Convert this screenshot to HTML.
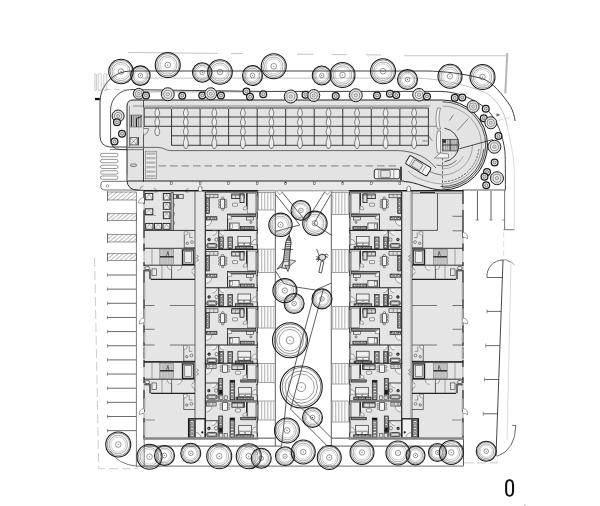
<!DOCTYPE html>
<html><head><meta charset="utf-8"><title>Site plan</title>
<style>
html,body{margin:0;padding:0;background:#fff;}
body{width:600px;height:506px;overflow:hidden;font-family:"Liberation Sans",sans-serif;}
svg{display:block}
</style></head><body>
<svg width="600" height="506" viewBox="0 0 600 506">
<rect width="600" height="506" fill="#fff"/>
<!-- fills -->
<path d="M133,100 H442.5 A45,45 0 0 1 442.5,190 C428,190 418,182 404,182 H135 Q127,182 127,174 V106 Q127,100 133,100 Z" fill="#e3e3e3" stroke="none" stroke-width="0" />
<path d="M127,174 V180 Q127,190.8 139,190.8 H441 V181 H127 Z" fill="#e9e9e9" stroke="none" stroke-width="0" />
<rect x="143.75" y="191.30" width="114.25" height="247.45" fill="#e5e5e5" stroke="none" stroke-width="0" />
<rect x="349.00" y="191.30" width="114.25" height="247.45" fill="#e5e5e5" stroke="none" stroke-width="0" />
<!-- roads -->
<path d="M128,52.5 L404,55.2" fill="none" stroke="#c4c4c4" stroke-width="1.0" stroke-dasharray="90 13 12 54 16 19 15 19 15 23 11 200"/>
<path d="M404,55.8 H506.5" fill="none" stroke="#c6c6c6" stroke-width="1.1" />
<path d="M507.3,53 L505.3,93.3" fill="none" stroke="#b5b5b5" stroke-width="2.0" />
<path d="M131,71 H425 C445,71 465,74 482.7,78.7 C493,82.5 503,95 510.7,106.7 C513,111 514.5,116 515,121" fill="none" stroke="#2a2a2a" stroke-width="0.9" />
<path d="M131,71 A31,31 0 0 0 100,102 V136 Q100,146 110,147 H127" fill="none" stroke="#2a2a2a" stroke-width="0.9" />
<path d="M142,78.1 H415 C440,78.4 468,85 486.7,93.3 C497,100 505,112 507.3,126.7" fill="none" stroke="#9a9a9a" stroke-width="0.6" />
<path d="M507.3,126.7 C510,140 514.2,155 514.2,172.5 V229.5" fill="none" stroke="#c2c2c2" stroke-width="0.6" />
<path d="M496.5,113.3 l4,1.6 l-4,1.6 z" fill="#666" stroke="none" stroke-width="0" />
<line x1="498.00" y1="120.50" x2="510.00" y2="117.50" stroke="#bbb" stroke-width="0.6" stroke-dasharray="5 2"/>
<path d="M131,89.6 L260,91.4 H440 C458,91.6 476,99.5 487.5,110 C497,120 503,135 505,152 C505.4,160 505.4,175 505.4,190" fill="none" stroke="#2a2a2a" stroke-width="0.9" />
<path d="M133,91.8 H262" fill="none" stroke="#555" stroke-width="0.5" />
<path d="M131,89.6 A20.4,20.4 0 0 0 110.6,110 V139 Q110.6,149.6 121,149.6 H127" fill="none" stroke="#2a2a2a" stroke-width="0.8" />
<line x1="105.00" y1="89.60" x2="127.00" y2="89.60" stroke="#bbb" stroke-width="0.7" stroke-dasharray="6 3"/>
<rect x="94.90" y="73.75" width="1.50" height="16.80" fill="none" stroke="#999" stroke-width="0.5" rx="0.8"/>
<rect x="98.20" y="73.75" width="3.00" height="16.80" fill="none" stroke="#999" stroke-width="0.5" rx="0.8"/>
<rect x="103.80" y="73.75" width="3.00" height="16.80" fill="none" stroke="#999" stroke-width="0.5" rx="0.8"/>
<rect x="95.00" y="97.90" width="4.80" height="2.30" fill="#111" stroke="none" stroke-width="0" />
<rect x="100.50" y="153.40" width="17.50" height="3.30" fill="none" stroke="#555" stroke-width="0.6" rx="1.6"/>
<rect x="100.50" y="159.40" width="17.50" height="3.30" fill="none" stroke="#555" stroke-width="0.6" rx="1.6"/>
<rect x="100.50" y="165.20" width="17.50" height="3.30" fill="none" stroke="#555" stroke-width="0.6" rx="1.6"/>
<rect x="100.50" y="170.80" width="17.50" height="3.30" fill="none" stroke="#555" stroke-width="0.6" rx="1.6"/>
<rect x="100.50" y="176.00" width="17.50" height="3.30" fill="none" stroke="#555" stroke-width="0.6" rx="1.6"/>
<path d="M104,181.3 H128 M104,181.3 Q100.8,181.3 100.8,185.5 Q100.8,190 105,190 H138.5" fill="none" stroke="#333" stroke-width="0.7" />
<circle cx="107.50" cy="186.00" r="1.30" fill="none" stroke="#555" stroke-width="0.5"/>
<defs><pattern id="hat" width="3" height="3" patternUnits="userSpaceOnUse" patternTransform="rotate(50)"><rect width="3" height="3" fill="#fff"/><line x1="0" y1="0" x2="0" y2="3" stroke="#555" stroke-width="0.8"/></pattern></defs>
<rect x="107.50" y="192.00" width="28.90" height="8.00" fill="url(#hat)" stroke="#555" stroke-width="0.6" />
<line x1="107.50" y1="190.80" x2="107.50" y2="201.20" stroke="#555" stroke-width="0.6" />
<rect x="107.50" y="213.75" width="28.90" height="6.75" fill="url(#hat)" stroke="#555" stroke-width="0.6" />
<line x1="107.50" y1="212.55" x2="107.50" y2="221.70" stroke="#555" stroke-width="0.6" />
<rect x="107.50" y="234.25" width="28.90" height="7.75" fill="url(#hat)" stroke="#555" stroke-width="0.6" />
<line x1="107.50" y1="233.05" x2="107.50" y2="243.20" stroke="#555" stroke-width="0.6" />
<rect x="107.50" y="253.75" width="28.90" height="6.75" fill="url(#hat)" stroke="#555" stroke-width="0.6" />
<line x1="107.50" y1="252.55" x2="107.50" y2="261.70" stroke="#555" stroke-width="0.6" />
<line x1="107.50" y1="275.00" x2="136.00" y2="275.00" stroke="#3a3a3a" stroke-width="0.75" />
<line x1="107.50" y1="273.30" x2="107.50" y2="276.70" stroke="#555" stroke-width="0.6" />
<line x1="107.50" y1="289.15" x2="136.00" y2="289.15" stroke="#3a3a3a" stroke-width="0.75" />
<line x1="107.50" y1="287.45" x2="107.50" y2="290.85" stroke="#555" stroke-width="0.6" />
<line x1="107.50" y1="303.30" x2="136.00" y2="303.30" stroke="#3a3a3a" stroke-width="0.75" />
<line x1="107.50" y1="301.60" x2="107.50" y2="305.00" stroke="#555" stroke-width="0.6" />
<line x1="107.50" y1="317.45" x2="136.00" y2="317.45" stroke="#3a3a3a" stroke-width="0.75" />
<line x1="107.50" y1="315.75" x2="107.50" y2="319.15" stroke="#555" stroke-width="0.6" />
<line x1="107.50" y1="331.60" x2="136.00" y2="331.60" stroke="#3a3a3a" stroke-width="0.75" />
<line x1="107.50" y1="329.90" x2="107.50" y2="333.30" stroke="#555" stroke-width="0.6" />
<line x1="107.50" y1="345.75" x2="136.00" y2="345.75" stroke="#3a3a3a" stroke-width="0.75" />
<line x1="107.50" y1="344.05" x2="107.50" y2="347.45" stroke="#555" stroke-width="0.6" />
<line x1="107.50" y1="359.90" x2="136.00" y2="359.90" stroke="#3a3a3a" stroke-width="0.75" />
<line x1="107.50" y1="358.20" x2="107.50" y2="361.60" stroke="#555" stroke-width="0.6" />
<line x1="107.50" y1="374.05" x2="136.00" y2="374.05" stroke="#3a3a3a" stroke-width="0.75" />
<line x1="107.50" y1="372.35" x2="107.50" y2="375.75" stroke="#555" stroke-width="0.6" />
<line x1="107.50" y1="388.20" x2="136.00" y2="388.20" stroke="#3a3a3a" stroke-width="0.75" />
<line x1="107.50" y1="386.50" x2="107.50" y2="389.90" stroke="#555" stroke-width="0.6" />
<line x1="107.50" y1="402.35" x2="136.00" y2="402.35" stroke="#3a3a3a" stroke-width="0.75" />
<line x1="107.50" y1="400.65" x2="107.50" y2="404.05" stroke="#555" stroke-width="0.6" />
<line x1="107.50" y1="416.50" x2="136.00" y2="416.50" stroke="#3a3a3a" stroke-width="0.75" />
<line x1="107.50" y1="414.80" x2="107.50" y2="418.20" stroke="#555" stroke-width="0.6" />
<line x1="107.50" y1="430.65" x2="136.00" y2="430.65" stroke="#3a3a3a" stroke-width="0.75" />
<line x1="107.50" y1="428.95" x2="107.50" y2="432.35" stroke="#555" stroke-width="0.6" />
<path d="M136.4,200 V466.2" fill="none" stroke="#444" stroke-width="0.7" />
<path d="M136.4,466.2 H463.5" fill="none" stroke="#8a8a8a" stroke-width="1.2" />
<path d="M110,451 Q118,464.5 137,466.2" fill="none" stroke="#444" stroke-width="0.7" />
<path d="M144.2,438 V466.5" fill="none" stroke="#444" stroke-width="0.7" />
<path d="M94.6,258 L98.7,468.7 H138" fill="none" stroke="#c6c6c6" stroke-width="0.9" stroke-dasharray="9 4"/>
<path d="M464,462.9 H497 V458" fill="none" stroke="#c6c6c6" stroke-width="0.9" stroke-dasharray="9 4"/>
<path d="M144.2,446.1 H281.6 M327.5,446.1 H463.5 M463.5,438.75 V465.8" fill="none" stroke="#333" stroke-width="0.8" />
<line x1="462.00" y1="190.00" x2="505.60" y2="190.00" stroke="#333" stroke-width="0.8" />
<path d="M504.6,190 V229.5 M503.5,229.7 H514.5" fill="none" stroke="#666" stroke-width="0.9" />
<line x1="477.40" y1="191.00" x2="477.40" y2="220.00" stroke="#333" stroke-width="0.8" />
<line x1="475.60" y1="220.00" x2="479.20" y2="220.00" stroke="#555" stroke-width="0.6" />
<line x1="491.00" y1="191.00" x2="491.00" y2="220.00" stroke="#333" stroke-width="0.8" />
<line x1="489.20" y1="220.00" x2="492.80" y2="220.00" stroke="#555" stroke-width="0.6" />
<line x1="502.00" y1="220.00" x2="504.50" y2="220.00" stroke="#555" stroke-width="0.6" />
<line x1="503.60" y1="232.00" x2="503.60" y2="260.00" stroke="#ccc" stroke-width="0.6" stroke-dasharray="6 3"/>
<path d="M487,277.5 A16,16 0 0 1 503,260" fill="none" stroke="#555" stroke-width="0.9" />
<path d="M487,277.5 H503" fill="none" stroke="#444" stroke-width="0.8" />
<path d="M503,260 q4,-1 6,1.5 M508,261 q4,0.5 6.5,4" fill="none" stroke="#888" stroke-width="0.9" />
<path d="M503,260 L496,456" fill="none" stroke="#333" stroke-width="0.9" />
<path d="M511,262 L507,440" fill="none" stroke="#ccc" stroke-width="0.7" />
<line x1="486.96" y1="311.40" x2="501.16" y2="311.40" stroke="#444" stroke-width="0.8" />
<line x1="486.96" y1="309.40" x2="486.96" y2="313.40" stroke="#555" stroke-width="0.6" />
<line x1="485.74" y1="345.60" x2="499.94" y2="345.60" stroke="#444" stroke-width="0.8" />
<line x1="485.74" y1="343.60" x2="485.74" y2="347.60" stroke="#555" stroke-width="0.6" />
<line x1="484.53" y1="379.50" x2="498.73" y2="379.50" stroke="#444" stroke-width="0.8" />
<line x1="484.53" y1="377.50" x2="484.53" y2="381.50" stroke="#555" stroke-width="0.6" />
<line x1="483.31" y1="413.75" x2="497.51" y2="413.75" stroke="#444" stroke-width="0.8" />
<line x1="483.31" y1="411.75" x2="483.31" y2="415.75" stroke="#555" stroke-width="0.6" />
<path d="M512.2,425.4 H516 M515.8,425.4 Q515.5,450 496.8,456.4" fill="none" stroke="#444" stroke-width="0.8" />
<!-- parking -->
<path d="M404,181.5 C418,182 428,190 442.5,190 A45,45 0 0 0 442.5,100 H133 Q127,100 127,106 V174" fill="none" stroke="#222" stroke-width="1.0" />
<path d="M133,106 H430" fill="none" stroke="#555" stroke-width="0.6" />
<line x1="143.50" y1="100.00" x2="143.50" y2="182.00" stroke="#333" stroke-width="0.8" />
<line x1="144.20" y1="108.00" x2="428.40" y2="108.00" stroke="#333" stroke-width="0.95" />
<line x1="144.20" y1="117.00" x2="428.40" y2="117.00" stroke="#333" stroke-width="0.95" />
<line x1="144.20" y1="126.30" x2="428.40" y2="126.30" stroke="#333" stroke-width="0.95" />
<line x1="171.54" y1="135.80" x2="428.40" y2="135.80" stroke="#333" stroke-width="0.95" />
<line x1="171.54" y1="145.30" x2="428.40" y2="145.30" stroke="#333" stroke-width="0.95" />
<line x1="144.20" y1="108.00" x2="144.20" y2="127.00" stroke="#333" stroke-width="0.95" />
<line x1="157.27" y1="108.00" x2="157.27" y2="132.00" stroke="#555" stroke-width="0.5" />
<path d="M156.27,108.30 C156.07,110.50 154.87,111.00 154.87,113.00 C154.87,115.20 155.87,115.90 156.27,116.70 L158.27,116.70 C158.67,115.90 159.67,115.20 159.67,113.00 C159.67,111.00 158.47,110.50 158.27,108.30 Z" fill="#ececec" stroke="#333" stroke-width="0.6" />
<path d="M156.27,117.30 C156.07,119.65 154.87,120.15 154.87,122.15 C154.87,124.50 155.87,125.20 156.27,126.00 L158.27,126.00 C158.67,125.20 159.67,124.50 159.67,122.15 C159.67,120.15 158.47,119.65 158.27,117.30 Z" fill="#ececec" stroke="#333" stroke-width="0.6" />
<path d="M156.27,126.60 C156.07,129.05 154.87,129.55 154.87,131.55 C154.87,134.00 155.87,134.70 156.27,135.50 L158.27,135.50 C158.67,134.70 159.67,134.00 159.67,131.55 C159.67,129.55 158.47,129.05 158.27,126.60 Z" fill="#ececec" stroke="#333" stroke-width="0.6" />
<line x1="171.54" y1="108.00" x2="171.54" y2="145.30" stroke="#333" stroke-width="0.95" />
<circle cx="171.54" cy="108.00" r="0.90" fill="#fff" stroke="#333" stroke-width="0.5"/>
<line x1="185.81" y1="108.00" x2="185.81" y2="148.50" stroke="#555" stroke-width="0.5" />
<path d="M184.81,108.30 C184.61,110.50 183.41,111.00 183.41,113.00 C183.41,115.20 184.41,115.90 184.81,116.70 L186.81,116.70 C187.21,115.90 188.21,115.20 188.21,113.00 C188.21,111.00 187.01,110.50 186.81,108.30 Z" fill="#ececec" stroke="#333" stroke-width="0.6" />
<path d="M184.81,117.30 C184.61,119.65 183.41,120.15 183.41,122.15 C183.41,124.50 184.41,125.20 184.81,126.00 L186.81,126.00 C187.21,125.20 188.21,124.50 188.21,122.15 C188.21,120.15 187.01,119.65 186.81,117.30 Z" fill="#ececec" stroke="#333" stroke-width="0.6" />
<path d="M184.81,126.60 C184.61,129.05 183.41,129.55 183.41,131.55 C183.41,134.00 184.41,134.70 184.81,135.50 L186.81,135.50 C187.21,134.70 188.21,134.00 188.21,131.55 C188.21,129.55 187.01,129.05 186.81,126.60 Z" fill="#ececec" stroke="#333" stroke-width="0.6" />
<path d="M184.81,136.10 C184.61,140.20 183.41,140.70 183.41,142.70 C183.41,146.80 184.41,147.50 184.81,148.30 L186.81,148.30 C187.21,147.50 188.21,146.80 188.21,142.70 C188.21,140.70 187.01,140.20 186.81,136.10 Z" fill="#ececec" stroke="#333" stroke-width="0.6" />
<line x1="200.08" y1="108.00" x2="200.08" y2="145.30" stroke="#333" stroke-width="0.95" />
<circle cx="200.08" cy="108.00" r="0.90" fill="#fff" stroke="#333" stroke-width="0.5"/>
<line x1="214.35" y1="108.00" x2="214.35" y2="148.50" stroke="#555" stroke-width="0.5" />
<path d="M213.35,108.30 C213.15,110.50 211.95,111.00 211.95,113.00 C211.95,115.20 212.95,115.90 213.35,116.70 L215.35,116.70 C215.75,115.90 216.75,115.20 216.75,113.00 C216.75,111.00 215.55,110.50 215.35,108.30 Z" fill="#ececec" stroke="#333" stroke-width="0.6" />
<path d="M213.35,117.30 C213.15,119.65 211.95,120.15 211.95,122.15 C211.95,124.50 212.95,125.20 213.35,126.00 L215.35,126.00 C215.75,125.20 216.75,124.50 216.75,122.15 C216.75,120.15 215.55,119.65 215.35,117.30 Z" fill="#ececec" stroke="#333" stroke-width="0.6" />
<path d="M213.35,126.60 C213.15,129.05 211.95,129.55 211.95,131.55 C211.95,134.00 212.95,134.70 213.35,135.50 L215.35,135.50 C215.75,134.70 216.75,134.00 216.75,131.55 C216.75,129.55 215.55,129.05 215.35,126.60 Z" fill="#ececec" stroke="#333" stroke-width="0.6" />
<path d="M213.35,136.10 C213.15,140.20 211.95,140.70 211.95,142.70 C211.95,146.80 212.95,147.50 213.35,148.30 L215.35,148.30 C215.75,147.50 216.75,146.80 216.75,142.70 C216.75,140.70 215.55,140.20 215.35,136.10 Z" fill="#ececec" stroke="#333" stroke-width="0.6" />
<line x1="228.62" y1="108.00" x2="228.62" y2="145.30" stroke="#333" stroke-width="0.95" />
<circle cx="228.62" cy="108.00" r="0.90" fill="#fff" stroke="#333" stroke-width="0.5"/>
<line x1="242.89" y1="108.00" x2="242.89" y2="148.50" stroke="#555" stroke-width="0.5" />
<path d="M241.89,108.30 C241.69,110.50 240.49,111.00 240.49,113.00 C240.49,115.20 241.49,115.90 241.89,116.70 L243.89,116.70 C244.29,115.90 245.29,115.20 245.29,113.00 C245.29,111.00 244.09,110.50 243.89,108.30 Z" fill="#ececec" stroke="#333" stroke-width="0.6" />
<path d="M241.89,117.30 C241.69,119.65 240.49,120.15 240.49,122.15 C240.49,124.50 241.49,125.20 241.89,126.00 L243.89,126.00 C244.29,125.20 245.29,124.50 245.29,122.15 C245.29,120.15 244.09,119.65 243.89,117.30 Z" fill="#ececec" stroke="#333" stroke-width="0.6" />
<path d="M241.89,126.60 C241.69,129.05 240.49,129.55 240.49,131.55 C240.49,134.00 241.49,134.70 241.89,135.50 L243.89,135.50 C244.29,134.70 245.29,134.00 245.29,131.55 C245.29,129.55 244.09,129.05 243.89,126.60 Z" fill="#ececec" stroke="#333" stroke-width="0.6" />
<path d="M241.89,136.10 C241.69,140.20 240.49,140.70 240.49,142.70 C240.49,146.80 241.49,147.50 241.89,148.30 L243.89,148.30 C244.29,147.50 245.29,146.80 245.29,142.70 C245.29,140.70 244.09,140.20 243.89,136.10 Z" fill="#ececec" stroke="#333" stroke-width="0.6" />
<line x1="257.16" y1="108.00" x2="257.16" y2="145.30" stroke="#333" stroke-width="0.95" />
<circle cx="257.16" cy="108.00" r="0.90" fill="#fff" stroke="#333" stroke-width="0.5"/>
<line x1="271.43" y1="108.00" x2="271.43" y2="148.50" stroke="#555" stroke-width="0.5" />
<path d="M270.43,108.30 C270.23,110.50 269.03,111.00 269.03,113.00 C269.03,115.20 270.03,115.90 270.43,116.70 L272.43,116.70 C272.83,115.90 273.83,115.20 273.83,113.00 C273.83,111.00 272.63,110.50 272.43,108.30 Z" fill="#ececec" stroke="#333" stroke-width="0.6" />
<path d="M270.43,117.30 C270.23,119.65 269.03,120.15 269.03,122.15 C269.03,124.50 270.03,125.20 270.43,126.00 L272.43,126.00 C272.83,125.20 273.83,124.50 273.83,122.15 C273.83,120.15 272.63,119.65 272.43,117.30 Z" fill="#ececec" stroke="#333" stroke-width="0.6" />
<path d="M270.43,126.60 C270.23,129.05 269.03,129.55 269.03,131.55 C269.03,134.00 270.03,134.70 270.43,135.50 L272.43,135.50 C272.83,134.70 273.83,134.00 273.83,131.55 C273.83,129.55 272.63,129.05 272.43,126.60 Z" fill="#ececec" stroke="#333" stroke-width="0.6" />
<path d="M270.43,136.10 C270.23,140.20 269.03,140.70 269.03,142.70 C269.03,146.80 270.03,147.50 270.43,148.30 L272.43,148.30 C272.83,147.50 273.83,146.80 273.83,142.70 C273.83,140.70 272.63,140.20 272.43,136.10 Z" fill="#ececec" stroke="#333" stroke-width="0.6" />
<line x1="285.70" y1="108.00" x2="285.70" y2="145.30" stroke="#333" stroke-width="0.95" />
<circle cx="285.70" cy="108.00" r="0.90" fill="#fff" stroke="#333" stroke-width="0.5"/>
<line x1="299.97" y1="108.00" x2="299.97" y2="148.50" stroke="#555" stroke-width="0.5" />
<path d="M298.97,108.30 C298.77,110.50 297.57,111.00 297.57,113.00 C297.57,115.20 298.57,115.90 298.97,116.70 L300.97,116.70 C301.37,115.90 302.37,115.20 302.37,113.00 C302.37,111.00 301.17,110.50 300.97,108.30 Z" fill="#ececec" stroke="#333" stroke-width="0.6" />
<path d="M298.97,117.30 C298.77,119.65 297.57,120.15 297.57,122.15 C297.57,124.50 298.57,125.20 298.97,126.00 L300.97,126.00 C301.37,125.20 302.37,124.50 302.37,122.15 C302.37,120.15 301.17,119.65 300.97,117.30 Z" fill="#ececec" stroke="#333" stroke-width="0.6" />
<path d="M298.97,126.60 C298.77,129.05 297.57,129.55 297.57,131.55 C297.57,134.00 298.57,134.70 298.97,135.50 L300.97,135.50 C301.37,134.70 302.37,134.00 302.37,131.55 C302.37,129.55 301.17,129.05 300.97,126.60 Z" fill="#ececec" stroke="#333" stroke-width="0.6" />
<path d="M298.97,136.10 C298.77,140.20 297.57,140.70 297.57,142.70 C297.57,146.80 298.57,147.50 298.97,148.30 L300.97,148.30 C301.37,147.50 302.37,146.80 302.37,142.70 C302.37,140.70 301.17,140.20 300.97,136.10 Z" fill="#ececec" stroke="#333" stroke-width="0.6" />
<line x1="314.24" y1="108.00" x2="314.24" y2="145.30" stroke="#333" stroke-width="0.95" />
<circle cx="314.24" cy="108.00" r="0.90" fill="#fff" stroke="#333" stroke-width="0.5"/>
<line x1="328.51" y1="108.00" x2="328.51" y2="148.50" stroke="#555" stroke-width="0.5" />
<path d="M327.51,108.30 C327.31,110.50 326.11,111.00 326.11,113.00 C326.11,115.20 327.11,115.90 327.51,116.70 L329.51,116.70 C329.91,115.90 330.91,115.20 330.91,113.00 C330.91,111.00 329.71,110.50 329.51,108.30 Z" fill="#ececec" stroke="#333" stroke-width="0.6" />
<path d="M327.51,117.30 C327.31,119.65 326.11,120.15 326.11,122.15 C326.11,124.50 327.11,125.20 327.51,126.00 L329.51,126.00 C329.91,125.20 330.91,124.50 330.91,122.15 C330.91,120.15 329.71,119.65 329.51,117.30 Z" fill="#ececec" stroke="#333" stroke-width="0.6" />
<path d="M327.51,126.60 C327.31,129.05 326.11,129.55 326.11,131.55 C326.11,134.00 327.11,134.70 327.51,135.50 L329.51,135.50 C329.91,134.70 330.91,134.00 330.91,131.55 C330.91,129.55 329.71,129.05 329.51,126.60 Z" fill="#ececec" stroke="#333" stroke-width="0.6" />
<path d="M327.51,136.10 C327.31,140.20 326.11,140.70 326.11,142.70 C326.11,146.80 327.11,147.50 327.51,148.30 L329.51,148.30 C329.91,147.50 330.91,146.80 330.91,142.70 C330.91,140.70 329.71,140.20 329.51,136.10 Z" fill="#ececec" stroke="#333" stroke-width="0.6" />
<line x1="342.78" y1="108.00" x2="342.78" y2="145.30" stroke="#333" stroke-width="0.95" />
<circle cx="342.78" cy="108.00" r="0.90" fill="#fff" stroke="#333" stroke-width="0.5"/>
<line x1="357.05" y1="108.00" x2="357.05" y2="148.50" stroke="#555" stroke-width="0.5" />
<path d="M356.05,108.30 C355.85,110.50 354.65,111.00 354.65,113.00 C354.65,115.20 355.65,115.90 356.05,116.70 L358.05,116.70 C358.45,115.90 359.45,115.20 359.45,113.00 C359.45,111.00 358.25,110.50 358.05,108.30 Z" fill="#ececec" stroke="#333" stroke-width="0.6" />
<path d="M356.05,117.30 C355.85,119.65 354.65,120.15 354.65,122.15 C354.65,124.50 355.65,125.20 356.05,126.00 L358.05,126.00 C358.45,125.20 359.45,124.50 359.45,122.15 C359.45,120.15 358.25,119.65 358.05,117.30 Z" fill="#ececec" stroke="#333" stroke-width="0.6" />
<path d="M356.05,126.60 C355.85,129.05 354.65,129.55 354.65,131.55 C354.65,134.00 355.65,134.70 356.05,135.50 L358.05,135.50 C358.45,134.70 359.45,134.00 359.45,131.55 C359.45,129.55 358.25,129.05 358.05,126.60 Z" fill="#ececec" stroke="#333" stroke-width="0.6" />
<path d="M356.05,136.10 C355.85,140.20 354.65,140.70 354.65,142.70 C354.65,146.80 355.65,147.50 356.05,148.30 L358.05,148.30 C358.45,147.50 359.45,146.80 359.45,142.70 C359.45,140.70 358.25,140.20 358.05,136.10 Z" fill="#ececec" stroke="#333" stroke-width="0.6" />
<line x1="371.32" y1="108.00" x2="371.32" y2="145.30" stroke="#333" stroke-width="0.95" />
<circle cx="371.32" cy="108.00" r="0.90" fill="#fff" stroke="#333" stroke-width="0.5"/>
<line x1="385.59" y1="108.00" x2="385.59" y2="148.50" stroke="#555" stroke-width="0.5" />
<path d="M384.59,108.30 C384.39,110.50 383.19,111.00 383.19,113.00 C383.19,115.20 384.19,115.90 384.59,116.70 L386.59,116.70 C386.99,115.90 387.99,115.20 387.99,113.00 C387.99,111.00 386.79,110.50 386.59,108.30 Z" fill="#ececec" stroke="#333" stroke-width="0.6" />
<path d="M384.59,117.30 C384.39,119.65 383.19,120.15 383.19,122.15 C383.19,124.50 384.19,125.20 384.59,126.00 L386.59,126.00 C386.99,125.20 387.99,124.50 387.99,122.15 C387.99,120.15 386.79,119.65 386.59,117.30 Z" fill="#ececec" stroke="#333" stroke-width="0.6" />
<path d="M384.59,126.60 C384.39,129.05 383.19,129.55 383.19,131.55 C383.19,134.00 384.19,134.70 384.59,135.50 L386.59,135.50 C386.99,134.70 387.99,134.00 387.99,131.55 C387.99,129.55 386.79,129.05 386.59,126.60 Z" fill="#ececec" stroke="#333" stroke-width="0.6" />
<path d="M384.59,136.10 C384.39,140.20 383.19,140.70 383.19,142.70 C383.19,146.80 384.19,147.50 384.59,148.30 L386.59,148.30 C386.99,147.50 387.99,146.80 387.99,142.70 C387.99,140.70 386.79,140.20 386.59,136.10 Z" fill="#ececec" stroke="#333" stroke-width="0.6" />
<line x1="399.86" y1="108.00" x2="399.86" y2="145.30" stroke="#333" stroke-width="0.95" />
<circle cx="399.86" cy="108.00" r="0.90" fill="#fff" stroke="#333" stroke-width="0.5"/>
<line x1="414.13" y1="108.00" x2="414.13" y2="148.50" stroke="#555" stroke-width="0.5" />
<path d="M413.13,108.30 C412.93,110.50 411.73,111.00 411.73,113.00 C411.73,115.20 412.73,115.90 413.13,116.70 L415.13,116.70 C415.53,115.90 416.53,115.20 416.53,113.00 C416.53,111.00 415.33,110.50 415.13,108.30 Z" fill="#ececec" stroke="#333" stroke-width="0.6" />
<path d="M413.13,117.30 C412.93,119.65 411.73,120.15 411.73,122.15 C411.73,124.50 412.73,125.20 413.13,126.00 L415.13,126.00 C415.53,125.20 416.53,124.50 416.53,122.15 C416.53,120.15 415.33,119.65 415.13,117.30 Z" fill="#ececec" stroke="#333" stroke-width="0.6" />
<path d="M413.13,126.60 C412.93,129.05 411.73,129.55 411.73,131.55 C411.73,134.00 412.73,134.70 413.13,135.50 L415.13,135.50 C415.53,134.70 416.53,134.00 416.53,131.55 C416.53,129.55 415.33,129.05 415.13,126.60 Z" fill="#ececec" stroke="#333" stroke-width="0.6" />
<path d="M413.13,136.10 C412.93,140.20 411.73,140.70 411.73,142.70 C411.73,146.80 412.73,147.50 413.13,148.30 L415.13,148.30 C415.53,147.50 416.53,146.80 416.53,142.70 C416.53,140.70 415.33,140.20 415.13,136.10 Z" fill="#ececec" stroke="#333" stroke-width="0.6" />
<line x1="428.40" y1="108.00" x2="428.40" y2="145.30" stroke="#333" stroke-width="0.95" />
<path d="M143.5,147.4 H158 C164,147.4 165,150.6 171,150.6 H398 C415,151 428,158 436,168" fill="none" stroke="#333" stroke-width="0.7" />
<path d="M127.5,181 H404" fill="none" stroke="#222" stroke-width="1.0" />
<path d="M127,174 V180 Q127,190.3 139,190.3 H143.5" fill="none" stroke="#222" stroke-width="0.9" />
<rect x="170.64" y="182.00" width="1.80" height="2.60" fill="#fff" stroke="#333" stroke-width="0.5" />
<rect x="199.18" y="182.00" width="1.80" height="2.60" fill="#fff" stroke="#333" stroke-width="0.5" />
<rect x="227.72" y="182.00" width="1.80" height="2.60" fill="#fff" stroke="#333" stroke-width="0.5" />
<rect x="256.26" y="182.00" width="1.80" height="2.60" fill="#fff" stroke="#333" stroke-width="0.5" />
<rect x="284.80" y="182.00" width="1.80" height="2.60" fill="#fff" stroke="#333" stroke-width="0.5" />
<rect x="313.34" y="182.00" width="1.80" height="2.60" fill="#fff" stroke="#333" stroke-width="0.5" />
<rect x="341.88" y="182.00" width="1.80" height="2.60" fill="#fff" stroke="#333" stroke-width="0.5" />
<rect x="370.42" y="182.00" width="1.80" height="2.60" fill="#fff" stroke="#333" stroke-width="0.5" />
<rect x="398.96" y="182.00" width="1.80" height="2.60" fill="#fff" stroke="#333" stroke-width="0.5" />
<line x1="158.50" y1="165.90" x2="396.00" y2="165.90" stroke="#555" stroke-width="0.7" stroke-dasharray="7.5 4"/>
<rect x="145.50" y="151.20" width="10.80" height="27.60" fill="#f0f0f0" stroke="#555" stroke-width="0.5" />
<rect x="146.30" y="152.40" width="9.20" height="2.50" fill="#b8b8b8" stroke="none" stroke-width="0" />
<rect x="146.30" y="156.90" width="9.20" height="2.50" fill="#b8b8b8" stroke="none" stroke-width="0" />
<rect x="146.30" y="161.40" width="9.20" height="2.50" fill="#b8b8b8" stroke="none" stroke-width="0" />
<rect x="146.30" y="165.90" width="9.20" height="2.50" fill="#b8b8b8" stroke="none" stroke-width="0" />
<rect x="146.30" y="170.40" width="9.20" height="2.50" fill="#b8b8b8" stroke="none" stroke-width="0" />
<rect x="146.30" y="174.90" width="9.20" height="2.50" fill="#b8b8b8" stroke="none" stroke-width="0" />
<line x1="143.50" y1="150.60" x2="143.50" y2="182.00" stroke="#333" stroke-width="0.8" />
<rect x="130.50" y="164.00" width="6.00" height="2.40" fill="#ddd" stroke="#333" stroke-width="0.6" rx="1.2"/>
<rect x="128.20" y="107.50" width="15.30" height="25.00" fill="#e3e3e3" stroke="none" stroke-width="0" />
<line x1="129.50" y1="106.00" x2="129.50" y2="147.20" stroke="#555" stroke-width="0.5" />
<rect x="130.00" y="115.00" width="11.80" height="12.00" fill="#d6d6d6" stroke="#444" stroke-width="0.5" />
<line x1="131.70" y1="115.00" x2="131.70" y2="127.00" stroke="#333" stroke-width="0.5" />
<line x1="133.40" y1="115.00" x2="133.40" y2="127.00" stroke="#333" stroke-width="0.5" />
<line x1="135.10" y1="115.00" x2="135.10" y2="127.00" stroke="#333" stroke-width="0.5" />
<line x1="136.80" y1="115.00" x2="136.80" y2="127.00" stroke="#333" stroke-width="0.5" />
<line x1="138.50" y1="115.00" x2="138.50" y2="127.00" stroke="#333" stroke-width="0.5" />
<line x1="140.20" y1="115.00" x2="140.20" y2="127.00" stroke="#333" stroke-width="0.5" />
<path d="M136.5,127 V118.5 L141.5,116.5" fill="none" stroke="#111" stroke-width="0.9" />
<line x1="131.50" y1="115.50" x2="131.50" y2="126.50" stroke="#222" stroke-width="0.9" />
<path d="M143.7,128.5 H148.5 Q148,134 143.7,135" fill="#e8e8e8" stroke="#444" stroke-width="0.6" />
<rect x="130.00" y="137.70" width="7.20" height="7.20" fill="#eee" stroke="#333" stroke-width="0.7" />
<path d="M130,137.7 l7.2,7.2 M137.2,137.7 l-7.2,7.2" fill="none" stroke="#555" stroke-width="0.5" />
<line x1="138.40" y1="137.00" x2="138.40" y2="145.40" stroke="#222" stroke-width="0.9" />
<line x1="127.50" y1="147.30" x2="144.30" y2="147.30" stroke="#666" stroke-width="1.1" />
<line x1="110.00" y1="149.60" x2="143.70" y2="149.60" stroke="#333" stroke-width="0.6" />
<line x1="442.50" y1="153.00" x2="442.50" y2="190.00" stroke="#444" stroke-width="0.7" stroke-dasharray="3 1.5"/>
<path d="M442.5,101.8 A43.2,43.2 0 0 1 442.5,188.2" fill="none" stroke="#333" stroke-width="0.8" />
<path d="M442.5,106 A39,39 0 0 1 442.5,184" fill="none" stroke="#777" stroke-width="0.6" />
<path d="M444.5,181.6 A36.6,36.6 0 0 0 478.9,149" fill="none" stroke="#555" stroke-width="0.9" stroke-dasharray="2.2 1.3"/>
<path d="M440.5,186.5 A41.5,41.5 0 0 0 483.8,149" fill="none" stroke="#333" stroke-width="0.8" />
<path d="M442.5,184 C428,183 414,178 408,171" fill="none" stroke="#777" stroke-width="0.6" />
<path d="M442.5,175 C430,174 424,168 420,161" fill="none" stroke="#555" stroke-width="0.7" />
<path d="M442.5,175 A30,30 0 0 0 472.5,145" fill="none" stroke="#777" stroke-width="0.6" />
<path d="M442.5,169 A24,24 0 0 0 463.5,156" fill="none" stroke="#777" stroke-width="0.5" />
<path d="M436.5,165 A21,21 0 0 0 456.5,160.5" fill="none" stroke="#444" stroke-width="0.7" />
<path d="M444.5,128.2 A17,17 0 0 1 444.5,161.8" fill="none" stroke="#333" stroke-width="0.9" />
<rect x="442.50" y="139.30" width="15.40" height="11.60" fill="#d8d8d8" stroke="#333" stroke-width="0.7" />
<line x1="443.50" y1="139.30" x2="443.50" y2="150.90" stroke="#444" stroke-width="0.45" />
<line x1="445.40" y1="139.30" x2="445.40" y2="150.90" stroke="#444" stroke-width="0.45" />
<line x1="447.30" y1="139.30" x2="447.30" y2="150.90" stroke="#444" stroke-width="0.45" />
<line x1="449.20" y1="139.30" x2="449.20" y2="150.90" stroke="#444" stroke-width="0.45" />
<line x1="451.10" y1="139.30" x2="451.10" y2="150.90" stroke="#444" stroke-width="0.45" />
<line x1="453.00" y1="139.30" x2="453.00" y2="150.90" stroke="#444" stroke-width="0.45" />
<line x1="454.90" y1="139.30" x2="454.90" y2="150.90" stroke="#444" stroke-width="0.45" />
<line x1="456.80" y1="139.30" x2="456.80" y2="150.90" stroke="#444" stroke-width="0.45" />
<line x1="442.50" y1="145.00" x2="457.90" y2="145.00" stroke="#222" stroke-width="0.8" />
<line x1="450.20" y1="139.30" x2="450.20" y2="150.90" stroke="#222" stroke-width="0.8" />
<rect x="442.70" y="139.70" width="3.20" height="3.20" fill="#333" stroke="none" stroke-width="0" />
<path d="M437.5,108 C435.5,115 435.5,123 437.5,129 L440.5,129 C438.5,123 438.5,115 440.5,108 Z" fill="#f4f4f4" stroke="#444" stroke-width="0.55" />
<path d="M437.5,131 C436.0,137 436.0,147 437.5,153 L440.5,153 L440.5,131 Z" fill="#f4f4f4" stroke="#444" stroke-width="0.55" />
<path d="M434.5,158 L440.5,153 L448.5,154 L448.5,158 Z" fill="#f4f4f4" stroke="#444" stroke-width="0.55" />
<line x1="449.50" y1="120.50" x2="453.50" y2="114.50" stroke="#444" stroke-width="0.6" />
<line x1="457.30" y1="130.60" x2="468.20" y2="118.70" stroke="#444" stroke-width="0.6" />
<line x1="459.30" y1="148.80" x2="492.90" y2="139.50" stroke="#222" stroke-width="0.8" />
<path d="M428.40,126.3 L436.5,126.3 M428.40,135.8 L432.5,141 M422.40,141 h5" fill="none" stroke="#444" stroke-width="0.6" />
<g transform="translate(387,174) rotate(0)">
<rect x="-12.75" y="-4.80" width="25.50" height="9.60" fill="#f3f3f3" stroke="#1a1a1a" stroke-width="0.9" rx="1.8"/>
<rect x="-6.25" y="-3.60" width="9.50" height="7.20" fill="#e2e2e2" stroke="#333" stroke-width="0.6" rx="1"/>
<line x1="-8.25" y1="-4.00" x2="-8.25" y2="4.00" stroke="#444" stroke-width="0.5" />
<line x1="6.75" y1="-4.00" x2="6.75" y2="4.00" stroke="#444" stroke-width="0.5" />
<line x1="-6.25" y1="-3.60" x2="-8.25" y2="-4.20" stroke="#444" stroke-width="0.4" />
<line x1="-6.25" y1="3.60" x2="-8.25" y2="4.20" stroke="#444" stroke-width="0.4" />
</g>
<rect x="400.20" y="166.70" width="1.60" height="13.80" fill="#222" stroke="none" stroke-width="0" />
<g transform="translate(418.3,165.8) rotate(31)">
<rect x="-12.50" y="-4.80" width="25.00" height="9.60" fill="#f3f3f3" stroke="#1a1a1a" stroke-width="0.9" rx="1.8"/>
<rect x="-6.00" y="-3.60" width="9.50" height="7.20" fill="#e2e2e2" stroke="#333" stroke-width="0.6" rx="1"/>
<line x1="-8.00" y1="-4.00" x2="-8.00" y2="4.00" stroke="#444" stroke-width="0.5" />
<line x1="6.50" y1="-4.00" x2="6.50" y2="4.00" stroke="#444" stroke-width="0.5" />
<line x1="-6.00" y1="-3.60" x2="-8.00" y2="-4.20" stroke="#444" stroke-width="0.4" />
<line x1="-6.00" y1="3.60" x2="-8.00" y2="4.20" stroke="#444" stroke-width="0.4" />
</g>
<!-- building -->
<line x1="144.00" y1="191.30" x2="144.00" y2="204.00" stroke="#222" stroke-width="1.2" />
<line x1="144.00" y1="210.00" x2="144.00" y2="238.00" stroke="#222" stroke-width="1.2" />
<line x1="144.00" y1="243.50" x2="144.00" y2="251.00" stroke="#222" stroke-width="1.2" />
<line x1="144.00" y1="262.00" x2="144.00" y2="266.00" stroke="#222" stroke-width="1.2" />
<line x1="144.00" y1="270.00" x2="144.00" y2="319.00" stroke="#222" stroke-width="1.2" />
<line x1="144.00" y1="325.00" x2="144.00" y2="346.00" stroke="#222" stroke-width="1.2" />
<line x1="144.00" y1="352.00" x2="144.00" y2="356.00" stroke="#222" stroke-width="1.2" />
<line x1="144.00" y1="360.00" x2="144.00" y2="367.00" stroke="#222" stroke-width="1.2" />
<line x1="144.00" y1="377.00" x2="144.00" y2="383.00" stroke="#222" stroke-width="1.2" />
<line x1="144.00" y1="390.00" x2="144.00" y2="412.00" stroke="#222" stroke-width="1.2" />
<line x1="144.00" y1="418.00" x2="144.00" y2="438.75" stroke="#222" stroke-width="1.2" />
<line x1="144.00" y1="191.30" x2="144.00" y2="438.75" stroke="#555" stroke-width="0.45" />
<rect x="143.20" y="282.00" width="1.70" height="18.00" fill="#e8e8e8" stroke="#333" stroke-width="0.4" />
<rect x="143.20" y="308.00" width="1.70" height="18.00" fill="#e8e8e8" stroke="#333" stroke-width="0.4" />
<rect x="143.20" y="332.00" width="1.70" height="11.00" fill="#e8e8e8" stroke="#333" stroke-width="0.4" />
<rect x="143.20" y="348.00" width="1.70" height="10.00" fill="#e8e8e8" stroke="#333" stroke-width="0.4" />
<rect x="143.20" y="398.00" width="1.70" height="12.00" fill="#e8e8e8" stroke="#333" stroke-width="0.4" />
<rect x="143.20" y="422.00" width="1.70" height="14.00" fill="#e8e8e8" stroke="#333" stroke-width="0.4" />
<line x1="195.00" y1="191.30" x2="195.00" y2="438.75" stroke="#4a4a4a" stroke-width="0.8" />
<g transform="translate(144,248.3)">
<line x1="0.00" y1="0.00" x2="51.00" y2="0.00" stroke="#222" stroke-width="0.9" />
<line x1="0.00" y1="16.90" x2="51.00" y2="16.90" stroke="#222" stroke-width="0.9" />
<line x1="8.00" y1="0.00" x2="8.00" y2="16.90" stroke="#555" stroke-width="0.5" />
<rect x="15.70" y="0.80" width="14.00" height="15.40" fill="#d4d4d4" stroke="#555" stroke-width="0.4" />
<line x1="16.60" y1="0.80" x2="16.60" y2="16.20" stroke="#888" stroke-width="0.4" />
<line x1="18.15" y1="0.80" x2="18.15" y2="16.20" stroke="#888" stroke-width="0.4" />
<line x1="19.70" y1="0.80" x2="19.70" y2="16.20" stroke="#888" stroke-width="0.4" />
<line x1="21.25" y1="0.80" x2="21.25" y2="16.20" stroke="#888" stroke-width="0.4" />
<line x1="22.80" y1="0.80" x2="22.80" y2="16.20" stroke="#888" stroke-width="0.4" />
<line x1="24.35" y1="0.80" x2="24.35" y2="16.20" stroke="#888" stroke-width="0.4" />
<line x1="25.90" y1="0.80" x2="25.90" y2="16.20" stroke="#888" stroke-width="0.4" />
<line x1="27.45" y1="0.80" x2="27.45" y2="16.20" stroke="#888" stroke-width="0.4" />
<line x1="29.00" y1="0.80" x2="29.00" y2="16.20" stroke="#888" stroke-width="0.4" />
<line x1="16.00" y1="8.50" x2="29.60" y2="8.50" stroke="#1a1a1a" stroke-width="1.3" />
<path d="M22.5,7.6 l1.4,-4.6 l0.9,4.6 M23.6,5.6 h1" fill="none" stroke="#222" stroke-width="0.5" />
<line x1="38.00" y1="0.00" x2="38.00" y2="16.90" stroke="#555" stroke-width="0.5" />
<rect x="38.60" y="1.60" width="11.20" height="14.60" fill="#ccc" stroke="#222" stroke-width="1.2" />
<rect x="40.80" y="3.40" width="6.60" height="10.60" fill="#ececec" stroke="#444" stroke-width="0.5" />
<path d="M52.5,6.5 l2,1.6 l-2,1.6 M52.5,10 l2,1.6 l-2,1.6" fill="none" stroke="#333" stroke-width="0.5" />
<line x1="18.00" y1="17.00" x2="18.00" y2="30.50" stroke="#555" stroke-width="0.5" />
<line x1="27.60" y1="17.00" x2="27.60" y2="30.50" stroke="#333" stroke-width="0.8" />
<rect x="8.00" y="20.60" width="4.60" height="6.60" fill="#e8e8e8" stroke="#333" stroke-width="0.6" />
<rect x="1.00" y="18.20" width="4.40" height="3.20" fill="#eee" stroke="#222" stroke-width="0.6" rx="1.4"/>
<path d="M0.7,21.6 h6 v9 h-1.2 v-7.8 h-4.8 z" fill="#888" stroke="#222" stroke-width="0.5" />
<path d="M27.20,21.40 A4,4 0 0 1 23.20,17.40 L27.20,17.40" fill="#f2f2f2" stroke="#444" stroke-width="0.45" />
<path d="M33.40,22.00 A4.6,4.6 0 0 0 38.00,17.40 L33.40,17.40" fill="#f2f2f2" stroke="#444" stroke-width="0.45" />
<path d="M47.5,22 q3,-1.5 3.4,-4.4 M47.5,24 q3,1.5 3.4,4.4" fill="none" stroke="#444" stroke-width="0.5" />
<line x1="7.00" y1="31.00" x2="51.00" y2="31.00" stroke="#222" stroke-width="1.2" />
</g>
<g transform="translate(144,362.3)">
<line x1="0.00" y1="0.00" x2="51.00" y2="0.00" stroke="#222" stroke-width="0.9" />
<line x1="0.00" y1="16.90" x2="51.00" y2="16.90" stroke="#222" stroke-width="0.9" />
<line x1="8.00" y1="0.00" x2="8.00" y2="16.90" stroke="#555" stroke-width="0.5" />
<rect x="15.70" y="0.80" width="14.00" height="15.40" fill="#d4d4d4" stroke="#555" stroke-width="0.4" />
<line x1="16.60" y1="0.80" x2="16.60" y2="16.20" stroke="#888" stroke-width="0.4" />
<line x1="18.15" y1="0.80" x2="18.15" y2="16.20" stroke="#888" stroke-width="0.4" />
<line x1="19.70" y1="0.80" x2="19.70" y2="16.20" stroke="#888" stroke-width="0.4" />
<line x1="21.25" y1="0.80" x2="21.25" y2="16.20" stroke="#888" stroke-width="0.4" />
<line x1="22.80" y1="0.80" x2="22.80" y2="16.20" stroke="#888" stroke-width="0.4" />
<line x1="24.35" y1="0.80" x2="24.35" y2="16.20" stroke="#888" stroke-width="0.4" />
<line x1="25.90" y1="0.80" x2="25.90" y2="16.20" stroke="#888" stroke-width="0.4" />
<line x1="27.45" y1="0.80" x2="27.45" y2="16.20" stroke="#888" stroke-width="0.4" />
<line x1="29.00" y1="0.80" x2="29.00" y2="16.20" stroke="#888" stroke-width="0.4" />
<line x1="16.00" y1="8.50" x2="29.60" y2="8.50" stroke="#1a1a1a" stroke-width="1.3" />
<path d="M22.5,7.6 l1.4,-4.6 l0.9,4.6 M23.6,5.6 h1" fill="none" stroke="#222" stroke-width="0.5" />
<line x1="38.00" y1="0.00" x2="38.00" y2="16.90" stroke="#555" stroke-width="0.5" />
<rect x="38.60" y="1.60" width="11.20" height="14.60" fill="#ccc" stroke="#222" stroke-width="1.2" />
<rect x="40.80" y="3.40" width="6.60" height="10.60" fill="#ececec" stroke="#444" stroke-width="0.5" />
<path d="M52.5,6.5 l2,1.6 l-2,1.6 M52.5,10 l2,1.6 l-2,1.6" fill="none" stroke="#333" stroke-width="0.5" />
<line x1="18.00" y1="17.00" x2="18.00" y2="30.50" stroke="#555" stroke-width="0.5" />
<line x1="27.60" y1="17.00" x2="27.60" y2="30.50" stroke="#333" stroke-width="0.8" />
<rect x="8.00" y="20.60" width="4.60" height="6.60" fill="#e8e8e8" stroke="#333" stroke-width="0.6" />
<rect x="1.00" y="18.20" width="4.40" height="3.20" fill="#eee" stroke="#222" stroke-width="0.6" rx="1.4"/>
<path d="M0.7,21.6 h6 v9 h-1.2 v-7.8 h-4.8 z" fill="#888" stroke="#222" stroke-width="0.5" />
<path d="M27.20,21.40 A4,4 0 0 1 23.20,17.40 L27.20,17.40" fill="#f2f2f2" stroke="#444" stroke-width="0.45" />
<path d="M33.40,22.00 A4.6,4.6 0 0 0 38.00,17.40 L33.40,17.40" fill="#f2f2f2" stroke="#444" stroke-width="0.45" />
<path d="M47.5,22 q3,-1.5 3.4,-4.4 M47.5,24 q3,1.5 3.4,4.4" fill="none" stroke="#444" stroke-width="0.5" />
<line x1="7.00" y1="31.00" x2="51.00" y2="31.00" stroke="#222" stroke-width="1.2" />
</g>
<line x1="144.50" y1="305.50" x2="154.50" y2="305.50" stroke="#555" stroke-width="0.8" />
<line x1="170.00" y1="305.50" x2="195.00" y2="305.50" stroke="#555" stroke-width="0.8" />
<line x1="144.50" y1="345.00" x2="154.50" y2="345.00" stroke="#555" stroke-width="0.8" />
<line x1="170.00" y1="345.00" x2="195.00" y2="345.00" stroke="#555" stroke-width="0.8" />
<line x1="144.50" y1="329.25" x2="154.50" y2="329.25" stroke="#555" stroke-width="0.8" />
<line x1="145.00" y1="420.00" x2="155.00" y2="420.00" stroke="#666" stroke-width="0.7" />
<path d="M183.75,345.4 V361.2 H195" fill="none" stroke="#333" stroke-width="0.7" />
<path d="M184.05,349.30 A3.6,3.6 0 0 0 187.65,345.70 L184.05,345.70" fill="#f2f2f2" stroke="#444" stroke-width="0.45" />
<circle cx="186.75" cy="356.70" r="1.20" fill="#ddd" stroke="#222" stroke-width="0.5"/>
<rect x="190.15" y="354.20" width="2.60" height="2.60" fill="#eee" stroke="#222" stroke-width="0.5" rx="1"/>
<path d="M189.25,346.4 v5 h3" fill="none" stroke="#444" stroke-width="0.5" />
<path d="M183.75,394 V409.5 H195" fill="none" stroke="#333" stroke-width="0.7" />
<path d="M184.05,397.90 A3.6,3.6 0 0 0 187.65,394.30 L184.05,394.30" fill="#f2f2f2" stroke="#444" stroke-width="0.45" />
<circle cx="186.75" cy="405.00" r="1.20" fill="#ddd" stroke="#222" stroke-width="0.5"/>
<rect x="190.15" y="402.50" width="2.60" height="2.60" fill="#eee" stroke="#222" stroke-width="0.5" rx="1"/>
<path d="M189.25,395 v5 h3" fill="none" stroke="#444" stroke-width="0.5" />
<path d="M184.3,231.5 V247.8 H195" fill="none" stroke="#333" stroke-width="0.7" />
<path d="M184.60,235.40 A3.6,3.6 0 0 0 188.20,231.80 L184.60,231.80" fill="#f2f2f2" stroke="#444" stroke-width="0.45" />
<circle cx="187.30" cy="243.30" r="1.20" fill="#ddd" stroke="#222" stroke-width="0.5"/>
<rect x="190.70" y="240.80" width="2.60" height="2.60" fill="#eee" stroke="#222" stroke-width="0.5" rx="1"/>
<path d="M189.8,232.5 v5 h3" fill="none" stroke="#444" stroke-width="0.5" />
<line x1="144.00" y1="361.50" x2="195.00" y2="361.50" stroke="#222" stroke-width="0.9" />
<line x1="144.00" y1="230.40" x2="195.00" y2="230.40" stroke="#222" stroke-width="0.9" />
<path d="M144,322.5 l-4.5,1.5 a4.8,4.8 0 0 1 4.5,-6" fill="#fff" stroke="#444" stroke-width="0.5" />
<path d="M144,413 l-4.5,1.5 a4.8,4.8 0 0 1 4.5,-6" fill="#fff" stroke="#444" stroke-width="0.5" />
<rect x="188.60" y="418.80" width="16.60" height="19.40" fill="#f0f0f0" stroke="#1a1a1a" stroke-width="1.3" />
<rect x="189.60" y="420.00" width="5.00" height="17.00" fill="#9a9a9a" stroke="#222" stroke-width="0.7" />
<rect x="190.40" y="420.80" width="3.40" height="1.80" fill="#e0e0e0" stroke="#333" stroke-width="0.35" />
<rect x="190.40" y="424.20" width="3.40" height="1.80" fill="#e0e0e0" stroke="#333" stroke-width="0.35" />
<rect x="190.40" y="427.60" width="3.40" height="1.80" fill="#e0e0e0" stroke="#333" stroke-width="0.35" />
<rect x="190.40" y="431.00" width="3.40" height="1.80" fill="#e0e0e0" stroke="#333" stroke-width="0.35" />
<rect x="190.40" y="434.40" width="3.40" height="1.80" fill="#e0e0e0" stroke="#333" stroke-width="0.35" />
<line x1="195.40" y1="419.00" x2="195.40" y2="438.00" stroke="#222" stroke-width="0.8" />
<path d="M196.00,432.60 A5,5 0 0 1 201.00,437.60 L196.00,437.60" fill="#f2f2f2" stroke="#444" stroke-width="0.45" />
<circle cx="202.30" cy="432.30" r="1.10" fill="#111" stroke="none" stroke-width="0"/>
<rect x="145.20" y="193.40" width="7.60" height="6.40" fill="#ececec" stroke="#1a1a1a" stroke-width="0.9" />
<path d="M145.2,199.8 L149.0,194.20000000000002 L152.79999999999998,199.8" fill="none" stroke="#555" stroke-width="0.4" />
<rect x="145.20" y="208.80" width="7.60" height="5.80" fill="#ececec" stroke="#1a1a1a" stroke-width="0.9" />
<path d="M145.2,214.60000000000002 L149.0,209.60000000000002 L152.79999999999998,214.60000000000002" fill="none" stroke="#555" stroke-width="0.4" />
<rect x="145.70" y="223.40" width="7.30" height="5.90" fill="#ececec" stroke="#1a1a1a" stroke-width="0.9" />
<path d="M145.7,229.3 L149.35,224.20000000000002 L153.0,229.3" fill="none" stroke="#555" stroke-width="0.4" />
<rect x="154.40" y="223.40" width="7.30" height="5.90" fill="#ececec" stroke="#1a1a1a" stroke-width="0.9" />
<path d="M154.4,229.3 L158.05,224.20000000000002 L161.70000000000002,229.3" fill="none" stroke="#555" stroke-width="0.4" />
<rect x="163.00" y="223.40" width="7.00" height="5.90" fill="#ececec" stroke="#1a1a1a" stroke-width="0.9" />
<path d="M163,229.3 L166.5,224.20000000000002 L170,229.3" fill="none" stroke="#555" stroke-width="0.4" />
<rect x="163.30" y="193.40" width="6.70" height="6.60" fill="#ececec" stroke="#1a1a1a" stroke-width="0.9" />
<path d="M163.3,200.0 L166.65,194.20000000000002 L170.0,200.0" fill="none" stroke="#555" stroke-width="0.4" />
<rect x="163.30" y="202.70" width="6.70" height="6.60" fill="#ececec" stroke="#1a1a1a" stroke-width="0.9" />
<path d="M163.3,209.29999999999998 L166.65,203.5 L170.0,209.29999999999998" fill="none" stroke="#555" stroke-width="0.4" />
<rect x="163.30" y="212.00" width="6.70" height="6.70" fill="#ececec" stroke="#1a1a1a" stroke-width="0.9" />
<path d="M163.3,218.7 L166.65,212.8 L170.0,218.7" fill="none" stroke="#555" stroke-width="0.4" />
<rect x="171.00" y="192.70" width="2.40" height="37.50" fill="#bbb" stroke="#222" stroke-width="0.6" />
<path d="M173.4,203 q2.4,1 0,4.4" fill="none" stroke="#444" stroke-width="0.5" />
<path d="M173.4,212 q2.4,1 0,4.4" fill="none" stroke="#444" stroke-width="0.5" />
<path d="M173.4,221 q2.4,1 0,4.4" fill="none" stroke="#444" stroke-width="0.5" />
<rect x="173.60" y="194.40" width="9.60" height="4.30" fill="#ddd" stroke="#222" stroke-width="0.6" />
<rect x="176.00" y="195.00" width="3.00" height="3.00" fill="#555" stroke="none" stroke-width="0" />
<path d="M153.50,188.40 A3.6,3.6 0 0 1 157.10,192.00 L153.50,192.00" fill="#f2f2f2" stroke="#444" stroke-width="0.45" />
<path d="M189.00,188.40 A3.6,3.6 0 0 0 185.40,192.00 L189.00,192.00" fill="#f2f2f2" stroke="#444" stroke-width="0.45" />
<path d="M144,203 l-5.5,0 a5.5,5.5 0 0 1 5.5,-5.5" fill="#fff" stroke="#444" stroke-width="0.5" />
<line x1="145.00" y1="215.40" x2="156.00" y2="215.40" stroke="#666" stroke-width="0.5" />
<g transform="translate(607,0) scale(-1,1)">
<line x1="144.00" y1="191.30" x2="144.00" y2="204.00" stroke="#222" stroke-width="1.2" />
<line x1="144.00" y1="210.00" x2="144.00" y2="238.00" stroke="#222" stroke-width="1.2" />
<line x1="144.00" y1="243.50" x2="144.00" y2="251.00" stroke="#222" stroke-width="1.2" />
<line x1="144.00" y1="262.00" x2="144.00" y2="266.00" stroke="#222" stroke-width="1.2" />
<line x1="144.00" y1="270.00" x2="144.00" y2="319.00" stroke="#222" stroke-width="1.2" />
<line x1="144.00" y1="325.00" x2="144.00" y2="346.00" stroke="#222" stroke-width="1.2" />
<line x1="144.00" y1="352.00" x2="144.00" y2="356.00" stroke="#222" stroke-width="1.2" />
<line x1="144.00" y1="360.00" x2="144.00" y2="367.00" stroke="#222" stroke-width="1.2" />
<line x1="144.00" y1="377.00" x2="144.00" y2="383.00" stroke="#222" stroke-width="1.2" />
<line x1="144.00" y1="390.00" x2="144.00" y2="412.00" stroke="#222" stroke-width="1.2" />
<line x1="144.00" y1="418.00" x2="144.00" y2="438.75" stroke="#222" stroke-width="1.2" />
<line x1="144.00" y1="191.30" x2="144.00" y2="438.75" stroke="#555" stroke-width="0.45" />
<rect x="143.20" y="282.00" width="1.70" height="18.00" fill="#e8e8e8" stroke="#333" stroke-width="0.4" />
<rect x="143.20" y="308.00" width="1.70" height="18.00" fill="#e8e8e8" stroke="#333" stroke-width="0.4" />
<rect x="143.20" y="332.00" width="1.70" height="11.00" fill="#e8e8e8" stroke="#333" stroke-width="0.4" />
<rect x="143.20" y="348.00" width="1.70" height="10.00" fill="#e8e8e8" stroke="#333" stroke-width="0.4" />
<rect x="143.20" y="398.00" width="1.70" height="12.00" fill="#e8e8e8" stroke="#333" stroke-width="0.4" />
<rect x="143.20" y="422.00" width="1.70" height="14.00" fill="#e8e8e8" stroke="#333" stroke-width="0.4" />
<line x1="195.00" y1="191.30" x2="195.00" y2="438.75" stroke="#4a4a4a" stroke-width="0.8" />
<g transform="translate(144,248.3)">
<line x1="0.00" y1="0.00" x2="51.00" y2="0.00" stroke="#222" stroke-width="0.9" />
<line x1="0.00" y1="16.90" x2="51.00" y2="16.90" stroke="#222" stroke-width="0.9" />
<line x1="8.00" y1="0.00" x2="8.00" y2="16.90" stroke="#555" stroke-width="0.5" />
<rect x="15.70" y="0.80" width="14.00" height="15.40" fill="#d4d4d4" stroke="#555" stroke-width="0.4" />
<line x1="16.60" y1="0.80" x2="16.60" y2="16.20" stroke="#888" stroke-width="0.4" />
<line x1="18.15" y1="0.80" x2="18.15" y2="16.20" stroke="#888" stroke-width="0.4" />
<line x1="19.70" y1="0.80" x2="19.70" y2="16.20" stroke="#888" stroke-width="0.4" />
<line x1="21.25" y1="0.80" x2="21.25" y2="16.20" stroke="#888" stroke-width="0.4" />
<line x1="22.80" y1="0.80" x2="22.80" y2="16.20" stroke="#888" stroke-width="0.4" />
<line x1="24.35" y1="0.80" x2="24.35" y2="16.20" stroke="#888" stroke-width="0.4" />
<line x1="25.90" y1="0.80" x2="25.90" y2="16.20" stroke="#888" stroke-width="0.4" />
<line x1="27.45" y1="0.80" x2="27.45" y2="16.20" stroke="#888" stroke-width="0.4" />
<line x1="29.00" y1="0.80" x2="29.00" y2="16.20" stroke="#888" stroke-width="0.4" />
<line x1="16.00" y1="8.50" x2="29.60" y2="8.50" stroke="#1a1a1a" stroke-width="1.3" />
<path d="M22.5,7.6 l1.4,-4.6 l0.9,4.6 M23.6,5.6 h1" fill="none" stroke="#222" stroke-width="0.5" />
<line x1="38.00" y1="0.00" x2="38.00" y2="16.90" stroke="#555" stroke-width="0.5" />
<rect x="38.60" y="1.60" width="11.20" height="14.60" fill="#ccc" stroke="#222" stroke-width="1.2" />
<rect x="40.80" y="3.40" width="6.60" height="10.60" fill="#ececec" stroke="#444" stroke-width="0.5" />
<path d="M52.5,6.5 l2,1.6 l-2,1.6 M52.5,10 l2,1.6 l-2,1.6" fill="none" stroke="#333" stroke-width="0.5" />
<line x1="18.00" y1="17.00" x2="18.00" y2="30.50" stroke="#555" stroke-width="0.5" />
<line x1="27.60" y1="17.00" x2="27.60" y2="30.50" stroke="#333" stroke-width="0.8" />
<rect x="8.00" y="20.60" width="4.60" height="6.60" fill="#e8e8e8" stroke="#333" stroke-width="0.6" />
<rect x="1.00" y="18.20" width="4.40" height="3.20" fill="#eee" stroke="#222" stroke-width="0.6" rx="1.4"/>
<path d="M0.7,21.6 h6 v9 h-1.2 v-7.8 h-4.8 z" fill="#888" stroke="#222" stroke-width="0.5" />
<path d="M27.20,21.40 A4,4 0 0 1 23.20,17.40 L27.20,17.40" fill="#f2f2f2" stroke="#444" stroke-width="0.45" />
<path d="M33.40,22.00 A4.6,4.6 0 0 0 38.00,17.40 L33.40,17.40" fill="#f2f2f2" stroke="#444" stroke-width="0.45" />
<path d="M47.5,22 q3,-1.5 3.4,-4.4 M47.5,24 q3,1.5 3.4,4.4" fill="none" stroke="#444" stroke-width="0.5" />
<line x1="7.00" y1="31.00" x2="51.00" y2="31.00" stroke="#222" stroke-width="1.2" />
</g>
<g transform="translate(144,362.3)">
<line x1="0.00" y1="0.00" x2="51.00" y2="0.00" stroke="#222" stroke-width="0.9" />
<line x1="0.00" y1="16.90" x2="51.00" y2="16.90" stroke="#222" stroke-width="0.9" />
<line x1="8.00" y1="0.00" x2="8.00" y2="16.90" stroke="#555" stroke-width="0.5" />
<rect x="15.70" y="0.80" width="14.00" height="15.40" fill="#d4d4d4" stroke="#555" stroke-width="0.4" />
<line x1="16.60" y1="0.80" x2="16.60" y2="16.20" stroke="#888" stroke-width="0.4" />
<line x1="18.15" y1="0.80" x2="18.15" y2="16.20" stroke="#888" stroke-width="0.4" />
<line x1="19.70" y1="0.80" x2="19.70" y2="16.20" stroke="#888" stroke-width="0.4" />
<line x1="21.25" y1="0.80" x2="21.25" y2="16.20" stroke="#888" stroke-width="0.4" />
<line x1="22.80" y1="0.80" x2="22.80" y2="16.20" stroke="#888" stroke-width="0.4" />
<line x1="24.35" y1="0.80" x2="24.35" y2="16.20" stroke="#888" stroke-width="0.4" />
<line x1="25.90" y1="0.80" x2="25.90" y2="16.20" stroke="#888" stroke-width="0.4" />
<line x1="27.45" y1="0.80" x2="27.45" y2="16.20" stroke="#888" stroke-width="0.4" />
<line x1="29.00" y1="0.80" x2="29.00" y2="16.20" stroke="#888" stroke-width="0.4" />
<line x1="16.00" y1="8.50" x2="29.60" y2="8.50" stroke="#1a1a1a" stroke-width="1.3" />
<path d="M22.5,7.6 l1.4,-4.6 l0.9,4.6 M23.6,5.6 h1" fill="none" stroke="#222" stroke-width="0.5" />
<line x1="38.00" y1="0.00" x2="38.00" y2="16.90" stroke="#555" stroke-width="0.5" />
<rect x="38.60" y="1.60" width="11.20" height="14.60" fill="#ccc" stroke="#222" stroke-width="1.2" />
<rect x="40.80" y="3.40" width="6.60" height="10.60" fill="#ececec" stroke="#444" stroke-width="0.5" />
<path d="M52.5,6.5 l2,1.6 l-2,1.6 M52.5,10 l2,1.6 l-2,1.6" fill="none" stroke="#333" stroke-width="0.5" />
<line x1="18.00" y1="17.00" x2="18.00" y2="30.50" stroke="#555" stroke-width="0.5" />
<line x1="27.60" y1="17.00" x2="27.60" y2="30.50" stroke="#333" stroke-width="0.8" />
<rect x="8.00" y="20.60" width="4.60" height="6.60" fill="#e8e8e8" stroke="#333" stroke-width="0.6" />
<rect x="1.00" y="18.20" width="4.40" height="3.20" fill="#eee" stroke="#222" stroke-width="0.6" rx="1.4"/>
<path d="M0.7,21.6 h6 v9 h-1.2 v-7.8 h-4.8 z" fill="#888" stroke="#222" stroke-width="0.5" />
<path d="M27.20,21.40 A4,4 0 0 1 23.20,17.40 L27.20,17.40" fill="#f2f2f2" stroke="#444" stroke-width="0.45" />
<path d="M33.40,22.00 A4.6,4.6 0 0 0 38.00,17.40 L33.40,17.40" fill="#f2f2f2" stroke="#444" stroke-width="0.45" />
<path d="M47.5,22 q3,-1.5 3.4,-4.4 M47.5,24 q3,1.5 3.4,4.4" fill="none" stroke="#444" stroke-width="0.5" />
<line x1="7.00" y1="31.00" x2="51.00" y2="31.00" stroke="#222" stroke-width="1.2" />
</g>
<line x1="144.50" y1="305.50" x2="154.50" y2="305.50" stroke="#555" stroke-width="0.8" />
<line x1="170.00" y1="305.50" x2="195.00" y2="305.50" stroke="#555" stroke-width="0.8" />
<line x1="144.50" y1="345.00" x2="154.50" y2="345.00" stroke="#555" stroke-width="0.8" />
<line x1="170.00" y1="345.00" x2="195.00" y2="345.00" stroke="#555" stroke-width="0.8" />
<line x1="144.50" y1="329.25" x2="154.50" y2="329.25" stroke="#555" stroke-width="0.8" />
<line x1="145.00" y1="420.00" x2="155.00" y2="420.00" stroke="#666" stroke-width="0.7" />
<path d="M183.75,345.4 V361.2 H195" fill="none" stroke="#333" stroke-width="0.7" />
<path d="M184.05,349.30 A3.6,3.6 0 0 0 187.65,345.70 L184.05,345.70" fill="#f2f2f2" stroke="#444" stroke-width="0.45" />
<circle cx="186.75" cy="356.70" r="1.20" fill="#ddd" stroke="#222" stroke-width="0.5"/>
<rect x="190.15" y="354.20" width="2.60" height="2.60" fill="#eee" stroke="#222" stroke-width="0.5" rx="1"/>
<path d="M189.25,346.4 v5 h3" fill="none" stroke="#444" stroke-width="0.5" />
<path d="M183.75,394 V409.5 H195" fill="none" stroke="#333" stroke-width="0.7" />
<path d="M184.05,397.90 A3.6,3.6 0 0 0 187.65,394.30 L184.05,394.30" fill="#f2f2f2" stroke="#444" stroke-width="0.45" />
<circle cx="186.75" cy="405.00" r="1.20" fill="#ddd" stroke="#222" stroke-width="0.5"/>
<rect x="190.15" y="402.50" width="2.60" height="2.60" fill="#eee" stroke="#222" stroke-width="0.5" rx="1"/>
<path d="M189.25,395 v5 h3" fill="none" stroke="#444" stroke-width="0.5" />
<path d="M184.3,231.5 V247.8 H195" fill="none" stroke="#333" stroke-width="0.7" />
<path d="M184.60,235.40 A3.6,3.6 0 0 0 188.20,231.80 L184.60,231.80" fill="#f2f2f2" stroke="#444" stroke-width="0.45" />
<circle cx="187.30" cy="243.30" r="1.20" fill="#ddd" stroke="#222" stroke-width="0.5"/>
<rect x="190.70" y="240.80" width="2.60" height="2.60" fill="#eee" stroke="#222" stroke-width="0.5" rx="1"/>
<path d="M189.8,232.5 v5 h3" fill="none" stroke="#444" stroke-width="0.5" />
<line x1="144.00" y1="361.50" x2="195.00" y2="361.50" stroke="#222" stroke-width="0.9" />
<line x1="196.60" y1="191.30" x2="196.60" y2="418.80" stroke="#777" stroke-width="0.4" />
<path d="M144,322.5 l-4.5,1.5 a4.8,4.8 0 0 1 4.5,-6" fill="#fff" stroke="#444" stroke-width="0.5" />
<path d="M144,413 l-4.5,1.5 a4.8,4.8 0 0 1 4.5,-6" fill="#fff" stroke="#444" stroke-width="0.5" />
<rect x="188.60" y="418.80" width="16.60" height="19.40" fill="#f0f0f0" stroke="#1a1a1a" stroke-width="1.3" />
<rect x="189.60" y="420.00" width="5.00" height="17.00" fill="#9a9a9a" stroke="#222" stroke-width="0.7" />
<rect x="190.40" y="420.80" width="3.40" height="1.80" fill="#e0e0e0" stroke="#333" stroke-width="0.35" />
<rect x="190.40" y="424.20" width="3.40" height="1.80" fill="#e0e0e0" stroke="#333" stroke-width="0.35" />
<rect x="190.40" y="427.60" width="3.40" height="1.80" fill="#e0e0e0" stroke="#333" stroke-width="0.35" />
<rect x="190.40" y="431.00" width="3.40" height="1.80" fill="#e0e0e0" stroke="#333" stroke-width="0.35" />
<rect x="190.40" y="434.40" width="3.40" height="1.80" fill="#e0e0e0" stroke="#333" stroke-width="0.35" />
<line x1="195.40" y1="419.00" x2="195.40" y2="438.00" stroke="#222" stroke-width="0.8" />
<path d="M196.00,432.60 A5,5 0 0 1 201.00,437.60 L196.00,437.60" fill="#f2f2f2" stroke="#444" stroke-width="0.45" />
<circle cx="202.30" cy="432.30" r="1.10" fill="#111" stroke="none" stroke-width="0"/>
<path d="M169.5,193.2 V230.4 M169.5,230.4 H195" fill="none" stroke="#333" stroke-width="0.8" />
<line x1="145.00" y1="193.20" x2="195.00" y2="193.20" stroke="#444" stroke-width="0.6" />
<line x1="172.00" y1="192.60" x2="187.00" y2="192.60" stroke="#222" stroke-width="1.1" />
<line x1="144.50" y1="216.30" x2="154.50" y2="216.30" stroke="#555" stroke-width="0.8" />
<line x1="144.50" y1="230.80" x2="154.50" y2="230.80" stroke="#555" stroke-width="0.8" />
<path d="M144,237 l-4.5,1.5 a4.8,4.8 0 0 1 4.5,-6" fill="#fff" stroke="#444" stroke-width="0.5" />
</g>
<g transform="translate(205.3,192)">
<rect x="42.20" y="1.60" width="8.40" height="19.60" fill="#e9e9e9" stroke="#555" stroke-width="0.5" />
<rect x="0.70" y="6.00" width="3.30" height="15.50" fill="#9a9a9a" stroke="#222" stroke-width="0.7" />
<rect x="1.50" y="7.04" width="1.70" height="1.80" fill="#e0e0e0" stroke="#333" stroke-width="0.35" />
<rect x="1.50" y="10.91" width="1.70" height="1.80" fill="#e0e0e0" stroke="#333" stroke-width="0.35" />
<rect x="1.50" y="14.79" width="1.70" height="1.80" fill="#e0e0e0" stroke="#333" stroke-width="0.35" />
<rect x="1.50" y="18.66" width="1.70" height="1.80" fill="#e0e0e0" stroke="#333" stroke-width="0.35" />
<rect x="0.70" y="2.20" width="12.00" height="3.60" fill="#ddd" stroke="#222" stroke-width="0.6" />
<line x1="4.50" y1="2.20" x2="4.50" y2="5.80" stroke="#333" stroke-width="0.4" />
<line x1="8.50" y1="2.20" x2="8.50" y2="5.80" stroke="#333" stroke-width="0.4" />
<rect x="15.40" y="7.20" width="4.00" height="9.00" fill="#f4f4f4" stroke="#222" stroke-width="0.6" />
<rect x="13.30" y="7.60" width="1.80" height="2.20" fill="#eee" stroke="#222" stroke-width="0.5" rx="0.7"/>
<rect x="19.70" y="7.60" width="1.80" height="2.20" fill="#eee" stroke="#222" stroke-width="0.5" rx="0.7"/>
<rect x="13.30" y="10.60" width="1.80" height="2.20" fill="#eee" stroke="#222" stroke-width="0.5" rx="0.7"/>
<rect x="19.70" y="10.60" width="1.80" height="2.20" fill="#eee" stroke="#222" stroke-width="0.5" rx="0.7"/>
<rect x="13.30" y="13.60" width="1.80" height="2.20" fill="#eee" stroke="#222" stroke-width="0.5" rx="0.7"/>
<rect x="19.70" y="13.60" width="1.80" height="2.20" fill="#eee" stroke="#222" stroke-width="0.5" rx="0.7"/>
<rect x="16.30" y="5.10" width="2.20" height="1.80" fill="#eee" stroke="#222" stroke-width="0.5" rx="0.7"/>
<rect x="16.30" y="16.50" width="2.20" height="1.80" fill="#eee" stroke="#222" stroke-width="0.5" rx="0.7"/>
<rect x="26.40" y="2.00" width="12.30" height="4.60" fill="#dcdcdc" stroke="#1a1a1a" stroke-width="0.8" />
<rect x="34.70" y="2.00" width="4.00" height="8.60" fill="#dcdcdc" stroke="#1a1a1a" stroke-width="0.8" />
<line x1="30.17" y1="3.00" x2="30.17" y2="6.60" stroke="#333" stroke-width="0.4" />
<line x1="33.95" y1="3.00" x2="33.95" y2="6.60" stroke="#333" stroke-width="0.4" />
<line x1="26.40" y1="3.20" x2="38.70" y2="3.20" stroke="#333" stroke-width="0.5" />
<rect x="27.20" y="11.20" width="5.00" height="3.00" fill="#f2f2f2" stroke="#333" stroke-width="0.5" rx="0.6"/>
<line x1="41.40" y1="1.00" x2="41.40" y2="17.30" stroke="#222" stroke-width="1.3" />
<path d="M41.40,14.00 A3.6,3.6 0 0 0 37.80,17.60 L41.40,17.60" fill="#f2f2f2" stroke="#444" stroke-width="0.45" />
<rect x="22.00" y="22.00" width="28.50" height="2.60" fill="#555" stroke="#1a1a1a" stroke-width="0.6" />
<line x1="22.50" y1="23.30" x2="50.00" y2="23.30" stroke="#ddd" stroke-width="0.6" />
<line x1="22.30" y1="24.60" x2="22.30" y2="38.40" stroke="#222" stroke-width="1.0" />
<path d="M22.60,23.00 A4,4 0 0 1 26.60,27.00 L22.60,27.00" fill="#f2f2f2" stroke="#444" stroke-width="0.45" />
<rect x="41.00" y="25.00" width="7.20" height="3.00" fill="#e8e8e8" stroke="#222" stroke-width="0.55" />
<circle cx="45.60" cy="30.30" r="1.10" fill="#ddd" stroke="#222" stroke-width="0.5"/>
<rect x="24.30" y="31.00" width="9.50" height="6.40" fill="#efefef" stroke="#222" stroke-width="0.65" />
<rect x="24.80" y="32.00" width="2.40" height="4.40" fill="#fff" stroke="#333" stroke-width="0.4" />
<rect x="35.00" y="34.60" width="13.80" height="3.00" fill="#9a9a9a" stroke="#222" stroke-width="0.7" />
<rect x="35.83" y="35.30" width="1.80" height="1.60" fill="#e0e0e0" stroke="#333" stroke-width="0.35" />
<rect x="39.27" y="35.30" width="1.80" height="1.60" fill="#e0e0e0" stroke="#333" stroke-width="0.35" />
<rect x="42.73" y="35.30" width="1.80" height="1.60" fill="#e0e0e0" stroke="#333" stroke-width="0.35" />
<rect x="46.18" y="35.30" width="1.80" height="1.60" fill="#e0e0e0" stroke="#333" stroke-width="0.35" />
<rect x="1.20" y="24.70" width="10.40" height="3.20" fill="#9a9a9a" stroke="#222" stroke-width="0.7" />
<rect x="2.03" y="25.40" width="1.80" height="1.80" fill="#e0e0e0" stroke="#333" stroke-width="0.35" />
<rect x="5.50" y="25.40" width="1.80" height="1.80" fill="#e0e0e0" stroke="#333" stroke-width="0.35" />
<rect x="8.97" y="25.40" width="1.80" height="1.80" fill="#e0e0e0" stroke="#333" stroke-width="0.35" />
<path d="M0.90,33.80 A5.6,5.6 0 0 0 6.50,28.20 L0.90,28.20" fill="#f2f2f2" stroke="#444" stroke-width="0.45" />
<line x1="0.00" y1="38.40" x2="52.00" y2="38.40" stroke="#222" stroke-width="1.1" />
<line x1="13.40" y1="38.40" x2="13.40" y2="57.30" stroke="#222" stroke-width="0.9" />
<path d="M7.20,43.40 A4.6,4.6 0 0 0 11.80,38.80 L7.20,38.80" fill="#f2f2f2" stroke="#444" stroke-width="0.45" />
<path d="M18.60,43.40 A4.6,4.6 0 0 1 14.00,38.80 L18.60,38.80" fill="#f2f2f2" stroke="#444" stroke-width="0.45" />
<circle cx="3.80" cy="47.60" r="1.40" fill="#222" stroke="#111" stroke-width="0.4"/>
<circle cx="3.80" cy="47.60" r="0.50" fill="#ddd" stroke="none" stroke-width="0"/>
<rect x="9.80" y="46.00" width="2.80" height="3.20" fill="#eee" stroke="#222" stroke-width="0.5" rx="1"/>
<rect x="1.60" y="51.60" width="10.00" height="4.30" fill="#bbb" stroke="#1a1a1a" stroke-width="0.8" rx="1.4"/>
<rect x="2.80" y="52.60" width="7.60" height="2.30" fill="#eee" stroke="#333" stroke-width="0.4" rx="1"/>
<rect x="14.20" y="45.00" width="3.80" height="11.40" fill="#9a9a9a" stroke="#222" stroke-width="0.7" />
<rect x="15.00" y="46.00" width="2.20" height="1.80" fill="#e0e0e0" stroke="#333" stroke-width="0.35" />
<rect x="15.00" y="49.80" width="2.20" height="1.80" fill="#e0e0e0" stroke="#333" stroke-width="0.35" />
<rect x="15.00" y="53.60" width="2.20" height="1.80" fill="#e0e0e0" stroke="#333" stroke-width="0.35" />
<rect x="22.60" y="45.00" width="4.60" height="11.40" fill="#9a9a9a" stroke="#222" stroke-width="0.7" />
<rect x="23.40" y="46.00" width="3.00" height="1.80" fill="#e0e0e0" stroke="#333" stroke-width="0.35" />
<rect x="23.40" y="49.80" width="3.00" height="1.80" fill="#e0e0e0" stroke="#333" stroke-width="0.35" />
<rect x="23.40" y="53.60" width="3.00" height="1.80" fill="#e0e0e0" stroke="#333" stroke-width="0.35" />
<rect x="32.60" y="44.60" width="12.80" height="9.40" fill="#efefef" stroke="#222" stroke-width="0.65" />
<rect x="33.40" y="51.20" width="5.20" height="2.20" fill="#fff" stroke="#333" stroke-width="0.4" />
<rect x="39.40" y="51.20" width="5.20" height="2.20" fill="#fff" stroke="#333" stroke-width="0.4" />
<line x1="32.60" y1="50.40" x2="45.40" y2="50.40" stroke="#444" stroke-width="0.4" />
<rect x="30.00" y="54.40" width="17.60" height="2.60" fill="#9a9a9a" stroke="#222" stroke-width="0.7" />
<rect x="30.86" y="55.10" width="1.80" height="1.20" fill="#e0e0e0" stroke="#333" stroke-width="0.35" />
<rect x="34.38" y="55.10" width="1.80" height="1.20" fill="#e0e0e0" stroke="#333" stroke-width="0.35" />
<rect x="37.90" y="55.10" width="1.80" height="1.20" fill="#e0e0e0" stroke="#333" stroke-width="0.35" />
<rect x="41.42" y="55.10" width="1.80" height="1.20" fill="#e0e0e0" stroke="#333" stroke-width="0.35" />
<rect x="44.94" y="55.10" width="1.80" height="1.20" fill="#e0e0e0" stroke="#333" stroke-width="0.35" />
<path d="M51.40,47.20 A5.2,5.2 0 0 0 46.20,52.40 L51.40,52.40" fill="#f2f2f2" stroke="#444" stroke-width="0.45" />
<line x1="52.00" y1="0.00" x2="52.00" y2="57.30" stroke="#222" stroke-width="1.0" />
<rect x="50.90" y="26.00" width="1.60" height="10.00" fill="#e5e5e5" stroke="#333" stroke-width="0.45" />
<rect x="50.90" y="41.00" width="1.60" height="12.00" fill="#e5e5e5" stroke="#333" stroke-width="0.45" />
<rect x="50.90" y="3.00" width="1.60" height="18.00" fill="#e5e5e5" stroke="#333" stroke-width="0.45" />
<line x1="0.00" y1="0.00" x2="0.00" y2="57.30" stroke="#222" stroke-width="1.1" />
<line x1="0.00" y1="0.00" x2="52.00" y2="0.00" stroke="#222" stroke-width="1.1" />
</g>
<g transform="translate(205.3,249.4)">
<rect x="42.20" y="1.60" width="8.40" height="19.60" fill="#e9e9e9" stroke="#555" stroke-width="0.5" />
<rect x="0.70" y="6.00" width="3.30" height="15.50" fill="#9a9a9a" stroke="#222" stroke-width="0.7" />
<rect x="1.50" y="7.04" width="1.70" height="1.80" fill="#e0e0e0" stroke="#333" stroke-width="0.35" />
<rect x="1.50" y="10.91" width="1.70" height="1.80" fill="#e0e0e0" stroke="#333" stroke-width="0.35" />
<rect x="1.50" y="14.79" width="1.70" height="1.80" fill="#e0e0e0" stroke="#333" stroke-width="0.35" />
<rect x="1.50" y="18.66" width="1.70" height="1.80" fill="#e0e0e0" stroke="#333" stroke-width="0.35" />
<rect x="0.70" y="2.20" width="12.00" height="3.60" fill="#ddd" stroke="#222" stroke-width="0.6" />
<line x1="4.50" y1="2.20" x2="4.50" y2="5.80" stroke="#333" stroke-width="0.4" />
<line x1="8.50" y1="2.20" x2="8.50" y2="5.80" stroke="#333" stroke-width="0.4" />
<rect x="15.40" y="7.20" width="4.00" height="9.00" fill="#f4f4f4" stroke="#222" stroke-width="0.6" />
<rect x="13.30" y="7.60" width="1.80" height="2.20" fill="#eee" stroke="#222" stroke-width="0.5" rx="0.7"/>
<rect x="19.70" y="7.60" width="1.80" height="2.20" fill="#eee" stroke="#222" stroke-width="0.5" rx="0.7"/>
<rect x="13.30" y="10.60" width="1.80" height="2.20" fill="#eee" stroke="#222" stroke-width="0.5" rx="0.7"/>
<rect x="19.70" y="10.60" width="1.80" height="2.20" fill="#eee" stroke="#222" stroke-width="0.5" rx="0.7"/>
<rect x="13.30" y="13.60" width="1.80" height="2.20" fill="#eee" stroke="#222" stroke-width="0.5" rx="0.7"/>
<rect x="19.70" y="13.60" width="1.80" height="2.20" fill="#eee" stroke="#222" stroke-width="0.5" rx="0.7"/>
<rect x="16.30" y="5.10" width="2.20" height="1.80" fill="#eee" stroke="#222" stroke-width="0.5" rx="0.7"/>
<rect x="16.30" y="16.50" width="2.20" height="1.80" fill="#eee" stroke="#222" stroke-width="0.5" rx="0.7"/>
<rect x="26.40" y="2.00" width="12.30" height="4.60" fill="#dcdcdc" stroke="#1a1a1a" stroke-width="0.8" />
<rect x="34.70" y="2.00" width="4.00" height="8.60" fill="#dcdcdc" stroke="#1a1a1a" stroke-width="0.8" />
<line x1="30.17" y1="3.00" x2="30.17" y2="6.60" stroke="#333" stroke-width="0.4" />
<line x1="33.95" y1="3.00" x2="33.95" y2="6.60" stroke="#333" stroke-width="0.4" />
<line x1="26.40" y1="3.20" x2="38.70" y2="3.20" stroke="#333" stroke-width="0.5" />
<rect x="27.20" y="11.20" width="5.00" height="3.00" fill="#f2f2f2" stroke="#333" stroke-width="0.5" rx="0.6"/>
<line x1="41.40" y1="1.00" x2="41.40" y2="17.30" stroke="#222" stroke-width="1.3" />
<path d="M41.40,14.00 A3.6,3.6 0 0 0 37.80,17.60 L41.40,17.60" fill="#f2f2f2" stroke="#444" stroke-width="0.45" />
<rect x="22.00" y="22.00" width="28.50" height="2.60" fill="#555" stroke="#1a1a1a" stroke-width="0.6" />
<line x1="22.50" y1="23.30" x2="50.00" y2="23.30" stroke="#ddd" stroke-width="0.6" />
<line x1="22.30" y1="24.60" x2="22.30" y2="38.40" stroke="#222" stroke-width="1.0" />
<path d="M22.60,23.00 A4,4 0 0 1 26.60,27.00 L22.60,27.00" fill="#f2f2f2" stroke="#444" stroke-width="0.45" />
<rect x="41.00" y="25.00" width="7.20" height="3.00" fill="#e8e8e8" stroke="#222" stroke-width="0.55" />
<circle cx="45.60" cy="30.30" r="1.10" fill="#ddd" stroke="#222" stroke-width="0.5"/>
<rect x="24.30" y="31.00" width="9.50" height="6.40" fill="#efefef" stroke="#222" stroke-width="0.65" />
<rect x="24.80" y="32.00" width="2.40" height="4.40" fill="#fff" stroke="#333" stroke-width="0.4" />
<rect x="35.00" y="34.60" width="13.80" height="3.00" fill="#9a9a9a" stroke="#222" stroke-width="0.7" />
<rect x="35.83" y="35.30" width="1.80" height="1.60" fill="#e0e0e0" stroke="#333" stroke-width="0.35" />
<rect x="39.27" y="35.30" width="1.80" height="1.60" fill="#e0e0e0" stroke="#333" stroke-width="0.35" />
<rect x="42.73" y="35.30" width="1.80" height="1.60" fill="#e0e0e0" stroke="#333" stroke-width="0.35" />
<rect x="46.18" y="35.30" width="1.80" height="1.60" fill="#e0e0e0" stroke="#333" stroke-width="0.35" />
<rect x="1.20" y="24.70" width="10.40" height="3.20" fill="#9a9a9a" stroke="#222" stroke-width="0.7" />
<rect x="2.03" y="25.40" width="1.80" height="1.80" fill="#e0e0e0" stroke="#333" stroke-width="0.35" />
<rect x="5.50" y="25.40" width="1.80" height="1.80" fill="#e0e0e0" stroke="#333" stroke-width="0.35" />
<rect x="8.97" y="25.40" width="1.80" height="1.80" fill="#e0e0e0" stroke="#333" stroke-width="0.35" />
<path d="M0.90,33.80 A5.6,5.6 0 0 0 6.50,28.20 L0.90,28.20" fill="#f2f2f2" stroke="#444" stroke-width="0.45" />
<line x1="0.00" y1="38.40" x2="52.00" y2="38.40" stroke="#222" stroke-width="1.1" />
<line x1="13.40" y1="38.40" x2="13.40" y2="57.30" stroke="#222" stroke-width="0.9" />
<path d="M7.20,43.40 A4.6,4.6 0 0 0 11.80,38.80 L7.20,38.80" fill="#f2f2f2" stroke="#444" stroke-width="0.45" />
<path d="M18.60,43.40 A4.6,4.6 0 0 1 14.00,38.80 L18.60,38.80" fill="#f2f2f2" stroke="#444" stroke-width="0.45" />
<circle cx="3.80" cy="47.60" r="1.40" fill="#222" stroke="#111" stroke-width="0.4"/>
<circle cx="3.80" cy="47.60" r="0.50" fill="#ddd" stroke="none" stroke-width="0"/>
<rect x="9.80" y="46.00" width="2.80" height="3.20" fill="#eee" stroke="#222" stroke-width="0.5" rx="1"/>
<rect x="1.60" y="51.60" width="10.00" height="4.30" fill="#bbb" stroke="#1a1a1a" stroke-width="0.8" rx="1.4"/>
<rect x="2.80" y="52.60" width="7.60" height="2.30" fill="#eee" stroke="#333" stroke-width="0.4" rx="1"/>
<rect x="14.20" y="45.00" width="3.80" height="11.40" fill="#9a9a9a" stroke="#222" stroke-width="0.7" />
<rect x="15.00" y="46.00" width="2.20" height="1.80" fill="#e0e0e0" stroke="#333" stroke-width="0.35" />
<rect x="15.00" y="49.80" width="2.20" height="1.80" fill="#e0e0e0" stroke="#333" stroke-width="0.35" />
<rect x="15.00" y="53.60" width="2.20" height="1.80" fill="#e0e0e0" stroke="#333" stroke-width="0.35" />
<rect x="22.60" y="45.00" width="4.60" height="11.40" fill="#9a9a9a" stroke="#222" stroke-width="0.7" />
<rect x="23.40" y="46.00" width="3.00" height="1.80" fill="#e0e0e0" stroke="#333" stroke-width="0.35" />
<rect x="23.40" y="49.80" width="3.00" height="1.80" fill="#e0e0e0" stroke="#333" stroke-width="0.35" />
<rect x="23.40" y="53.60" width="3.00" height="1.80" fill="#e0e0e0" stroke="#333" stroke-width="0.35" />
<rect x="32.60" y="44.60" width="12.80" height="9.40" fill="#efefef" stroke="#222" stroke-width="0.65" />
<rect x="33.40" y="51.20" width="5.20" height="2.20" fill="#fff" stroke="#333" stroke-width="0.4" />
<rect x="39.40" y="51.20" width="5.20" height="2.20" fill="#fff" stroke="#333" stroke-width="0.4" />
<line x1="32.60" y1="50.40" x2="45.40" y2="50.40" stroke="#444" stroke-width="0.4" />
<rect x="30.00" y="54.40" width="17.60" height="2.60" fill="#9a9a9a" stroke="#222" stroke-width="0.7" />
<rect x="30.86" y="55.10" width="1.80" height="1.20" fill="#e0e0e0" stroke="#333" stroke-width="0.35" />
<rect x="34.38" y="55.10" width="1.80" height="1.20" fill="#e0e0e0" stroke="#333" stroke-width="0.35" />
<rect x="37.90" y="55.10" width="1.80" height="1.20" fill="#e0e0e0" stroke="#333" stroke-width="0.35" />
<rect x="41.42" y="55.10" width="1.80" height="1.20" fill="#e0e0e0" stroke="#333" stroke-width="0.35" />
<rect x="44.94" y="55.10" width="1.80" height="1.20" fill="#e0e0e0" stroke="#333" stroke-width="0.35" />
<path d="M51.40,47.20 A5.2,5.2 0 0 0 46.20,52.40 L51.40,52.40" fill="#f2f2f2" stroke="#444" stroke-width="0.45" />
<line x1="52.00" y1="0.00" x2="52.00" y2="57.30" stroke="#222" stroke-width="1.0" />
<rect x="50.90" y="26.00" width="1.60" height="10.00" fill="#e5e5e5" stroke="#333" stroke-width="0.45" />
<rect x="50.90" y="41.00" width="1.60" height="12.00" fill="#e5e5e5" stroke="#333" stroke-width="0.45" />
<rect x="50.90" y="3.00" width="1.60" height="18.00" fill="#e5e5e5" stroke="#333" stroke-width="0.45" />
<line x1="0.00" y1="0.00" x2="0.00" y2="57.30" stroke="#222" stroke-width="1.1" />
<line x1="0.00" y1="0.00" x2="52.00" y2="0.00" stroke="#222" stroke-width="1.1" />
</g>
<g transform="translate(205.3,306.6)">
<rect x="42.20" y="1.60" width="8.40" height="19.60" fill="#e9e9e9" stroke="#555" stroke-width="0.5" />
<rect x="0.70" y="6.00" width="3.30" height="15.50" fill="#9a9a9a" stroke="#222" stroke-width="0.7" />
<rect x="1.50" y="7.04" width="1.70" height="1.80" fill="#e0e0e0" stroke="#333" stroke-width="0.35" />
<rect x="1.50" y="10.91" width="1.70" height="1.80" fill="#e0e0e0" stroke="#333" stroke-width="0.35" />
<rect x="1.50" y="14.79" width="1.70" height="1.80" fill="#e0e0e0" stroke="#333" stroke-width="0.35" />
<rect x="1.50" y="18.66" width="1.70" height="1.80" fill="#e0e0e0" stroke="#333" stroke-width="0.35" />
<rect x="0.70" y="2.20" width="12.00" height="3.60" fill="#ddd" stroke="#222" stroke-width="0.6" />
<line x1="4.50" y1="2.20" x2="4.50" y2="5.80" stroke="#333" stroke-width="0.4" />
<line x1="8.50" y1="2.20" x2="8.50" y2="5.80" stroke="#333" stroke-width="0.4" />
<rect x="15.40" y="7.20" width="4.00" height="9.00" fill="#f4f4f4" stroke="#222" stroke-width="0.6" />
<rect x="13.30" y="7.60" width="1.80" height="2.20" fill="#eee" stroke="#222" stroke-width="0.5" rx="0.7"/>
<rect x="19.70" y="7.60" width="1.80" height="2.20" fill="#eee" stroke="#222" stroke-width="0.5" rx="0.7"/>
<rect x="13.30" y="10.60" width="1.80" height="2.20" fill="#eee" stroke="#222" stroke-width="0.5" rx="0.7"/>
<rect x="19.70" y="10.60" width="1.80" height="2.20" fill="#eee" stroke="#222" stroke-width="0.5" rx="0.7"/>
<rect x="13.30" y="13.60" width="1.80" height="2.20" fill="#eee" stroke="#222" stroke-width="0.5" rx="0.7"/>
<rect x="19.70" y="13.60" width="1.80" height="2.20" fill="#eee" stroke="#222" stroke-width="0.5" rx="0.7"/>
<rect x="16.30" y="5.10" width="2.20" height="1.80" fill="#eee" stroke="#222" stroke-width="0.5" rx="0.7"/>
<rect x="16.30" y="16.50" width="2.20" height="1.80" fill="#eee" stroke="#222" stroke-width="0.5" rx="0.7"/>
<rect x="26.40" y="2.00" width="12.30" height="4.60" fill="#dcdcdc" stroke="#1a1a1a" stroke-width="0.8" />
<rect x="34.70" y="2.00" width="4.00" height="8.60" fill="#dcdcdc" stroke="#1a1a1a" stroke-width="0.8" />
<line x1="30.17" y1="3.00" x2="30.17" y2="6.60" stroke="#333" stroke-width="0.4" />
<line x1="33.95" y1="3.00" x2="33.95" y2="6.60" stroke="#333" stroke-width="0.4" />
<line x1="26.40" y1="3.20" x2="38.70" y2="3.20" stroke="#333" stroke-width="0.5" />
<rect x="27.20" y="11.20" width="5.00" height="3.00" fill="#f2f2f2" stroke="#333" stroke-width="0.5" rx="0.6"/>
<line x1="41.40" y1="1.00" x2="41.40" y2="17.30" stroke="#222" stroke-width="1.3" />
<path d="M41.40,14.00 A3.6,3.6 0 0 0 37.80,17.60 L41.40,17.60" fill="#f2f2f2" stroke="#444" stroke-width="0.45" />
<rect x="22.00" y="22.00" width="28.50" height="2.60" fill="#555" stroke="#1a1a1a" stroke-width="0.6" />
<line x1="22.50" y1="23.30" x2="50.00" y2="23.30" stroke="#ddd" stroke-width="0.6" />
<line x1="22.30" y1="24.60" x2="22.30" y2="38.40" stroke="#222" stroke-width="1.0" />
<path d="M22.60,23.00 A4,4 0 0 1 26.60,27.00 L22.60,27.00" fill="#f2f2f2" stroke="#444" stroke-width="0.45" />
<rect x="41.00" y="25.00" width="7.20" height="3.00" fill="#e8e8e8" stroke="#222" stroke-width="0.55" />
<circle cx="45.60" cy="30.30" r="1.10" fill="#ddd" stroke="#222" stroke-width="0.5"/>
<rect x="24.30" y="31.00" width="9.50" height="6.40" fill="#efefef" stroke="#222" stroke-width="0.65" />
<rect x="24.80" y="32.00" width="2.40" height="4.40" fill="#fff" stroke="#333" stroke-width="0.4" />
<rect x="35.00" y="34.60" width="13.80" height="3.00" fill="#9a9a9a" stroke="#222" stroke-width="0.7" />
<rect x="35.83" y="35.30" width="1.80" height="1.60" fill="#e0e0e0" stroke="#333" stroke-width="0.35" />
<rect x="39.27" y="35.30" width="1.80" height="1.60" fill="#e0e0e0" stroke="#333" stroke-width="0.35" />
<rect x="42.73" y="35.30" width="1.80" height="1.60" fill="#e0e0e0" stroke="#333" stroke-width="0.35" />
<rect x="46.18" y="35.30" width="1.80" height="1.60" fill="#e0e0e0" stroke="#333" stroke-width="0.35" />
<rect x="1.20" y="24.70" width="10.40" height="3.20" fill="#9a9a9a" stroke="#222" stroke-width="0.7" />
<rect x="2.03" y="25.40" width="1.80" height="1.80" fill="#e0e0e0" stroke="#333" stroke-width="0.35" />
<rect x="5.50" y="25.40" width="1.80" height="1.80" fill="#e0e0e0" stroke="#333" stroke-width="0.35" />
<rect x="8.97" y="25.40" width="1.80" height="1.80" fill="#e0e0e0" stroke="#333" stroke-width="0.35" />
<path d="M0.90,33.80 A5.6,5.6 0 0 0 6.50,28.20 L0.90,28.20" fill="#f2f2f2" stroke="#444" stroke-width="0.45" />
<line x1="0.00" y1="38.40" x2="52.00" y2="38.40" stroke="#222" stroke-width="1.1" />
<line x1="13.40" y1="38.40" x2="13.40" y2="57.30" stroke="#222" stroke-width="0.9" />
<path d="M7.20,43.40 A4.6,4.6 0 0 0 11.80,38.80 L7.20,38.80" fill="#f2f2f2" stroke="#444" stroke-width="0.45" />
<path d="M18.60,43.40 A4.6,4.6 0 0 1 14.00,38.80 L18.60,38.80" fill="#f2f2f2" stroke="#444" stroke-width="0.45" />
<circle cx="3.80" cy="47.60" r="1.40" fill="#222" stroke="#111" stroke-width="0.4"/>
<circle cx="3.80" cy="47.60" r="0.50" fill="#ddd" stroke="none" stroke-width="0"/>
<rect x="9.80" y="46.00" width="2.80" height="3.20" fill="#eee" stroke="#222" stroke-width="0.5" rx="1"/>
<rect x="1.60" y="51.60" width="10.00" height="4.30" fill="#bbb" stroke="#1a1a1a" stroke-width="0.8" rx="1.4"/>
<rect x="2.80" y="52.60" width="7.60" height="2.30" fill="#eee" stroke="#333" stroke-width="0.4" rx="1"/>
<rect x="14.20" y="45.00" width="3.80" height="11.40" fill="#9a9a9a" stroke="#222" stroke-width="0.7" />
<rect x="15.00" y="46.00" width="2.20" height="1.80" fill="#e0e0e0" stroke="#333" stroke-width="0.35" />
<rect x="15.00" y="49.80" width="2.20" height="1.80" fill="#e0e0e0" stroke="#333" stroke-width="0.35" />
<rect x="15.00" y="53.60" width="2.20" height="1.80" fill="#e0e0e0" stroke="#333" stroke-width="0.35" />
<rect x="22.60" y="45.00" width="4.60" height="11.40" fill="#9a9a9a" stroke="#222" stroke-width="0.7" />
<rect x="23.40" y="46.00" width="3.00" height="1.80" fill="#e0e0e0" stroke="#333" stroke-width="0.35" />
<rect x="23.40" y="49.80" width="3.00" height="1.80" fill="#e0e0e0" stroke="#333" stroke-width="0.35" />
<rect x="23.40" y="53.60" width="3.00" height="1.80" fill="#e0e0e0" stroke="#333" stroke-width="0.35" />
<rect x="32.60" y="44.60" width="12.80" height="9.40" fill="#efefef" stroke="#222" stroke-width="0.65" />
<rect x="33.40" y="51.20" width="5.20" height="2.20" fill="#fff" stroke="#333" stroke-width="0.4" />
<rect x="39.40" y="51.20" width="5.20" height="2.20" fill="#fff" stroke="#333" stroke-width="0.4" />
<line x1="32.60" y1="50.40" x2="45.40" y2="50.40" stroke="#444" stroke-width="0.4" />
<rect x="30.00" y="54.40" width="17.60" height="2.60" fill="#9a9a9a" stroke="#222" stroke-width="0.7" />
<rect x="30.86" y="55.10" width="1.80" height="1.20" fill="#e0e0e0" stroke="#333" stroke-width="0.35" />
<rect x="34.38" y="55.10" width="1.80" height="1.20" fill="#e0e0e0" stroke="#333" stroke-width="0.35" />
<rect x="37.90" y="55.10" width="1.80" height="1.20" fill="#e0e0e0" stroke="#333" stroke-width="0.35" />
<rect x="41.42" y="55.10" width="1.80" height="1.20" fill="#e0e0e0" stroke="#333" stroke-width="0.35" />
<rect x="44.94" y="55.10" width="1.80" height="1.20" fill="#e0e0e0" stroke="#333" stroke-width="0.35" />
<path d="M51.40,47.20 A5.2,5.2 0 0 0 46.20,52.40 L51.40,52.40" fill="#f2f2f2" stroke="#444" stroke-width="0.45" />
<line x1="52.00" y1="0.00" x2="52.00" y2="57.30" stroke="#222" stroke-width="1.0" />
<rect x="50.90" y="26.00" width="1.60" height="10.00" fill="#e5e5e5" stroke="#333" stroke-width="0.45" />
<rect x="50.90" y="41.00" width="1.60" height="12.00" fill="#e5e5e5" stroke="#333" stroke-width="0.45" />
<rect x="50.90" y="3.00" width="1.60" height="18.00" fill="#e5e5e5" stroke="#333" stroke-width="0.45" />
<line x1="0.00" y1="0.00" x2="0.00" y2="57.30" stroke="#222" stroke-width="1.1" />
<line x1="0.00" y1="0.00" x2="52.00" y2="0.00" stroke="#222" stroke-width="1.1" />
</g>
<g transform="translate(205.3,363.3)">
<rect x="42.20" y="1.60" width="8.40" height="14.40" fill="#e9e9e9" stroke="#555" stroke-width="0.5" />
<rect x="1.20" y="1.20" width="9.60" height="3.80" fill="#ddd" stroke="#222" stroke-width="0.6" />
<circle cx="3.60" cy="3.10" r="1.00" fill="#eee" stroke="#333" stroke-width="0.4"/>
<circle cx="8.00" cy="3.10" r="1.00" fill="#eee" stroke="#333" stroke-width="0.4"/>
<path d="M1.00,11.00 A5.6,5.6 0 0 0 6.60,5.40 L1.00,5.40" fill="#f2f2f2" stroke="#444" stroke-width="0.45" />
<rect x="17.40" y="1.60" width="4.60" height="7.60" fill="#f4f4f4" stroke="#222" stroke-width="0.6" />
<rect x="14.90" y="2.20" width="1.80" height="2.60" fill="#eee" stroke="#333" stroke-width="0.45" rx="0.7"/>
<rect x="22.70" y="2.20" width="1.80" height="2.60" fill="#eee" stroke="#333" stroke-width="0.45" rx="0.7"/>
<rect x="14.90" y="6.00" width="1.80" height="2.60" fill="#eee" stroke="#333" stroke-width="0.45" rx="0.7"/>
<rect x="22.70" y="6.00" width="1.80" height="2.60" fill="#eee" stroke="#333" stroke-width="0.45" rx="0.7"/>
<rect x="26.60" y="1.40" width="12.20" height="4.80" fill="#dcdcdc" stroke="#1a1a1a" stroke-width="0.8" />
<rect x="38.79" y="1.40" width="0.01" height="4.80" fill="#dcdcdc" stroke="#1a1a1a" stroke-width="0.8" />
<line x1="32.14" y1="2.40" x2="32.14" y2="6.20" stroke="#333" stroke-width="0.4" />
<line x1="37.68" y1="2.40" x2="37.68" y2="6.20" stroke="#333" stroke-width="0.4" />
<line x1="26.60" y1="2.60" x2="38.80" y2="2.60" stroke="#333" stroke-width="0.5" />
<rect x="30.00" y="7.80" width="5.40" height="3.20" fill="#f2f2f2" stroke="#333" stroke-width="0.5" rx="1.2"/>
<line x1="41.40" y1="1.00" x2="41.40" y2="14.80" stroke="#222" stroke-width="1.3" />
<path d="M41.20,11.40 A3.8,3.8 0 0 0 37.40,15.20 L41.20,15.20" fill="#f2f2f2" stroke="#444" stroke-width="0.45" />
<rect x="35.40" y="16.60" width="15.20" height="2.20" fill="#555" stroke="#1a1a1a" stroke-width="0.6" />
<line x1="36.00" y1="17.70" x2="50.00" y2="17.70" stroke="#ddd" stroke-width="0.5" />
<rect x="13.40" y="15.00" width="4.00" height="16.60" fill="#9a9a9a" stroke="#222" stroke-width="0.7" />
<rect x="14.20" y="15.76" width="2.40" height="1.80" fill="#e0e0e0" stroke="#333" stroke-width="0.35" />
<rect x="14.20" y="19.08" width="2.40" height="1.80" fill="#e0e0e0" stroke="#333" stroke-width="0.35" />
<rect x="14.20" y="22.40" width="2.40" height="1.80" fill="#e0e0e0" stroke="#333" stroke-width="0.35" />
<rect x="14.20" y="25.72" width="2.40" height="1.80" fill="#e0e0e0" stroke="#333" stroke-width="0.35" />
<rect x="14.20" y="29.04" width="2.40" height="1.80" fill="#e0e0e0" stroke="#333" stroke-width="0.35" />
<rect x="13.80" y="26.50" width="3.20" height="4.40" fill="#1a1a1a" stroke="none" stroke-width="0" />
<rect x="24.70" y="17.00" width="4.70" height="19.40" fill="#9a9a9a" stroke="#222" stroke-width="0.7" />
<rect x="25.50" y="17.72" width="3.10" height="1.80" fill="#e0e0e0" stroke="#333" stroke-width="0.35" />
<rect x="25.50" y="20.95" width="3.10" height="1.80" fill="#e0e0e0" stroke="#333" stroke-width="0.35" />
<rect x="25.50" y="24.18" width="3.10" height="1.80" fill="#e0e0e0" stroke="#333" stroke-width="0.35" />
<rect x="25.50" y="27.42" width="3.10" height="1.80" fill="#e0e0e0" stroke="#333" stroke-width="0.35" />
<rect x="25.50" y="30.65" width="3.10" height="1.80" fill="#e0e0e0" stroke="#333" stroke-width="0.35" />
<rect x="25.50" y="33.88" width="3.10" height="1.80" fill="#e0e0e0" stroke="#333" stroke-width="0.35" />
<rect x="24.70" y="17.00" width="4.70" height="2.20" fill="#1a1a1a" stroke="none" stroke-width="0" />
<line x1="0.50" y1="19.70" x2="12.70" y2="19.70" stroke="#222" stroke-width="0.8" />
<line x1="12.90" y1="19.70" x2="12.90" y2="36.50" stroke="#222" stroke-width="0.8" />
<path d="M7.00,24.40 A4.4,4.4 0 0 0 11.40,20.00 L7.00,20.00" fill="#f2f2f2" stroke="#444" stroke-width="0.45" />
<circle cx="3.60" cy="27.40" r="1.40" fill="#222" stroke="#111" stroke-width="0.4"/>
<circle cx="3.60" cy="27.40" r="0.50" fill="#ddd" stroke="none" stroke-width="0"/>
<rect x="9.40" y="25.60" width="2.80" height="3.20" fill="#eee" stroke="#222" stroke-width="0.5" rx="1"/>
<rect x="1.60" y="31.60" width="10.00" height="4.20" fill="#bbb" stroke="#1a1a1a" stroke-width="0.8" rx="1.4"/>
<rect x="2.80" y="32.60" width="7.60" height="2.20" fill="#eee" stroke="#333" stroke-width="0.4" rx="1"/>
<rect x="14.00" y="32.60" width="3.60" height="3.60" fill="#ddd" stroke="#222" stroke-width="0.5" />
<rect x="18.80" y="32.60" width="3.60" height="3.60" fill="#ddd" stroke="#222" stroke-width="0.5" />
<rect x="33.40" y="24.30" width="12.60" height="9.40" fill="#efefef" stroke="#222" stroke-width="0.65" />
<rect x="34.20" y="30.90" width="5.10" height="2.20" fill="#fff" stroke="#333" stroke-width="0.4" />
<rect x="40.10" y="30.90" width="5.10" height="2.20" fill="#fff" stroke="#333" stroke-width="0.4" />
<line x1="33.40" y1="30.10" x2="46.00" y2="30.10" stroke="#444" stroke-width="0.4" />
<rect x="30.70" y="33.80" width="17.30" height="2.60" fill="#9a9a9a" stroke="#222" stroke-width="0.7" />
<rect x="31.53" y="34.50" width="1.80" height="1.20" fill="#e0e0e0" stroke="#333" stroke-width="0.35" />
<rect x="34.99" y="34.50" width="1.80" height="1.20" fill="#e0e0e0" stroke="#333" stroke-width="0.35" />
<rect x="38.45" y="34.50" width="1.80" height="1.20" fill="#e0e0e0" stroke="#333" stroke-width="0.35" />
<rect x="41.91" y="34.50" width="1.80" height="1.20" fill="#e0e0e0" stroke="#333" stroke-width="0.35" />
<rect x="45.37" y="34.50" width="1.80" height="1.20" fill="#e0e0e0" stroke="#333" stroke-width="0.35" />
<path d="M51.40,26.00 A5,5 0 0 0 46.40,31.00 L51.40,31.00" fill="#f2f2f2" stroke="#444" stroke-width="0.45" />
<line x1="52.00" y1="0.00" x2="52.00" y2="37.70" stroke="#222" stroke-width="1.0" />
<rect x="50.90" y="3.00" width="1.60" height="13.00" fill="#e5e5e5" stroke="#333" stroke-width="0.45" />
<rect x="50.90" y="21.00" width="1.60" height="11.00" fill="#e5e5e5" stroke="#333" stroke-width="0.45" />
<line x1="0.00" y1="0.00" x2="0.00" y2="37.70" stroke="#222" stroke-width="1.1" />
<line x1="0.00" y1="0.00" x2="52.00" y2="0.00" stroke="#222" stroke-width="1.1" />
</g>
<g transform="translate(205.3,401)">
<rect x="42.20" y="1.60" width="8.40" height="14.40" fill="#e9e9e9" stroke="#555" stroke-width="0.5" />
<rect x="1.20" y="1.20" width="9.60" height="3.80" fill="#ddd" stroke="#222" stroke-width="0.6" />
<circle cx="3.60" cy="3.10" r="1.00" fill="#eee" stroke="#333" stroke-width="0.4"/>
<circle cx="8.00" cy="3.10" r="1.00" fill="#eee" stroke="#333" stroke-width="0.4"/>
<path d="M1.00,11.00 A5.6,5.6 0 0 0 6.60,5.40 L1.00,5.40" fill="#f2f2f2" stroke="#444" stroke-width="0.45" />
<rect x="17.40" y="1.60" width="4.60" height="7.60" fill="#f4f4f4" stroke="#222" stroke-width="0.6" />
<rect x="14.90" y="2.20" width="1.80" height="2.60" fill="#eee" stroke="#333" stroke-width="0.45" rx="0.7"/>
<rect x="22.70" y="2.20" width="1.80" height="2.60" fill="#eee" stroke="#333" stroke-width="0.45" rx="0.7"/>
<rect x="14.90" y="6.00" width="1.80" height="2.60" fill="#eee" stroke="#333" stroke-width="0.45" rx="0.7"/>
<rect x="22.70" y="6.00" width="1.80" height="2.60" fill="#eee" stroke="#333" stroke-width="0.45" rx="0.7"/>
<rect x="26.60" y="1.40" width="12.20" height="4.80" fill="#dcdcdc" stroke="#1a1a1a" stroke-width="0.8" />
<rect x="38.79" y="1.40" width="0.01" height="4.80" fill="#dcdcdc" stroke="#1a1a1a" stroke-width="0.8" />
<line x1="32.14" y1="2.40" x2="32.14" y2="6.20" stroke="#333" stroke-width="0.4" />
<line x1="37.68" y1="2.40" x2="37.68" y2="6.20" stroke="#333" stroke-width="0.4" />
<line x1="26.60" y1="2.60" x2="38.80" y2="2.60" stroke="#333" stroke-width="0.5" />
<rect x="30.00" y="7.80" width="5.40" height="3.20" fill="#f2f2f2" stroke="#333" stroke-width="0.5" rx="1.2"/>
<line x1="41.40" y1="1.00" x2="41.40" y2="14.80" stroke="#222" stroke-width="1.3" />
<path d="M41.20,11.40 A3.8,3.8 0 0 0 37.40,15.20 L41.20,15.20" fill="#f2f2f2" stroke="#444" stroke-width="0.45" />
<rect x="35.40" y="16.60" width="15.20" height="2.20" fill="#555" stroke="#1a1a1a" stroke-width="0.6" />
<line x1="36.00" y1="17.70" x2="50.00" y2="17.70" stroke="#ddd" stroke-width="0.5" />
<rect x="13.40" y="15.00" width="4.00" height="16.60" fill="#9a9a9a" stroke="#222" stroke-width="0.7" />
<rect x="14.20" y="15.76" width="2.40" height="1.80" fill="#e0e0e0" stroke="#333" stroke-width="0.35" />
<rect x="14.20" y="19.08" width="2.40" height="1.80" fill="#e0e0e0" stroke="#333" stroke-width="0.35" />
<rect x="14.20" y="22.40" width="2.40" height="1.80" fill="#e0e0e0" stroke="#333" stroke-width="0.35" />
<rect x="14.20" y="25.72" width="2.40" height="1.80" fill="#e0e0e0" stroke="#333" stroke-width="0.35" />
<rect x="14.20" y="29.04" width="2.40" height="1.80" fill="#e0e0e0" stroke="#333" stroke-width="0.35" />
<rect x="13.80" y="26.50" width="3.20" height="4.40" fill="#1a1a1a" stroke="none" stroke-width="0" />
<rect x="24.70" y="17.00" width="4.70" height="19.40" fill="#9a9a9a" stroke="#222" stroke-width="0.7" />
<rect x="25.50" y="17.72" width="3.10" height="1.80" fill="#e0e0e0" stroke="#333" stroke-width="0.35" />
<rect x="25.50" y="20.95" width="3.10" height="1.80" fill="#e0e0e0" stroke="#333" stroke-width="0.35" />
<rect x="25.50" y="24.18" width="3.10" height="1.80" fill="#e0e0e0" stroke="#333" stroke-width="0.35" />
<rect x="25.50" y="27.42" width="3.10" height="1.80" fill="#e0e0e0" stroke="#333" stroke-width="0.35" />
<rect x="25.50" y="30.65" width="3.10" height="1.80" fill="#e0e0e0" stroke="#333" stroke-width="0.35" />
<rect x="25.50" y="33.88" width="3.10" height="1.80" fill="#e0e0e0" stroke="#333" stroke-width="0.35" />
<rect x="24.70" y="17.00" width="4.70" height="2.20" fill="#1a1a1a" stroke="none" stroke-width="0" />
<line x1="0.50" y1="19.70" x2="12.70" y2="19.70" stroke="#222" stroke-width="0.8" />
<line x1="12.90" y1="19.70" x2="12.90" y2="36.50" stroke="#222" stroke-width="0.8" />
<path d="M7.00,24.40 A4.4,4.4 0 0 0 11.40,20.00 L7.00,20.00" fill="#f2f2f2" stroke="#444" stroke-width="0.45" />
<circle cx="3.60" cy="27.40" r="1.40" fill="#222" stroke="#111" stroke-width="0.4"/>
<circle cx="3.60" cy="27.40" r="0.50" fill="#ddd" stroke="none" stroke-width="0"/>
<rect x="9.40" y="25.60" width="2.80" height="3.20" fill="#eee" stroke="#222" stroke-width="0.5" rx="1"/>
<rect x="1.60" y="31.60" width="10.00" height="4.20" fill="#bbb" stroke="#1a1a1a" stroke-width="0.8" rx="1.4"/>
<rect x="2.80" y="32.60" width="7.60" height="2.20" fill="#eee" stroke="#333" stroke-width="0.4" rx="1"/>
<rect x="14.00" y="32.60" width="3.60" height="3.60" fill="#ddd" stroke="#222" stroke-width="0.5" />
<rect x="18.80" y="32.60" width="3.60" height="3.60" fill="#ddd" stroke="#222" stroke-width="0.5" />
<rect x="33.40" y="24.30" width="12.60" height="9.40" fill="#efefef" stroke="#222" stroke-width="0.65" />
<rect x="34.20" y="30.90" width="5.10" height="2.20" fill="#fff" stroke="#333" stroke-width="0.4" />
<rect x="40.10" y="30.90" width="5.10" height="2.20" fill="#fff" stroke="#333" stroke-width="0.4" />
<line x1="33.40" y1="30.10" x2="46.00" y2="30.10" stroke="#444" stroke-width="0.4" />
<rect x="30.70" y="33.80" width="17.30" height="2.60" fill="#9a9a9a" stroke="#222" stroke-width="0.7" />
<rect x="31.53" y="34.50" width="1.80" height="1.20" fill="#e0e0e0" stroke="#333" stroke-width="0.35" />
<rect x="34.99" y="34.50" width="1.80" height="1.20" fill="#e0e0e0" stroke="#333" stroke-width="0.35" />
<rect x="38.45" y="34.50" width="1.80" height="1.20" fill="#e0e0e0" stroke="#333" stroke-width="0.35" />
<rect x="41.91" y="34.50" width="1.80" height="1.20" fill="#e0e0e0" stroke="#333" stroke-width="0.35" />
<rect x="45.37" y="34.50" width="1.80" height="1.20" fill="#e0e0e0" stroke="#333" stroke-width="0.35" />
<path d="M51.40,26.00 A5,5 0 0 0 46.40,31.00 L51.40,31.00" fill="#f2f2f2" stroke="#444" stroke-width="0.45" />
<line x1="52.00" y1="0.00" x2="52.00" y2="37.70" stroke="#222" stroke-width="1.0" />
<rect x="50.90" y="3.00" width="1.60" height="13.00" fill="#e5e5e5" stroke="#333" stroke-width="0.45" />
<rect x="50.90" y="21.00" width="1.60" height="11.00" fill="#e5e5e5" stroke="#333" stroke-width="0.45" />
<line x1="0.00" y1="0.00" x2="0.00" y2="37.70" stroke="#222" stroke-width="1.1" />
<line x1="0.00" y1="0.00" x2="52.00" y2="0.00" stroke="#222" stroke-width="1.1" />
</g>
<g transform="translate(607,0) scale(-1,1)">
<g transform="translate(205.3,192)">
<rect x="42.20" y="1.60" width="8.40" height="19.60" fill="#e9e9e9" stroke="#555" stroke-width="0.5" />
<rect x="0.70" y="6.00" width="3.30" height="15.50" fill="#9a9a9a" stroke="#222" stroke-width="0.7" />
<rect x="1.50" y="7.04" width="1.70" height="1.80" fill="#e0e0e0" stroke="#333" stroke-width="0.35" />
<rect x="1.50" y="10.91" width="1.70" height="1.80" fill="#e0e0e0" stroke="#333" stroke-width="0.35" />
<rect x="1.50" y="14.79" width="1.70" height="1.80" fill="#e0e0e0" stroke="#333" stroke-width="0.35" />
<rect x="1.50" y="18.66" width="1.70" height="1.80" fill="#e0e0e0" stroke="#333" stroke-width="0.35" />
<rect x="0.70" y="2.20" width="12.00" height="3.60" fill="#ddd" stroke="#222" stroke-width="0.6" />
<line x1="4.50" y1="2.20" x2="4.50" y2="5.80" stroke="#333" stroke-width="0.4" />
<line x1="8.50" y1="2.20" x2="8.50" y2="5.80" stroke="#333" stroke-width="0.4" />
<rect x="15.40" y="7.20" width="4.00" height="9.00" fill="#f4f4f4" stroke="#222" stroke-width="0.6" />
<rect x="13.30" y="7.60" width="1.80" height="2.20" fill="#eee" stroke="#222" stroke-width="0.5" rx="0.7"/>
<rect x="19.70" y="7.60" width="1.80" height="2.20" fill="#eee" stroke="#222" stroke-width="0.5" rx="0.7"/>
<rect x="13.30" y="10.60" width="1.80" height="2.20" fill="#eee" stroke="#222" stroke-width="0.5" rx="0.7"/>
<rect x="19.70" y="10.60" width="1.80" height="2.20" fill="#eee" stroke="#222" stroke-width="0.5" rx="0.7"/>
<rect x="13.30" y="13.60" width="1.80" height="2.20" fill="#eee" stroke="#222" stroke-width="0.5" rx="0.7"/>
<rect x="19.70" y="13.60" width="1.80" height="2.20" fill="#eee" stroke="#222" stroke-width="0.5" rx="0.7"/>
<rect x="16.30" y="5.10" width="2.20" height="1.80" fill="#eee" stroke="#222" stroke-width="0.5" rx="0.7"/>
<rect x="16.30" y="16.50" width="2.20" height="1.80" fill="#eee" stroke="#222" stroke-width="0.5" rx="0.7"/>
<rect x="26.40" y="2.00" width="12.30" height="4.60" fill="#dcdcdc" stroke="#1a1a1a" stroke-width="0.8" />
<rect x="34.70" y="2.00" width="4.00" height="8.60" fill="#dcdcdc" stroke="#1a1a1a" stroke-width="0.8" />
<line x1="30.17" y1="3.00" x2="30.17" y2="6.60" stroke="#333" stroke-width="0.4" />
<line x1="33.95" y1="3.00" x2="33.95" y2="6.60" stroke="#333" stroke-width="0.4" />
<line x1="26.40" y1="3.20" x2="38.70" y2="3.20" stroke="#333" stroke-width="0.5" />
<rect x="27.20" y="11.20" width="5.00" height="3.00" fill="#f2f2f2" stroke="#333" stroke-width="0.5" rx="0.6"/>
<line x1="41.40" y1="1.00" x2="41.40" y2="17.30" stroke="#222" stroke-width="1.3" />
<path d="M41.40,14.00 A3.6,3.6 0 0 0 37.80,17.60 L41.40,17.60" fill="#f2f2f2" stroke="#444" stroke-width="0.45" />
<rect x="22.00" y="22.00" width="28.50" height="2.60" fill="#555" stroke="#1a1a1a" stroke-width="0.6" />
<line x1="22.50" y1="23.30" x2="50.00" y2="23.30" stroke="#ddd" stroke-width="0.6" />
<line x1="22.30" y1="24.60" x2="22.30" y2="38.40" stroke="#222" stroke-width="1.0" />
<path d="M22.60,23.00 A4,4 0 0 1 26.60,27.00 L22.60,27.00" fill="#f2f2f2" stroke="#444" stroke-width="0.45" />
<rect x="41.00" y="25.00" width="7.20" height="3.00" fill="#e8e8e8" stroke="#222" stroke-width="0.55" />
<circle cx="45.60" cy="30.30" r="1.10" fill="#ddd" stroke="#222" stroke-width="0.5"/>
<rect x="24.30" y="31.00" width="9.50" height="6.40" fill="#efefef" stroke="#222" stroke-width="0.65" />
<rect x="24.80" y="32.00" width="2.40" height="4.40" fill="#fff" stroke="#333" stroke-width="0.4" />
<rect x="35.00" y="34.60" width="13.80" height="3.00" fill="#9a9a9a" stroke="#222" stroke-width="0.7" />
<rect x="35.83" y="35.30" width="1.80" height="1.60" fill="#e0e0e0" stroke="#333" stroke-width="0.35" />
<rect x="39.27" y="35.30" width="1.80" height="1.60" fill="#e0e0e0" stroke="#333" stroke-width="0.35" />
<rect x="42.73" y="35.30" width="1.80" height="1.60" fill="#e0e0e0" stroke="#333" stroke-width="0.35" />
<rect x="46.18" y="35.30" width="1.80" height="1.60" fill="#e0e0e0" stroke="#333" stroke-width="0.35" />
<rect x="1.20" y="24.70" width="10.40" height="3.20" fill="#9a9a9a" stroke="#222" stroke-width="0.7" />
<rect x="2.03" y="25.40" width="1.80" height="1.80" fill="#e0e0e0" stroke="#333" stroke-width="0.35" />
<rect x="5.50" y="25.40" width="1.80" height="1.80" fill="#e0e0e0" stroke="#333" stroke-width="0.35" />
<rect x="8.97" y="25.40" width="1.80" height="1.80" fill="#e0e0e0" stroke="#333" stroke-width="0.35" />
<path d="M0.90,33.80 A5.6,5.6 0 0 0 6.50,28.20 L0.90,28.20" fill="#f2f2f2" stroke="#444" stroke-width="0.45" />
<line x1="0.00" y1="38.40" x2="52.00" y2="38.40" stroke="#222" stroke-width="1.1" />
<line x1="13.40" y1="38.40" x2="13.40" y2="57.30" stroke="#222" stroke-width="0.9" />
<path d="M7.20,43.40 A4.6,4.6 0 0 0 11.80,38.80 L7.20,38.80" fill="#f2f2f2" stroke="#444" stroke-width="0.45" />
<path d="M18.60,43.40 A4.6,4.6 0 0 1 14.00,38.80 L18.60,38.80" fill="#f2f2f2" stroke="#444" stroke-width="0.45" />
<circle cx="3.80" cy="47.60" r="1.40" fill="#222" stroke="#111" stroke-width="0.4"/>
<circle cx="3.80" cy="47.60" r="0.50" fill="#ddd" stroke="none" stroke-width="0"/>
<rect x="9.80" y="46.00" width="2.80" height="3.20" fill="#eee" stroke="#222" stroke-width="0.5" rx="1"/>
<rect x="1.60" y="51.60" width="10.00" height="4.30" fill="#bbb" stroke="#1a1a1a" stroke-width="0.8" rx="1.4"/>
<rect x="2.80" y="52.60" width="7.60" height="2.30" fill="#eee" stroke="#333" stroke-width="0.4" rx="1"/>
<rect x="14.20" y="45.00" width="3.80" height="11.40" fill="#9a9a9a" stroke="#222" stroke-width="0.7" />
<rect x="15.00" y="46.00" width="2.20" height="1.80" fill="#e0e0e0" stroke="#333" stroke-width="0.35" />
<rect x="15.00" y="49.80" width="2.20" height="1.80" fill="#e0e0e0" stroke="#333" stroke-width="0.35" />
<rect x="15.00" y="53.60" width="2.20" height="1.80" fill="#e0e0e0" stroke="#333" stroke-width="0.35" />
<rect x="22.60" y="45.00" width="4.60" height="11.40" fill="#9a9a9a" stroke="#222" stroke-width="0.7" />
<rect x="23.40" y="46.00" width="3.00" height="1.80" fill="#e0e0e0" stroke="#333" stroke-width="0.35" />
<rect x="23.40" y="49.80" width="3.00" height="1.80" fill="#e0e0e0" stroke="#333" stroke-width="0.35" />
<rect x="23.40" y="53.60" width="3.00" height="1.80" fill="#e0e0e0" stroke="#333" stroke-width="0.35" />
<rect x="32.60" y="44.60" width="12.80" height="9.40" fill="#efefef" stroke="#222" stroke-width="0.65" />
<rect x="33.40" y="51.20" width="5.20" height="2.20" fill="#fff" stroke="#333" stroke-width="0.4" />
<rect x="39.40" y="51.20" width="5.20" height="2.20" fill="#fff" stroke="#333" stroke-width="0.4" />
<line x1="32.60" y1="50.40" x2="45.40" y2="50.40" stroke="#444" stroke-width="0.4" />
<rect x="30.00" y="54.40" width="17.60" height="2.60" fill="#9a9a9a" stroke="#222" stroke-width="0.7" />
<rect x="30.86" y="55.10" width="1.80" height="1.20" fill="#e0e0e0" stroke="#333" stroke-width="0.35" />
<rect x="34.38" y="55.10" width="1.80" height="1.20" fill="#e0e0e0" stroke="#333" stroke-width="0.35" />
<rect x="37.90" y="55.10" width="1.80" height="1.20" fill="#e0e0e0" stroke="#333" stroke-width="0.35" />
<rect x="41.42" y="55.10" width="1.80" height="1.20" fill="#e0e0e0" stroke="#333" stroke-width="0.35" />
<rect x="44.94" y="55.10" width="1.80" height="1.20" fill="#e0e0e0" stroke="#333" stroke-width="0.35" />
<path d="M51.40,47.20 A5.2,5.2 0 0 0 46.20,52.40 L51.40,52.40" fill="#f2f2f2" stroke="#444" stroke-width="0.45" />
<line x1="52.00" y1="0.00" x2="52.00" y2="57.30" stroke="#222" stroke-width="1.0" />
<rect x="50.90" y="26.00" width="1.60" height="10.00" fill="#e5e5e5" stroke="#333" stroke-width="0.45" />
<rect x="50.90" y="41.00" width="1.60" height="12.00" fill="#e5e5e5" stroke="#333" stroke-width="0.45" />
<rect x="50.90" y="3.00" width="1.60" height="18.00" fill="#e5e5e5" stroke="#333" stroke-width="0.45" />
<line x1="0.00" y1="0.00" x2="0.00" y2="57.30" stroke="#222" stroke-width="1.1" />
<line x1="0.00" y1="0.00" x2="52.00" y2="0.00" stroke="#222" stroke-width="1.1" />
</g>
<g transform="translate(205.3,249.4)">
<rect x="42.20" y="1.60" width="8.40" height="19.60" fill="#e9e9e9" stroke="#555" stroke-width="0.5" />
<rect x="0.70" y="6.00" width="3.30" height="15.50" fill="#9a9a9a" stroke="#222" stroke-width="0.7" />
<rect x="1.50" y="7.04" width="1.70" height="1.80" fill="#e0e0e0" stroke="#333" stroke-width="0.35" />
<rect x="1.50" y="10.91" width="1.70" height="1.80" fill="#e0e0e0" stroke="#333" stroke-width="0.35" />
<rect x="1.50" y="14.79" width="1.70" height="1.80" fill="#e0e0e0" stroke="#333" stroke-width="0.35" />
<rect x="1.50" y="18.66" width="1.70" height="1.80" fill="#e0e0e0" stroke="#333" stroke-width="0.35" />
<rect x="0.70" y="2.20" width="12.00" height="3.60" fill="#ddd" stroke="#222" stroke-width="0.6" />
<line x1="4.50" y1="2.20" x2="4.50" y2="5.80" stroke="#333" stroke-width="0.4" />
<line x1="8.50" y1="2.20" x2="8.50" y2="5.80" stroke="#333" stroke-width="0.4" />
<rect x="15.40" y="7.20" width="4.00" height="9.00" fill="#f4f4f4" stroke="#222" stroke-width="0.6" />
<rect x="13.30" y="7.60" width="1.80" height="2.20" fill="#eee" stroke="#222" stroke-width="0.5" rx="0.7"/>
<rect x="19.70" y="7.60" width="1.80" height="2.20" fill="#eee" stroke="#222" stroke-width="0.5" rx="0.7"/>
<rect x="13.30" y="10.60" width="1.80" height="2.20" fill="#eee" stroke="#222" stroke-width="0.5" rx="0.7"/>
<rect x="19.70" y="10.60" width="1.80" height="2.20" fill="#eee" stroke="#222" stroke-width="0.5" rx="0.7"/>
<rect x="13.30" y="13.60" width="1.80" height="2.20" fill="#eee" stroke="#222" stroke-width="0.5" rx="0.7"/>
<rect x="19.70" y="13.60" width="1.80" height="2.20" fill="#eee" stroke="#222" stroke-width="0.5" rx="0.7"/>
<rect x="16.30" y="5.10" width="2.20" height="1.80" fill="#eee" stroke="#222" stroke-width="0.5" rx="0.7"/>
<rect x="16.30" y="16.50" width="2.20" height="1.80" fill="#eee" stroke="#222" stroke-width="0.5" rx="0.7"/>
<rect x="26.40" y="2.00" width="12.30" height="4.60" fill="#dcdcdc" stroke="#1a1a1a" stroke-width="0.8" />
<rect x="34.70" y="2.00" width="4.00" height="8.60" fill="#dcdcdc" stroke="#1a1a1a" stroke-width="0.8" />
<line x1="30.17" y1="3.00" x2="30.17" y2="6.60" stroke="#333" stroke-width="0.4" />
<line x1="33.95" y1="3.00" x2="33.95" y2="6.60" stroke="#333" stroke-width="0.4" />
<line x1="26.40" y1="3.20" x2="38.70" y2="3.20" stroke="#333" stroke-width="0.5" />
<rect x="27.20" y="11.20" width="5.00" height="3.00" fill="#f2f2f2" stroke="#333" stroke-width="0.5" rx="0.6"/>
<line x1="41.40" y1="1.00" x2="41.40" y2="17.30" stroke="#222" stroke-width="1.3" />
<path d="M41.40,14.00 A3.6,3.6 0 0 0 37.80,17.60 L41.40,17.60" fill="#f2f2f2" stroke="#444" stroke-width="0.45" />
<rect x="22.00" y="22.00" width="28.50" height="2.60" fill="#555" stroke="#1a1a1a" stroke-width="0.6" />
<line x1="22.50" y1="23.30" x2="50.00" y2="23.30" stroke="#ddd" stroke-width="0.6" />
<line x1="22.30" y1="24.60" x2="22.30" y2="38.40" stroke="#222" stroke-width="1.0" />
<path d="M22.60,23.00 A4,4 0 0 1 26.60,27.00 L22.60,27.00" fill="#f2f2f2" stroke="#444" stroke-width="0.45" />
<rect x="41.00" y="25.00" width="7.20" height="3.00" fill="#e8e8e8" stroke="#222" stroke-width="0.55" />
<circle cx="45.60" cy="30.30" r="1.10" fill="#ddd" stroke="#222" stroke-width="0.5"/>
<rect x="24.30" y="31.00" width="9.50" height="6.40" fill="#efefef" stroke="#222" stroke-width="0.65" />
<rect x="24.80" y="32.00" width="2.40" height="4.40" fill="#fff" stroke="#333" stroke-width="0.4" />
<rect x="35.00" y="34.60" width="13.80" height="3.00" fill="#9a9a9a" stroke="#222" stroke-width="0.7" />
<rect x="35.83" y="35.30" width="1.80" height="1.60" fill="#e0e0e0" stroke="#333" stroke-width="0.35" />
<rect x="39.27" y="35.30" width="1.80" height="1.60" fill="#e0e0e0" stroke="#333" stroke-width="0.35" />
<rect x="42.73" y="35.30" width="1.80" height="1.60" fill="#e0e0e0" stroke="#333" stroke-width="0.35" />
<rect x="46.18" y="35.30" width="1.80" height="1.60" fill="#e0e0e0" stroke="#333" stroke-width="0.35" />
<rect x="1.20" y="24.70" width="10.40" height="3.20" fill="#9a9a9a" stroke="#222" stroke-width="0.7" />
<rect x="2.03" y="25.40" width="1.80" height="1.80" fill="#e0e0e0" stroke="#333" stroke-width="0.35" />
<rect x="5.50" y="25.40" width="1.80" height="1.80" fill="#e0e0e0" stroke="#333" stroke-width="0.35" />
<rect x="8.97" y="25.40" width="1.80" height="1.80" fill="#e0e0e0" stroke="#333" stroke-width="0.35" />
<path d="M0.90,33.80 A5.6,5.6 0 0 0 6.50,28.20 L0.90,28.20" fill="#f2f2f2" stroke="#444" stroke-width="0.45" />
<line x1="0.00" y1="38.40" x2="52.00" y2="38.40" stroke="#222" stroke-width="1.1" />
<line x1="13.40" y1="38.40" x2="13.40" y2="57.30" stroke="#222" stroke-width="0.9" />
<path d="M7.20,43.40 A4.6,4.6 0 0 0 11.80,38.80 L7.20,38.80" fill="#f2f2f2" stroke="#444" stroke-width="0.45" />
<path d="M18.60,43.40 A4.6,4.6 0 0 1 14.00,38.80 L18.60,38.80" fill="#f2f2f2" stroke="#444" stroke-width="0.45" />
<circle cx="3.80" cy="47.60" r="1.40" fill="#222" stroke="#111" stroke-width="0.4"/>
<circle cx="3.80" cy="47.60" r="0.50" fill="#ddd" stroke="none" stroke-width="0"/>
<rect x="9.80" y="46.00" width="2.80" height="3.20" fill="#eee" stroke="#222" stroke-width="0.5" rx="1"/>
<rect x="1.60" y="51.60" width="10.00" height="4.30" fill="#bbb" stroke="#1a1a1a" stroke-width="0.8" rx="1.4"/>
<rect x="2.80" y="52.60" width="7.60" height="2.30" fill="#eee" stroke="#333" stroke-width="0.4" rx="1"/>
<rect x="14.20" y="45.00" width="3.80" height="11.40" fill="#9a9a9a" stroke="#222" stroke-width="0.7" />
<rect x="15.00" y="46.00" width="2.20" height="1.80" fill="#e0e0e0" stroke="#333" stroke-width="0.35" />
<rect x="15.00" y="49.80" width="2.20" height="1.80" fill="#e0e0e0" stroke="#333" stroke-width="0.35" />
<rect x="15.00" y="53.60" width="2.20" height="1.80" fill="#e0e0e0" stroke="#333" stroke-width="0.35" />
<rect x="22.60" y="45.00" width="4.60" height="11.40" fill="#9a9a9a" stroke="#222" stroke-width="0.7" />
<rect x="23.40" y="46.00" width="3.00" height="1.80" fill="#e0e0e0" stroke="#333" stroke-width="0.35" />
<rect x="23.40" y="49.80" width="3.00" height="1.80" fill="#e0e0e0" stroke="#333" stroke-width="0.35" />
<rect x="23.40" y="53.60" width="3.00" height="1.80" fill="#e0e0e0" stroke="#333" stroke-width="0.35" />
<rect x="32.60" y="44.60" width="12.80" height="9.40" fill="#efefef" stroke="#222" stroke-width="0.65" />
<rect x="33.40" y="51.20" width="5.20" height="2.20" fill="#fff" stroke="#333" stroke-width="0.4" />
<rect x="39.40" y="51.20" width="5.20" height="2.20" fill="#fff" stroke="#333" stroke-width="0.4" />
<line x1="32.60" y1="50.40" x2="45.40" y2="50.40" stroke="#444" stroke-width="0.4" />
<rect x="30.00" y="54.40" width="17.60" height="2.60" fill="#9a9a9a" stroke="#222" stroke-width="0.7" />
<rect x="30.86" y="55.10" width="1.80" height="1.20" fill="#e0e0e0" stroke="#333" stroke-width="0.35" />
<rect x="34.38" y="55.10" width="1.80" height="1.20" fill="#e0e0e0" stroke="#333" stroke-width="0.35" />
<rect x="37.90" y="55.10" width="1.80" height="1.20" fill="#e0e0e0" stroke="#333" stroke-width="0.35" />
<rect x="41.42" y="55.10" width="1.80" height="1.20" fill="#e0e0e0" stroke="#333" stroke-width="0.35" />
<rect x="44.94" y="55.10" width="1.80" height="1.20" fill="#e0e0e0" stroke="#333" stroke-width="0.35" />
<path d="M51.40,47.20 A5.2,5.2 0 0 0 46.20,52.40 L51.40,52.40" fill="#f2f2f2" stroke="#444" stroke-width="0.45" />
<line x1="52.00" y1="0.00" x2="52.00" y2="57.30" stroke="#222" stroke-width="1.0" />
<rect x="50.90" y="26.00" width="1.60" height="10.00" fill="#e5e5e5" stroke="#333" stroke-width="0.45" />
<rect x="50.90" y="41.00" width="1.60" height="12.00" fill="#e5e5e5" stroke="#333" stroke-width="0.45" />
<rect x="50.90" y="3.00" width="1.60" height="18.00" fill="#e5e5e5" stroke="#333" stroke-width="0.45" />
<line x1="0.00" y1="0.00" x2="0.00" y2="57.30" stroke="#222" stroke-width="1.1" />
<line x1="0.00" y1="0.00" x2="52.00" y2="0.00" stroke="#222" stroke-width="1.1" />
</g>
<g transform="translate(205.3,306.6)">
<rect x="42.20" y="1.60" width="8.40" height="19.60" fill="#e9e9e9" stroke="#555" stroke-width="0.5" />
<rect x="0.70" y="6.00" width="3.30" height="15.50" fill="#9a9a9a" stroke="#222" stroke-width="0.7" />
<rect x="1.50" y="7.04" width="1.70" height="1.80" fill="#e0e0e0" stroke="#333" stroke-width="0.35" />
<rect x="1.50" y="10.91" width="1.70" height="1.80" fill="#e0e0e0" stroke="#333" stroke-width="0.35" />
<rect x="1.50" y="14.79" width="1.70" height="1.80" fill="#e0e0e0" stroke="#333" stroke-width="0.35" />
<rect x="1.50" y="18.66" width="1.70" height="1.80" fill="#e0e0e0" stroke="#333" stroke-width="0.35" />
<rect x="0.70" y="2.20" width="12.00" height="3.60" fill="#ddd" stroke="#222" stroke-width="0.6" />
<line x1="4.50" y1="2.20" x2="4.50" y2="5.80" stroke="#333" stroke-width="0.4" />
<line x1="8.50" y1="2.20" x2="8.50" y2="5.80" stroke="#333" stroke-width="0.4" />
<rect x="15.40" y="7.20" width="4.00" height="9.00" fill="#f4f4f4" stroke="#222" stroke-width="0.6" />
<rect x="13.30" y="7.60" width="1.80" height="2.20" fill="#eee" stroke="#222" stroke-width="0.5" rx="0.7"/>
<rect x="19.70" y="7.60" width="1.80" height="2.20" fill="#eee" stroke="#222" stroke-width="0.5" rx="0.7"/>
<rect x="13.30" y="10.60" width="1.80" height="2.20" fill="#eee" stroke="#222" stroke-width="0.5" rx="0.7"/>
<rect x="19.70" y="10.60" width="1.80" height="2.20" fill="#eee" stroke="#222" stroke-width="0.5" rx="0.7"/>
<rect x="13.30" y="13.60" width="1.80" height="2.20" fill="#eee" stroke="#222" stroke-width="0.5" rx="0.7"/>
<rect x="19.70" y="13.60" width="1.80" height="2.20" fill="#eee" stroke="#222" stroke-width="0.5" rx="0.7"/>
<rect x="16.30" y="5.10" width="2.20" height="1.80" fill="#eee" stroke="#222" stroke-width="0.5" rx="0.7"/>
<rect x="16.30" y="16.50" width="2.20" height="1.80" fill="#eee" stroke="#222" stroke-width="0.5" rx="0.7"/>
<rect x="26.40" y="2.00" width="12.30" height="4.60" fill="#dcdcdc" stroke="#1a1a1a" stroke-width="0.8" />
<rect x="34.70" y="2.00" width="4.00" height="8.60" fill="#dcdcdc" stroke="#1a1a1a" stroke-width="0.8" />
<line x1="30.17" y1="3.00" x2="30.17" y2="6.60" stroke="#333" stroke-width="0.4" />
<line x1="33.95" y1="3.00" x2="33.95" y2="6.60" stroke="#333" stroke-width="0.4" />
<line x1="26.40" y1="3.20" x2="38.70" y2="3.20" stroke="#333" stroke-width="0.5" />
<rect x="27.20" y="11.20" width="5.00" height="3.00" fill="#f2f2f2" stroke="#333" stroke-width="0.5" rx="0.6"/>
<line x1="41.40" y1="1.00" x2="41.40" y2="17.30" stroke="#222" stroke-width="1.3" />
<path d="M41.40,14.00 A3.6,3.6 0 0 0 37.80,17.60 L41.40,17.60" fill="#f2f2f2" stroke="#444" stroke-width="0.45" />
<rect x="22.00" y="22.00" width="28.50" height="2.60" fill="#555" stroke="#1a1a1a" stroke-width="0.6" />
<line x1="22.50" y1="23.30" x2="50.00" y2="23.30" stroke="#ddd" stroke-width="0.6" />
<line x1="22.30" y1="24.60" x2="22.30" y2="38.40" stroke="#222" stroke-width="1.0" />
<path d="M22.60,23.00 A4,4 0 0 1 26.60,27.00 L22.60,27.00" fill="#f2f2f2" stroke="#444" stroke-width="0.45" />
<rect x="41.00" y="25.00" width="7.20" height="3.00" fill="#e8e8e8" stroke="#222" stroke-width="0.55" />
<circle cx="45.60" cy="30.30" r="1.10" fill="#ddd" stroke="#222" stroke-width="0.5"/>
<rect x="24.30" y="31.00" width="9.50" height="6.40" fill="#efefef" stroke="#222" stroke-width="0.65" />
<rect x="24.80" y="32.00" width="2.40" height="4.40" fill="#fff" stroke="#333" stroke-width="0.4" />
<rect x="35.00" y="34.60" width="13.80" height="3.00" fill="#9a9a9a" stroke="#222" stroke-width="0.7" />
<rect x="35.83" y="35.30" width="1.80" height="1.60" fill="#e0e0e0" stroke="#333" stroke-width="0.35" />
<rect x="39.27" y="35.30" width="1.80" height="1.60" fill="#e0e0e0" stroke="#333" stroke-width="0.35" />
<rect x="42.73" y="35.30" width="1.80" height="1.60" fill="#e0e0e0" stroke="#333" stroke-width="0.35" />
<rect x="46.18" y="35.30" width="1.80" height="1.60" fill="#e0e0e0" stroke="#333" stroke-width="0.35" />
<rect x="1.20" y="24.70" width="10.40" height="3.20" fill="#9a9a9a" stroke="#222" stroke-width="0.7" />
<rect x="2.03" y="25.40" width="1.80" height="1.80" fill="#e0e0e0" stroke="#333" stroke-width="0.35" />
<rect x="5.50" y="25.40" width="1.80" height="1.80" fill="#e0e0e0" stroke="#333" stroke-width="0.35" />
<rect x="8.97" y="25.40" width="1.80" height="1.80" fill="#e0e0e0" stroke="#333" stroke-width="0.35" />
<path d="M0.90,33.80 A5.6,5.6 0 0 0 6.50,28.20 L0.90,28.20" fill="#f2f2f2" stroke="#444" stroke-width="0.45" />
<line x1="0.00" y1="38.40" x2="52.00" y2="38.40" stroke="#222" stroke-width="1.1" />
<line x1="13.40" y1="38.40" x2="13.40" y2="57.30" stroke="#222" stroke-width="0.9" />
<path d="M7.20,43.40 A4.6,4.6 0 0 0 11.80,38.80 L7.20,38.80" fill="#f2f2f2" stroke="#444" stroke-width="0.45" />
<path d="M18.60,43.40 A4.6,4.6 0 0 1 14.00,38.80 L18.60,38.80" fill="#f2f2f2" stroke="#444" stroke-width="0.45" />
<circle cx="3.80" cy="47.60" r="1.40" fill="#222" stroke="#111" stroke-width="0.4"/>
<circle cx="3.80" cy="47.60" r="0.50" fill="#ddd" stroke="none" stroke-width="0"/>
<rect x="9.80" y="46.00" width="2.80" height="3.20" fill="#eee" stroke="#222" stroke-width="0.5" rx="1"/>
<rect x="1.60" y="51.60" width="10.00" height="4.30" fill="#bbb" stroke="#1a1a1a" stroke-width="0.8" rx="1.4"/>
<rect x="2.80" y="52.60" width="7.60" height="2.30" fill="#eee" stroke="#333" stroke-width="0.4" rx="1"/>
<rect x="14.20" y="45.00" width="3.80" height="11.40" fill="#9a9a9a" stroke="#222" stroke-width="0.7" />
<rect x="15.00" y="46.00" width="2.20" height="1.80" fill="#e0e0e0" stroke="#333" stroke-width="0.35" />
<rect x="15.00" y="49.80" width="2.20" height="1.80" fill="#e0e0e0" stroke="#333" stroke-width="0.35" />
<rect x="15.00" y="53.60" width="2.20" height="1.80" fill="#e0e0e0" stroke="#333" stroke-width="0.35" />
<rect x="22.60" y="45.00" width="4.60" height="11.40" fill="#9a9a9a" stroke="#222" stroke-width="0.7" />
<rect x="23.40" y="46.00" width="3.00" height="1.80" fill="#e0e0e0" stroke="#333" stroke-width="0.35" />
<rect x="23.40" y="49.80" width="3.00" height="1.80" fill="#e0e0e0" stroke="#333" stroke-width="0.35" />
<rect x="23.40" y="53.60" width="3.00" height="1.80" fill="#e0e0e0" stroke="#333" stroke-width="0.35" />
<rect x="32.60" y="44.60" width="12.80" height="9.40" fill="#efefef" stroke="#222" stroke-width="0.65" />
<rect x="33.40" y="51.20" width="5.20" height="2.20" fill="#fff" stroke="#333" stroke-width="0.4" />
<rect x="39.40" y="51.20" width="5.20" height="2.20" fill="#fff" stroke="#333" stroke-width="0.4" />
<line x1="32.60" y1="50.40" x2="45.40" y2="50.40" stroke="#444" stroke-width="0.4" />
<rect x="30.00" y="54.40" width="17.60" height="2.60" fill="#9a9a9a" stroke="#222" stroke-width="0.7" />
<rect x="30.86" y="55.10" width="1.80" height="1.20" fill="#e0e0e0" stroke="#333" stroke-width="0.35" />
<rect x="34.38" y="55.10" width="1.80" height="1.20" fill="#e0e0e0" stroke="#333" stroke-width="0.35" />
<rect x="37.90" y="55.10" width="1.80" height="1.20" fill="#e0e0e0" stroke="#333" stroke-width="0.35" />
<rect x="41.42" y="55.10" width="1.80" height="1.20" fill="#e0e0e0" stroke="#333" stroke-width="0.35" />
<rect x="44.94" y="55.10" width="1.80" height="1.20" fill="#e0e0e0" stroke="#333" stroke-width="0.35" />
<path d="M51.40,47.20 A5.2,5.2 0 0 0 46.20,52.40 L51.40,52.40" fill="#f2f2f2" stroke="#444" stroke-width="0.45" />
<line x1="52.00" y1="0.00" x2="52.00" y2="57.30" stroke="#222" stroke-width="1.0" />
<rect x="50.90" y="26.00" width="1.60" height="10.00" fill="#e5e5e5" stroke="#333" stroke-width="0.45" />
<rect x="50.90" y="41.00" width="1.60" height="12.00" fill="#e5e5e5" stroke="#333" stroke-width="0.45" />
<rect x="50.90" y="3.00" width="1.60" height="18.00" fill="#e5e5e5" stroke="#333" stroke-width="0.45" />
<line x1="0.00" y1="0.00" x2="0.00" y2="57.30" stroke="#222" stroke-width="1.1" />
<line x1="0.00" y1="0.00" x2="52.00" y2="0.00" stroke="#222" stroke-width="1.1" />
</g>
<g transform="translate(205.3,363.3)">
<rect x="42.20" y="1.60" width="8.40" height="14.40" fill="#e9e9e9" stroke="#555" stroke-width="0.5" />
<rect x="1.20" y="1.20" width="9.60" height="3.80" fill="#ddd" stroke="#222" stroke-width="0.6" />
<circle cx="3.60" cy="3.10" r="1.00" fill="#eee" stroke="#333" stroke-width="0.4"/>
<circle cx="8.00" cy="3.10" r="1.00" fill="#eee" stroke="#333" stroke-width="0.4"/>
<path d="M1.00,11.00 A5.6,5.6 0 0 0 6.60,5.40 L1.00,5.40" fill="#f2f2f2" stroke="#444" stroke-width="0.45" />
<rect x="17.40" y="1.60" width="4.60" height="7.60" fill="#f4f4f4" stroke="#222" stroke-width="0.6" />
<rect x="14.90" y="2.20" width="1.80" height="2.60" fill="#eee" stroke="#333" stroke-width="0.45" rx="0.7"/>
<rect x="22.70" y="2.20" width="1.80" height="2.60" fill="#eee" stroke="#333" stroke-width="0.45" rx="0.7"/>
<rect x="14.90" y="6.00" width="1.80" height="2.60" fill="#eee" stroke="#333" stroke-width="0.45" rx="0.7"/>
<rect x="22.70" y="6.00" width="1.80" height="2.60" fill="#eee" stroke="#333" stroke-width="0.45" rx="0.7"/>
<rect x="26.60" y="1.40" width="12.20" height="4.80" fill="#dcdcdc" stroke="#1a1a1a" stroke-width="0.8" />
<rect x="38.79" y="1.40" width="0.01" height="4.80" fill="#dcdcdc" stroke="#1a1a1a" stroke-width="0.8" />
<line x1="32.14" y1="2.40" x2="32.14" y2="6.20" stroke="#333" stroke-width="0.4" />
<line x1="37.68" y1="2.40" x2="37.68" y2="6.20" stroke="#333" stroke-width="0.4" />
<line x1="26.60" y1="2.60" x2="38.80" y2="2.60" stroke="#333" stroke-width="0.5" />
<rect x="30.00" y="7.80" width="5.40" height="3.20" fill="#f2f2f2" stroke="#333" stroke-width="0.5" rx="1.2"/>
<line x1="41.40" y1="1.00" x2="41.40" y2="14.80" stroke="#222" stroke-width="1.3" />
<path d="M41.20,11.40 A3.8,3.8 0 0 0 37.40,15.20 L41.20,15.20" fill="#f2f2f2" stroke="#444" stroke-width="0.45" />
<rect x="35.40" y="16.60" width="15.20" height="2.20" fill="#555" stroke="#1a1a1a" stroke-width="0.6" />
<line x1="36.00" y1="17.70" x2="50.00" y2="17.70" stroke="#ddd" stroke-width="0.5" />
<rect x="13.40" y="15.00" width="4.00" height="16.60" fill="#9a9a9a" stroke="#222" stroke-width="0.7" />
<rect x="14.20" y="15.76" width="2.40" height="1.80" fill="#e0e0e0" stroke="#333" stroke-width="0.35" />
<rect x="14.20" y="19.08" width="2.40" height="1.80" fill="#e0e0e0" stroke="#333" stroke-width="0.35" />
<rect x="14.20" y="22.40" width="2.40" height="1.80" fill="#e0e0e0" stroke="#333" stroke-width="0.35" />
<rect x="14.20" y="25.72" width="2.40" height="1.80" fill="#e0e0e0" stroke="#333" stroke-width="0.35" />
<rect x="14.20" y="29.04" width="2.40" height="1.80" fill="#e0e0e0" stroke="#333" stroke-width="0.35" />
<rect x="13.80" y="26.50" width="3.20" height="4.40" fill="#1a1a1a" stroke="none" stroke-width="0" />
<rect x="24.70" y="17.00" width="4.70" height="19.40" fill="#9a9a9a" stroke="#222" stroke-width="0.7" />
<rect x="25.50" y="17.72" width="3.10" height="1.80" fill="#e0e0e0" stroke="#333" stroke-width="0.35" />
<rect x="25.50" y="20.95" width="3.10" height="1.80" fill="#e0e0e0" stroke="#333" stroke-width="0.35" />
<rect x="25.50" y="24.18" width="3.10" height="1.80" fill="#e0e0e0" stroke="#333" stroke-width="0.35" />
<rect x="25.50" y="27.42" width="3.10" height="1.80" fill="#e0e0e0" stroke="#333" stroke-width="0.35" />
<rect x="25.50" y="30.65" width="3.10" height="1.80" fill="#e0e0e0" stroke="#333" stroke-width="0.35" />
<rect x="25.50" y="33.88" width="3.10" height="1.80" fill="#e0e0e0" stroke="#333" stroke-width="0.35" />
<rect x="24.70" y="17.00" width="4.70" height="2.20" fill="#1a1a1a" stroke="none" stroke-width="0" />
<line x1="0.50" y1="19.70" x2="12.70" y2="19.70" stroke="#222" stroke-width="0.8" />
<line x1="12.90" y1="19.70" x2="12.90" y2="36.50" stroke="#222" stroke-width="0.8" />
<path d="M7.00,24.40 A4.4,4.4 0 0 0 11.40,20.00 L7.00,20.00" fill="#f2f2f2" stroke="#444" stroke-width="0.45" />
<circle cx="3.60" cy="27.40" r="1.40" fill="#222" stroke="#111" stroke-width="0.4"/>
<circle cx="3.60" cy="27.40" r="0.50" fill="#ddd" stroke="none" stroke-width="0"/>
<rect x="9.40" y="25.60" width="2.80" height="3.20" fill="#eee" stroke="#222" stroke-width="0.5" rx="1"/>
<rect x="1.60" y="31.60" width="10.00" height="4.20" fill="#bbb" stroke="#1a1a1a" stroke-width="0.8" rx="1.4"/>
<rect x="2.80" y="32.60" width="7.60" height="2.20" fill="#eee" stroke="#333" stroke-width="0.4" rx="1"/>
<rect x="14.00" y="32.60" width="3.60" height="3.60" fill="#ddd" stroke="#222" stroke-width="0.5" />
<rect x="18.80" y="32.60" width="3.60" height="3.60" fill="#ddd" stroke="#222" stroke-width="0.5" />
<rect x="33.40" y="24.30" width="12.60" height="9.40" fill="#efefef" stroke="#222" stroke-width="0.65" />
<rect x="34.20" y="30.90" width="5.10" height="2.20" fill="#fff" stroke="#333" stroke-width="0.4" />
<rect x="40.10" y="30.90" width="5.10" height="2.20" fill="#fff" stroke="#333" stroke-width="0.4" />
<line x1="33.40" y1="30.10" x2="46.00" y2="30.10" stroke="#444" stroke-width="0.4" />
<rect x="30.70" y="33.80" width="17.30" height="2.60" fill="#9a9a9a" stroke="#222" stroke-width="0.7" />
<rect x="31.53" y="34.50" width="1.80" height="1.20" fill="#e0e0e0" stroke="#333" stroke-width="0.35" />
<rect x="34.99" y="34.50" width="1.80" height="1.20" fill="#e0e0e0" stroke="#333" stroke-width="0.35" />
<rect x="38.45" y="34.50" width="1.80" height="1.20" fill="#e0e0e0" stroke="#333" stroke-width="0.35" />
<rect x="41.91" y="34.50" width="1.80" height="1.20" fill="#e0e0e0" stroke="#333" stroke-width="0.35" />
<rect x="45.37" y="34.50" width="1.80" height="1.20" fill="#e0e0e0" stroke="#333" stroke-width="0.35" />
<path d="M51.40,26.00 A5,5 0 0 0 46.40,31.00 L51.40,31.00" fill="#f2f2f2" stroke="#444" stroke-width="0.45" />
<line x1="52.00" y1="0.00" x2="52.00" y2="37.70" stroke="#222" stroke-width="1.0" />
<rect x="50.90" y="3.00" width="1.60" height="13.00" fill="#e5e5e5" stroke="#333" stroke-width="0.45" />
<rect x="50.90" y="21.00" width="1.60" height="11.00" fill="#e5e5e5" stroke="#333" stroke-width="0.45" />
<line x1="0.00" y1="0.00" x2="0.00" y2="37.70" stroke="#222" stroke-width="1.1" />
<line x1="0.00" y1="0.00" x2="52.00" y2="0.00" stroke="#222" stroke-width="1.1" />
</g>
<g transform="translate(205.3,401)">
<rect x="42.20" y="1.60" width="8.40" height="14.40" fill="#e9e9e9" stroke="#555" stroke-width="0.5" />
<rect x="1.20" y="1.20" width="9.60" height="3.80" fill="#ddd" stroke="#222" stroke-width="0.6" />
<circle cx="3.60" cy="3.10" r="1.00" fill="#eee" stroke="#333" stroke-width="0.4"/>
<circle cx="8.00" cy="3.10" r="1.00" fill="#eee" stroke="#333" stroke-width="0.4"/>
<path d="M1.00,11.00 A5.6,5.6 0 0 0 6.60,5.40 L1.00,5.40" fill="#f2f2f2" stroke="#444" stroke-width="0.45" />
<rect x="17.40" y="1.60" width="4.60" height="7.60" fill="#f4f4f4" stroke="#222" stroke-width="0.6" />
<rect x="14.90" y="2.20" width="1.80" height="2.60" fill="#eee" stroke="#333" stroke-width="0.45" rx="0.7"/>
<rect x="22.70" y="2.20" width="1.80" height="2.60" fill="#eee" stroke="#333" stroke-width="0.45" rx="0.7"/>
<rect x="14.90" y="6.00" width="1.80" height="2.60" fill="#eee" stroke="#333" stroke-width="0.45" rx="0.7"/>
<rect x="22.70" y="6.00" width="1.80" height="2.60" fill="#eee" stroke="#333" stroke-width="0.45" rx="0.7"/>
<rect x="26.60" y="1.40" width="12.20" height="4.80" fill="#dcdcdc" stroke="#1a1a1a" stroke-width="0.8" />
<rect x="38.79" y="1.40" width="0.01" height="4.80" fill="#dcdcdc" stroke="#1a1a1a" stroke-width="0.8" />
<line x1="32.14" y1="2.40" x2="32.14" y2="6.20" stroke="#333" stroke-width="0.4" />
<line x1="37.68" y1="2.40" x2="37.68" y2="6.20" stroke="#333" stroke-width="0.4" />
<line x1="26.60" y1="2.60" x2="38.80" y2="2.60" stroke="#333" stroke-width="0.5" />
<rect x="30.00" y="7.80" width="5.40" height="3.20" fill="#f2f2f2" stroke="#333" stroke-width="0.5" rx="1.2"/>
<line x1="41.40" y1="1.00" x2="41.40" y2="14.80" stroke="#222" stroke-width="1.3" />
<path d="M41.20,11.40 A3.8,3.8 0 0 0 37.40,15.20 L41.20,15.20" fill="#f2f2f2" stroke="#444" stroke-width="0.45" />
<rect x="35.40" y="16.60" width="15.20" height="2.20" fill="#555" stroke="#1a1a1a" stroke-width="0.6" />
<line x1="36.00" y1="17.70" x2="50.00" y2="17.70" stroke="#ddd" stroke-width="0.5" />
<rect x="13.40" y="15.00" width="4.00" height="16.60" fill="#9a9a9a" stroke="#222" stroke-width="0.7" />
<rect x="14.20" y="15.76" width="2.40" height="1.80" fill="#e0e0e0" stroke="#333" stroke-width="0.35" />
<rect x="14.20" y="19.08" width="2.40" height="1.80" fill="#e0e0e0" stroke="#333" stroke-width="0.35" />
<rect x="14.20" y="22.40" width="2.40" height="1.80" fill="#e0e0e0" stroke="#333" stroke-width="0.35" />
<rect x="14.20" y="25.72" width="2.40" height="1.80" fill="#e0e0e0" stroke="#333" stroke-width="0.35" />
<rect x="14.20" y="29.04" width="2.40" height="1.80" fill="#e0e0e0" stroke="#333" stroke-width="0.35" />
<rect x="13.80" y="26.50" width="3.20" height="4.40" fill="#1a1a1a" stroke="none" stroke-width="0" />
<rect x="24.70" y="17.00" width="4.70" height="19.40" fill="#9a9a9a" stroke="#222" stroke-width="0.7" />
<rect x="25.50" y="17.72" width="3.10" height="1.80" fill="#e0e0e0" stroke="#333" stroke-width="0.35" />
<rect x="25.50" y="20.95" width="3.10" height="1.80" fill="#e0e0e0" stroke="#333" stroke-width="0.35" />
<rect x="25.50" y="24.18" width="3.10" height="1.80" fill="#e0e0e0" stroke="#333" stroke-width="0.35" />
<rect x="25.50" y="27.42" width="3.10" height="1.80" fill="#e0e0e0" stroke="#333" stroke-width="0.35" />
<rect x="25.50" y="30.65" width="3.10" height="1.80" fill="#e0e0e0" stroke="#333" stroke-width="0.35" />
<rect x="25.50" y="33.88" width="3.10" height="1.80" fill="#e0e0e0" stroke="#333" stroke-width="0.35" />
<rect x="24.70" y="17.00" width="4.70" height="2.20" fill="#1a1a1a" stroke="none" stroke-width="0" />
<line x1="0.50" y1="19.70" x2="12.70" y2="19.70" stroke="#222" stroke-width="0.8" />
<line x1="12.90" y1="19.70" x2="12.90" y2="36.50" stroke="#222" stroke-width="0.8" />
<path d="M7.00,24.40 A4.4,4.4 0 0 0 11.40,20.00 L7.00,20.00" fill="#f2f2f2" stroke="#444" stroke-width="0.45" />
<circle cx="3.60" cy="27.40" r="1.40" fill="#222" stroke="#111" stroke-width="0.4"/>
<circle cx="3.60" cy="27.40" r="0.50" fill="#ddd" stroke="none" stroke-width="0"/>
<rect x="9.40" y="25.60" width="2.80" height="3.20" fill="#eee" stroke="#222" stroke-width="0.5" rx="1"/>
<rect x="1.60" y="31.60" width="10.00" height="4.20" fill="#bbb" stroke="#1a1a1a" stroke-width="0.8" rx="1.4"/>
<rect x="2.80" y="32.60" width="7.60" height="2.20" fill="#eee" stroke="#333" stroke-width="0.4" rx="1"/>
<rect x="14.00" y="32.60" width="3.60" height="3.60" fill="#ddd" stroke="#222" stroke-width="0.5" />
<rect x="18.80" y="32.60" width="3.60" height="3.60" fill="#ddd" stroke="#222" stroke-width="0.5" />
<rect x="33.40" y="24.30" width="12.60" height="9.40" fill="#efefef" stroke="#222" stroke-width="0.65" />
<rect x="34.20" y="30.90" width="5.10" height="2.20" fill="#fff" stroke="#333" stroke-width="0.4" />
<rect x="40.10" y="30.90" width="5.10" height="2.20" fill="#fff" stroke="#333" stroke-width="0.4" />
<line x1="33.40" y1="30.10" x2="46.00" y2="30.10" stroke="#444" stroke-width="0.4" />
<rect x="30.70" y="33.80" width="17.30" height="2.60" fill="#9a9a9a" stroke="#222" stroke-width="0.7" />
<rect x="31.53" y="34.50" width="1.80" height="1.20" fill="#e0e0e0" stroke="#333" stroke-width="0.35" />
<rect x="34.99" y="34.50" width="1.80" height="1.20" fill="#e0e0e0" stroke="#333" stroke-width="0.35" />
<rect x="38.45" y="34.50" width="1.80" height="1.20" fill="#e0e0e0" stroke="#333" stroke-width="0.35" />
<rect x="41.91" y="34.50" width="1.80" height="1.20" fill="#e0e0e0" stroke="#333" stroke-width="0.35" />
<rect x="45.37" y="34.50" width="1.80" height="1.20" fill="#e0e0e0" stroke="#333" stroke-width="0.35" />
<path d="M51.40,26.00 A5,5 0 0 0 46.40,31.00 L51.40,31.00" fill="#f2f2f2" stroke="#444" stroke-width="0.45" />
<line x1="52.00" y1="0.00" x2="52.00" y2="37.70" stroke="#222" stroke-width="1.0" />
<rect x="50.90" y="3.00" width="1.60" height="13.00" fill="#e5e5e5" stroke="#333" stroke-width="0.45" />
<rect x="50.90" y="21.00" width="1.60" height="11.00" fill="#e5e5e5" stroke="#333" stroke-width="0.45" />
<line x1="0.00" y1="0.00" x2="0.00" y2="37.70" stroke="#222" stroke-width="1.1" />
<line x1="0.00" y1="0.00" x2="52.00" y2="0.00" stroke="#222" stroke-width="1.1" />
</g>
</g>
<line x1="143.40" y1="190.80" x2="258.30" y2="190.80" stroke="#1a1a1a" stroke-width="1.6" />
<line x1="348.70" y1="190.80" x2="463.60" y2="190.80" stroke="#1a1a1a" stroke-width="1.6" />
<line x1="143.40" y1="438.50" x2="258.40" y2="438.50" stroke="#858585" stroke-width="2.3" />
<line x1="348.60" y1="438.50" x2="463.60" y2="438.50" stroke="#858585" stroke-width="2.3" />
<path d="M139.5,190.3 q0.5,-4 4,-4.4" fill="none" stroke="#444" stroke-width="0.5" />
<path d="M198.4,191.3 v-4 q1.5,-2.5 3.6,0 v4" fill="#fff" stroke="#333" stroke-width="0.6" />
<path d="M407,191.3 v-4 q1.5,-2.5 3.6,0 v4" fill="#fff" stroke="#333" stroke-width="0.6" />
<!-- court -->
<line x1="275.30" y1="191.30" x2="275.30" y2="446.00" stroke="#333" stroke-width="0.8" />
<line x1="331.30" y1="191.30" x2="331.30" y2="446.00" stroke="#333" stroke-width="0.8" />
<line x1="258.00" y1="190.80" x2="349.00" y2="190.80" stroke="#808080" stroke-width="0.9" />
<rect x="258.40" y="192.30" width="16.90" height="17.70" fill="#fdfdfd" stroke="#666" stroke-width="0.6" />
<line x1="261.70" y1="192.80" x2="261.70" y2="209.50" stroke="#7a7a7a" stroke-width="0.6" />
<line x1="264.75" y1="192.80" x2="264.75" y2="209.50" stroke="#7a7a7a" stroke-width="0.6" />
<line x1="267.80" y1="192.80" x2="267.80" y2="209.50" stroke="#7a7a7a" stroke-width="0.6" />
<line x1="270.85" y1="192.80" x2="270.85" y2="209.50" stroke="#7a7a7a" stroke-width="0.6" />
<line x1="273.90" y1="192.80" x2="273.90" y2="209.50" stroke="#7a7a7a" stroke-width="0.6" />
<rect x="258.40" y="249.10" width="16.90" height="23.30" fill="#fdfdfd" stroke="#666" stroke-width="0.6" />
<line x1="261.70" y1="249.60" x2="261.70" y2="271.90" stroke="#7a7a7a" stroke-width="0.6" />
<line x1="264.75" y1="249.60" x2="264.75" y2="271.90" stroke="#7a7a7a" stroke-width="0.6" />
<line x1="267.80" y1="249.60" x2="267.80" y2="271.90" stroke="#7a7a7a" stroke-width="0.6" />
<line x1="270.85" y1="249.60" x2="270.85" y2="271.90" stroke="#7a7a7a" stroke-width="0.6" />
<line x1="273.90" y1="249.60" x2="273.90" y2="271.90" stroke="#7a7a7a" stroke-width="0.6" />
<rect x="258.40" y="306.30" width="16.90" height="21.70" fill="#fdfdfd" stroke="#666" stroke-width="0.6" />
<line x1="261.70" y1="306.80" x2="261.70" y2="327.50" stroke="#7a7a7a" stroke-width="0.6" />
<line x1="264.75" y1="306.80" x2="264.75" y2="327.50" stroke="#7a7a7a" stroke-width="0.6" />
<line x1="267.80" y1="306.80" x2="267.80" y2="327.50" stroke="#7a7a7a" stroke-width="0.6" />
<line x1="270.85" y1="306.80" x2="270.85" y2="327.50" stroke="#7a7a7a" stroke-width="0.6" />
<line x1="273.90" y1="306.80" x2="273.90" y2="327.50" stroke="#7a7a7a" stroke-width="0.6" />
<rect x="258.40" y="363.60" width="16.90" height="19.00" fill="#fdfdfd" stroke="#666" stroke-width="0.6" />
<line x1="261.70" y1="364.10" x2="261.70" y2="382.10" stroke="#7a7a7a" stroke-width="0.6" />
<line x1="264.75" y1="364.10" x2="264.75" y2="382.10" stroke="#7a7a7a" stroke-width="0.6" />
<line x1="267.80" y1="364.10" x2="267.80" y2="382.10" stroke="#7a7a7a" stroke-width="0.6" />
<line x1="270.85" y1="364.10" x2="270.85" y2="382.10" stroke="#7a7a7a" stroke-width="0.6" />
<line x1="273.90" y1="364.10" x2="273.90" y2="382.10" stroke="#7a7a7a" stroke-width="0.6" />
<rect x="258.40" y="401.00" width="16.90" height="19.00" fill="#fdfdfd" stroke="#666" stroke-width="0.6" />
<line x1="261.70" y1="401.50" x2="261.70" y2="419.50" stroke="#7a7a7a" stroke-width="0.6" />
<line x1="264.75" y1="401.50" x2="264.75" y2="419.50" stroke="#7a7a7a" stroke-width="0.6" />
<line x1="267.80" y1="401.50" x2="267.80" y2="419.50" stroke="#7a7a7a" stroke-width="0.6" />
<line x1="270.85" y1="401.50" x2="270.85" y2="419.50" stroke="#7a7a7a" stroke-width="0.6" />
<line x1="273.90" y1="401.50" x2="273.90" y2="419.50" stroke="#7a7a7a" stroke-width="0.6" />
<rect x="331.30" y="192.50" width="16.90" height="22.20" fill="#fdfdfd" stroke="#666" stroke-width="0.6" />
<line x1="344.90" y1="193.00" x2="344.90" y2="214.20" stroke="#7a7a7a" stroke-width="0.6" />
<line x1="341.85" y1="193.00" x2="341.85" y2="214.20" stroke="#7a7a7a" stroke-width="0.6" />
<line x1="338.80" y1="193.00" x2="338.80" y2="214.20" stroke="#7a7a7a" stroke-width="0.6" />
<line x1="335.75" y1="193.00" x2="335.75" y2="214.20" stroke="#7a7a7a" stroke-width="0.6" />
<line x1="332.70" y1="193.00" x2="332.70" y2="214.20" stroke="#7a7a7a" stroke-width="0.6" />
<rect x="331.30" y="249.50" width="16.90" height="23.00" fill="#fdfdfd" stroke="#666" stroke-width="0.6" />
<line x1="344.90" y1="250.00" x2="344.90" y2="272.00" stroke="#7a7a7a" stroke-width="0.6" />
<line x1="341.85" y1="250.00" x2="341.85" y2="272.00" stroke="#7a7a7a" stroke-width="0.6" />
<line x1="338.80" y1="250.00" x2="338.80" y2="272.00" stroke="#7a7a7a" stroke-width="0.6" />
<line x1="335.75" y1="250.00" x2="335.75" y2="272.00" stroke="#7a7a7a" stroke-width="0.6" />
<line x1="332.70" y1="250.00" x2="332.70" y2="272.00" stroke="#7a7a7a" stroke-width="0.6" />
<rect x="331.30" y="306.30" width="16.90" height="22.70" fill="#fdfdfd" stroke="#666" stroke-width="0.6" />
<line x1="344.90" y1="306.80" x2="344.90" y2="328.50" stroke="#7a7a7a" stroke-width="0.6" />
<line x1="341.85" y1="306.80" x2="341.85" y2="328.50" stroke="#7a7a7a" stroke-width="0.6" />
<line x1="338.80" y1="306.80" x2="338.80" y2="328.50" stroke="#7a7a7a" stroke-width="0.6" />
<line x1="335.75" y1="306.80" x2="335.75" y2="328.50" stroke="#7a7a7a" stroke-width="0.6" />
<line x1="332.70" y1="306.80" x2="332.70" y2="328.50" stroke="#7a7a7a" stroke-width="0.6" />
<rect x="331.30" y="363.60" width="16.90" height="20.40" fill="#fdfdfd" stroke="#666" stroke-width="0.6" />
<line x1="344.90" y1="364.10" x2="344.90" y2="383.50" stroke="#7a7a7a" stroke-width="0.6" />
<line x1="341.85" y1="364.10" x2="341.85" y2="383.50" stroke="#7a7a7a" stroke-width="0.6" />
<line x1="338.80" y1="364.10" x2="338.80" y2="383.50" stroke="#7a7a7a" stroke-width="0.6" />
<line x1="335.75" y1="364.10" x2="335.75" y2="383.50" stroke="#7a7a7a" stroke-width="0.6" />
<line x1="332.70" y1="364.10" x2="332.70" y2="383.50" stroke="#7a7a7a" stroke-width="0.6" />
<rect x="331.30" y="401.00" width="16.90" height="21.00" fill="#fdfdfd" stroke="#666" stroke-width="0.6" />
<line x1="344.90" y1="401.50" x2="344.90" y2="421.50" stroke="#7a7a7a" stroke-width="0.6" />
<line x1="341.85" y1="401.50" x2="341.85" y2="421.50" stroke="#7a7a7a" stroke-width="0.6" />
<line x1="338.80" y1="401.50" x2="338.80" y2="421.50" stroke="#7a7a7a" stroke-width="0.6" />
<line x1="335.75" y1="401.50" x2="335.75" y2="421.50" stroke="#7a7a7a" stroke-width="0.6" />
<line x1="332.70" y1="401.50" x2="332.70" y2="421.50" stroke="#7a7a7a" stroke-width="0.6" />
<line x1="258.00" y1="438.20" x2="275.30" y2="438.20" stroke="#808080" stroke-width="1.4" />
<line x1="331.30" y1="438.20" x2="349.00" y2="438.20" stroke="#808080" stroke-width="1.4" />
<path d="M275.8,194.7 L299.75,225 L275.8,231.4" fill="none" stroke="#2a2a2a" stroke-width="0.75" />
<path d="M281.7,191.75 L306.2,221.5" fill="none" stroke="#2a2a2a" stroke-width="0.75" />
<path d="M324.8,191.75 L306.2,221.5" fill="none" stroke="#2a2a2a" stroke-width="0.75" />
<path d="M330.7,194.7 L313.75,223.8 L331.25,235" fill="none" stroke="#2a2a2a" stroke-width="0.75" />
<path d="M277.5,191.5 l2.2,3.4 l2.6,-3" fill="#fff" stroke="#555" stroke-width="0.5" />
<path d="M325,191.5 l2.2,3.4 l2.6,-3" fill="#fff" stroke="#555" stroke-width="0.5" />
<path d="M275.5,271 L283.6,283.3 L296,287 L315.5,290 L323.5,286.5 L330.9,283.3" fill="none" stroke="#2a2a2a" stroke-width="0.75" />
<path d="M315.5,290 L286.9,395 L281.6,446" fill="none" stroke="#2a2a2a" stroke-width="0.75" />
<path d="M323.5,288.8 L290.6,409.2 L327.5,446.2" fill="none" stroke="#2a2a2a" stroke-width="0.75" />
<path d="M293.2,399.7 L331.3,437.8" fill="none" stroke="#2a2a2a" stroke-width="0.75" />
<g transform="translate(289.2,235.5) rotate(6.5)">
<path d="M0,0 L-2.6,6.5 L-2.9,27 L-4.2,33 L3.6,33 L2.9,27 L2.6,6.5 Z" fill="#e6e6e6" stroke="#1a1a1a" stroke-width="0.8" />
<path d="M0,-3.5 L0,1" fill="none" stroke="#222" stroke-width="0.6" />
<path d="M-2.4,5 L0,0 L2.4,5 Z" fill="#777" stroke="#222" stroke-width="0.5" />
<line x1="-2.80" y1="7.50" x2="2.80" y2="6.60" stroke="#333" stroke-width="0.7" />
<line x1="-2.80" y1="9.60" x2="2.80" y2="8.70" stroke="#333" stroke-width="0.7" />
<line x1="-2.80" y1="11.70" x2="2.80" y2="10.80" stroke="#333" stroke-width="0.7" />
<line x1="-2.80" y1="13.80" x2="2.80" y2="12.90" stroke="#333" stroke-width="0.7" />
<line x1="-2.80" y1="15.90" x2="2.80" y2="15.00" stroke="#333" stroke-width="0.7" />
<line x1="-2.80" y1="18.00" x2="2.80" y2="17.10" stroke="#333" stroke-width="0.7" />
<line x1="-2.80" y1="20.10" x2="2.80" y2="19.20" stroke="#333" stroke-width="0.7" />
<line x1="-2.80" y1="22.20" x2="2.80" y2="21.30" stroke="#333" stroke-width="0.7" />
<line x1="-2.80" y1="24.30" x2="2.80" y2="23.40" stroke="#333" stroke-width="0.7" />
<line x1="-2.80" y1="26.40" x2="2.80" y2="25.50" stroke="#333" stroke-width="0.7" />
<line x1="-5.50" y1="14.50" x2="5.50" y2="13.50" stroke="#333" stroke-width="0.7" />
<path d="M-2.9,26 L-8.5,35 L-3.5,32 Z" fill="#bbb" stroke="#222" stroke-width="0.6" />
<path d="M2.9,24 L9.5,24.5 L4,30 Z" fill="#ddd" stroke="#222" stroke-width="0.6" />
<path d="M-1,30 L2.8,36 L4,30 Z" fill="#bbb" stroke="#222" stroke-width="0.6" />
</g>
<g transform="translate(321.8,257.4)">
<path d="M-5.2,-8.5 L-2.2,-0.5" fill="none" stroke="#222" stroke-width="0.7" />
<path d="M-3,-1.5 q3,-3 6,-1 q2.2,2.2 -0.3,5 q-3.4,1.4 -5.7,-1 z" fill="#ddd" stroke="#1a1a1a" stroke-width="0.9" />
<path d="M-5.5,-0.8 l3,1.2 l-3.4,1.6 l3.4,0 l-2,2.6 M3,-2.6 q2,-1.6 3.6,0.6 M3.8,-0.6 q1.6,-0.6 2.6,1" fill="none" stroke="#1a1a1a" stroke-width="0.7" />
<g transform="rotate(12)">
<rect x="0.20" y="3.80" width="2.70" height="11.40" fill="#fff" stroke="#222" stroke-width="0.7" />
</g>
</g>
<!-- trees -->
<circle cx="121.00" cy="71.50" r="12.25" fill="none" stroke="#1a1a1a" stroke-width="1.1"/>
<circle cx="121.20" cy="71.40" r="11.03" fill="none" stroke="#3a3a3a" stroke-width="0.55"/>
<circle cx="121.00" cy="71.50" r="9.06" fill="none" stroke="#555" stroke-width="0.5"/>
<circle cx="121.00" cy="71.50" r="7.35" fill="none" stroke="#888" stroke-width="0.4"/>
<circle cx="121.00" cy="71.50" r="2.75" fill="none" stroke="#444" stroke-width="0.55"/>
<circle cx="121.00" cy="71.50" r="0.55" fill="#555" stroke="none" stroke-width="0"/>
<circle cx="140.40" cy="75.60" r="9.75" fill="none" stroke="#1a1a1a" stroke-width="1.1"/>
<circle cx="140.60" cy="75.50" r="8.78" fill="none" stroke="#3a3a3a" stroke-width="0.55"/>
<circle cx="140.40" cy="75.60" r="7.21" fill="none" stroke="#555" stroke-width="0.5"/>
<circle cx="140.40" cy="75.60" r="5.85" fill="none" stroke="#888" stroke-width="0.4"/>
<circle cx="140.40" cy="75.60" r="2.25" fill="none" stroke="#444" stroke-width="0.55"/>
<circle cx="140.40" cy="75.60" r="0.55" fill="#555" stroke="none" stroke-width="0"/>
<circle cx="167.75" cy="65.00" r="12.50" fill="none" stroke="#1a1a1a" stroke-width="1.1"/>
<circle cx="167.95" cy="64.90" r="11.25" fill="none" stroke="#3a3a3a" stroke-width="0.55"/>
<circle cx="167.75" cy="65.00" r="9.25" fill="none" stroke="#555" stroke-width="0.5"/>
<circle cx="167.75" cy="65.00" r="7.50" fill="none" stroke="#888" stroke-width="0.4"/>
<circle cx="167.75" cy="65.00" r="2.80" fill="none" stroke="#444" stroke-width="0.55"/>
<circle cx="167.75" cy="65.00" r="0.55" fill="#555" stroke="none" stroke-width="0"/>
<circle cx="202.25" cy="72.50" r="9.75" fill="none" stroke="#1a1a1a" stroke-width="1.1"/>
<circle cx="202.45" cy="72.40" r="8.78" fill="none" stroke="#3a3a3a" stroke-width="0.55"/>
<circle cx="202.25" cy="72.50" r="7.21" fill="none" stroke="#555" stroke-width="0.5"/>
<circle cx="202.25" cy="72.50" r="5.85" fill="none" stroke="#888" stroke-width="0.4"/>
<circle cx="202.25" cy="72.50" r="2.25" fill="none" stroke="#444" stroke-width="0.55"/>
<circle cx="202.25" cy="72.50" r="0.55" fill="#555" stroke="none" stroke-width="0"/>
<circle cx="220.00" cy="72.00" r="12.30" fill="none" stroke="#1a1a1a" stroke-width="1.1"/>
<circle cx="220.20" cy="71.90" r="11.07" fill="none" stroke="#3a3a3a" stroke-width="0.55"/>
<circle cx="220.00" cy="72.00" r="9.10" fill="none" stroke="#555" stroke-width="0.5"/>
<circle cx="220.00" cy="72.00" r="7.38" fill="none" stroke="#888" stroke-width="0.4"/>
<circle cx="220.00" cy="72.00" r="2.76" fill="none" stroke="#444" stroke-width="0.55"/>
<circle cx="220.00" cy="72.00" r="0.55" fill="#555" stroke="none" stroke-width="0"/>
<circle cx="252.50" cy="75.50" r="10.00" fill="none" stroke="#1a1a1a" stroke-width="1.1"/>
<circle cx="252.70" cy="75.40" r="9.00" fill="none" stroke="#3a3a3a" stroke-width="0.55"/>
<circle cx="252.50" cy="75.50" r="7.40" fill="none" stroke="#555" stroke-width="0.5"/>
<circle cx="252.50" cy="75.50" r="6.00" fill="none" stroke="#888" stroke-width="0.4"/>
<circle cx="252.50" cy="75.50" r="2.30" fill="none" stroke="#444" stroke-width="0.55"/>
<circle cx="252.50" cy="75.50" r="0.55" fill="#555" stroke="none" stroke-width="0"/>
<circle cx="273.75" cy="66.25" r="12.50" fill="none" stroke="#1a1a1a" stroke-width="1.1"/>
<circle cx="273.95" cy="66.15" r="11.25" fill="none" stroke="#3a3a3a" stroke-width="0.55"/>
<circle cx="273.75" cy="66.25" r="9.25" fill="none" stroke="#555" stroke-width="0.5"/>
<circle cx="273.75" cy="66.25" r="7.50" fill="none" stroke="#888" stroke-width="0.4"/>
<circle cx="273.75" cy="66.25" r="2.80" fill="none" stroke="#444" stroke-width="0.55"/>
<circle cx="273.75" cy="66.25" r="0.55" fill="#555" stroke="none" stroke-width="0"/>
<circle cx="321.75" cy="75.50" r="9.50" fill="none" stroke="#1a1a1a" stroke-width="1.1"/>
<circle cx="321.95" cy="75.40" r="8.55" fill="none" stroke="#3a3a3a" stroke-width="0.55"/>
<circle cx="321.75" cy="75.50" r="7.03" fill="none" stroke="#555" stroke-width="0.5"/>
<circle cx="321.75" cy="75.50" r="5.70" fill="none" stroke="#888" stroke-width="0.4"/>
<circle cx="321.75" cy="75.50" r="2.20" fill="none" stroke="#444" stroke-width="0.55"/>
<circle cx="321.75" cy="75.50" r="0.55" fill="#555" stroke="none" stroke-width="0"/>
<circle cx="342.50" cy="75.00" r="12.50" fill="none" stroke="#1a1a1a" stroke-width="1.1"/>
<circle cx="342.70" cy="74.90" r="11.25" fill="none" stroke="#3a3a3a" stroke-width="0.55"/>
<circle cx="342.50" cy="75.00" r="9.25" fill="none" stroke="#555" stroke-width="0.5"/>
<circle cx="342.50" cy="75.00" r="7.50" fill="none" stroke="#888" stroke-width="0.4"/>
<circle cx="342.50" cy="75.00" r="2.80" fill="none" stroke="#444" stroke-width="0.55"/>
<circle cx="342.50" cy="75.00" r="0.55" fill="#555" stroke="none" stroke-width="0"/>
<circle cx="383.00" cy="71.25" r="12.50" fill="none" stroke="#1a1a1a" stroke-width="1.1"/>
<circle cx="383.20" cy="71.15" r="11.25" fill="none" stroke="#3a3a3a" stroke-width="0.55"/>
<circle cx="383.00" cy="71.25" r="9.25" fill="none" stroke="#555" stroke-width="0.5"/>
<circle cx="383.00" cy="71.25" r="7.50" fill="none" stroke="#888" stroke-width="0.4"/>
<circle cx="383.00" cy="71.25" r="2.80" fill="none" stroke="#444" stroke-width="0.55"/>
<circle cx="383.00" cy="71.25" r="0.55" fill="#555" stroke="none" stroke-width="0"/>
<circle cx="407.50" cy="79.50" r="10.00" fill="none" stroke="#1a1a1a" stroke-width="1.1"/>
<circle cx="407.70" cy="79.40" r="9.00" fill="none" stroke="#3a3a3a" stroke-width="0.55"/>
<circle cx="407.50" cy="79.50" r="7.40" fill="none" stroke="#555" stroke-width="0.5"/>
<circle cx="407.50" cy="79.50" r="6.00" fill="none" stroke="#888" stroke-width="0.4"/>
<circle cx="407.50" cy="79.50" r="2.30" fill="none" stroke="#444" stroke-width="0.55"/>
<circle cx="407.50" cy="79.50" r="0.55" fill="#555" stroke="none" stroke-width="0"/>
<circle cx="450.00" cy="76.25" r="12.00" fill="none" stroke="#1a1a1a" stroke-width="1.1"/>
<circle cx="450.20" cy="76.15" r="10.80" fill="none" stroke="#3a3a3a" stroke-width="0.55"/>
<circle cx="450.00" cy="76.25" r="8.88" fill="none" stroke="#555" stroke-width="0.5"/>
<circle cx="450.00" cy="76.25" r="7.20" fill="none" stroke="#888" stroke-width="0.4"/>
<circle cx="450.00" cy="76.25" r="2.70" fill="none" stroke="#444" stroke-width="0.55"/>
<circle cx="450.00" cy="76.25" r="0.55" fill="#555" stroke="none" stroke-width="0"/>
<circle cx="482.50" cy="77.00" r="12.50" fill="none" stroke="#1a1a1a" stroke-width="1.1"/>
<circle cx="482.70" cy="76.90" r="11.25" fill="none" stroke="#3a3a3a" stroke-width="0.55"/>
<circle cx="482.50" cy="77.00" r="9.25" fill="none" stroke="#555" stroke-width="0.5"/>
<circle cx="482.50" cy="77.00" r="7.50" fill="none" stroke="#888" stroke-width="0.4"/>
<circle cx="482.50" cy="77.00" r="2.80" fill="none" stroke="#444" stroke-width="0.55"/>
<circle cx="482.50" cy="77.00" r="0.55" fill="#555" stroke="none" stroke-width="0"/>
<circle cx="138.75" cy="93.75" r="5.40" fill="#fdfdfd" stroke="#1a1a1a" stroke-width="1.0"/>
<circle cx="138.75" cy="93.75" r="4.64" fill="none" stroke="#777" stroke-width="0.4"/>
<circle cx="138.75" cy="93.75" r="3.35" fill="#ededed" stroke="#444" stroke-width="0.6"/>
<circle cx="138.75" cy="93.75" r="1.40" fill="#ddd" stroke="#555" stroke-width="0.5"/>
<circle cx="146.00" cy="95.40" r="3.40" fill="#f2f2f2" stroke="#1a1a1a" stroke-width="1.25"/>
<circle cx="146.00" cy="95.40" r="1.53" fill="#ddd" stroke="#444" stroke-width="0.6"/>
<circle cx="167.75" cy="94.25" r="6.50" fill="#fdfdfd" stroke="#1a1a1a" stroke-width="1.0"/>
<circle cx="167.75" cy="94.25" r="5.59" fill="none" stroke="#777" stroke-width="0.4"/>
<circle cx="167.75" cy="94.25" r="4.03" fill="#ededed" stroke="#444" stroke-width="0.6"/>
<circle cx="167.75" cy="94.25" r="1.69" fill="#ddd" stroke="#555" stroke-width="0.5"/>
<circle cx="182.25" cy="95.75" r="3.40" fill="#f2f2f2" stroke="#1a1a1a" stroke-width="1.25"/>
<circle cx="182.25" cy="95.75" r="1.53" fill="#ddd" stroke="#444" stroke-width="0.6"/>
<circle cx="202.25" cy="95.50" r="3.40" fill="#f2f2f2" stroke="#1a1a1a" stroke-width="1.25"/>
<circle cx="202.25" cy="95.50" r="1.53" fill="#ddd" stroke="#444" stroke-width="0.6"/>
<circle cx="210.75" cy="93.75" r="6.00" fill="#fdfdfd" stroke="#1a1a1a" stroke-width="1.0"/>
<circle cx="210.75" cy="93.75" r="5.16" fill="none" stroke="#777" stroke-width="0.4"/>
<circle cx="210.75" cy="93.75" r="3.72" fill="#ededed" stroke="#444" stroke-width="0.6"/>
<circle cx="210.75" cy="93.75" r="1.56" fill="#ddd" stroke="#555" stroke-width="0.5"/>
<circle cx="221.00" cy="95.50" r="3.40" fill="#f2f2f2" stroke="#1a1a1a" stroke-width="1.25"/>
<circle cx="221.00" cy="95.50" r="1.53" fill="#ddd" stroke="#444" stroke-width="0.6"/>
<circle cx="246.50" cy="91.50" r="3.40" fill="#f2f2f2" stroke="#1a1a1a" stroke-width="1.25"/>
<circle cx="246.50" cy="91.50" r="1.53" fill="#ddd" stroke="#444" stroke-width="0.6"/>
<circle cx="250.00" cy="96.75" r="3.40" fill="#f2f2f2" stroke="#1a1a1a" stroke-width="1.25"/>
<circle cx="250.00" cy="96.75" r="1.53" fill="#ddd" stroke="#444" stroke-width="0.6"/>
<circle cx="263.25" cy="94.25" r="3.40" fill="#f2f2f2" stroke="#1a1a1a" stroke-width="1.25"/>
<circle cx="263.25" cy="94.25" r="1.53" fill="#ddd" stroke="#444" stroke-width="0.6"/>
<circle cx="290.75" cy="96.50" r="6.50" fill="#fdfdfd" stroke="#1a1a1a" stroke-width="1.0"/>
<circle cx="290.75" cy="96.50" r="5.59" fill="none" stroke="#777" stroke-width="0.4"/>
<circle cx="290.75" cy="96.50" r="4.03" fill="#ededed" stroke="#444" stroke-width="0.6"/>
<circle cx="290.75" cy="96.50" r="1.69" fill="#ddd" stroke="#555" stroke-width="0.5"/>
<circle cx="305.50" cy="94.75" r="3.40" fill="#f2f2f2" stroke="#1a1a1a" stroke-width="1.25"/>
<circle cx="305.50" cy="94.75" r="1.53" fill="#ddd" stroke="#444" stroke-width="0.6"/>
<circle cx="313.75" cy="95.50" r="6.00" fill="#fdfdfd" stroke="#1a1a1a" stroke-width="1.0"/>
<circle cx="313.75" cy="95.50" r="5.16" fill="none" stroke="#777" stroke-width="0.4"/>
<circle cx="313.75" cy="95.50" r="3.72" fill="#ededed" stroke="#444" stroke-width="0.6"/>
<circle cx="313.75" cy="95.50" r="1.56" fill="#ddd" stroke="#555" stroke-width="0.5"/>
<circle cx="335.75" cy="96.00" r="3.40" fill="#f2f2f2" stroke="#1a1a1a" stroke-width="1.25"/>
<circle cx="335.75" cy="96.00" r="1.53" fill="#ddd" stroke="#444" stroke-width="0.6"/>
<circle cx="355.75" cy="95.25" r="6.50" fill="#fdfdfd" stroke="#1a1a1a" stroke-width="1.0"/>
<circle cx="355.75" cy="95.25" r="5.59" fill="none" stroke="#777" stroke-width="0.4"/>
<circle cx="355.75" cy="95.25" r="4.03" fill="#ededed" stroke="#444" stroke-width="0.6"/>
<circle cx="355.75" cy="95.25" r="1.69" fill="#ddd" stroke="#555" stroke-width="0.5"/>
<circle cx="377.00" cy="95.50" r="3.40" fill="#f2f2f2" stroke="#1a1a1a" stroke-width="1.25"/>
<circle cx="377.00" cy="95.50" r="1.53" fill="#ddd" stroke="#444" stroke-width="0.6"/>
<circle cx="390.00" cy="93.75" r="3.40" fill="#f2f2f2" stroke="#1a1a1a" stroke-width="1.25"/>
<circle cx="390.00" cy="93.75" r="1.53" fill="#ddd" stroke="#444" stroke-width="0.6"/>
<circle cx="396.25" cy="95.00" r="3.40" fill="#f2f2f2" stroke="#1a1a1a" stroke-width="1.25"/>
<circle cx="396.25" cy="95.00" r="1.53" fill="#ddd" stroke="#444" stroke-width="0.6"/>
<circle cx="419.00" cy="94.75" r="6.30" fill="#fdfdfd" stroke="#1a1a1a" stroke-width="1.0"/>
<circle cx="419.00" cy="94.75" r="5.42" fill="none" stroke="#777" stroke-width="0.4"/>
<circle cx="419.00" cy="94.75" r="3.91" fill="#ededed" stroke="#444" stroke-width="0.6"/>
<circle cx="419.00" cy="94.75" r="1.64" fill="#ddd" stroke="#555" stroke-width="0.5"/>
<circle cx="427.00" cy="96.40" r="3.40" fill="#f2f2f2" stroke="#1a1a1a" stroke-width="1.25"/>
<circle cx="427.00" cy="96.40" r="1.53" fill="#ddd" stroke="#444" stroke-width="0.6"/>
<circle cx="454.75" cy="97.75" r="3.40" fill="#f2f2f2" stroke="#1a1a1a" stroke-width="1.25"/>
<circle cx="454.75" cy="97.75" r="1.53" fill="#ddd" stroke="#444" stroke-width="0.6"/>
<circle cx="462.25" cy="97.50" r="3.40" fill="#f2f2f2" stroke="#1a1a1a" stroke-width="1.25"/>
<circle cx="462.25" cy="97.50" r="1.53" fill="#ddd" stroke="#444" stroke-width="0.6"/>
<circle cx="473.10" cy="106.50" r="6.00" fill="#fdfdfd" stroke="#1a1a1a" stroke-width="1.0"/>
<circle cx="473.10" cy="106.50" r="5.16" fill="none" stroke="#777" stroke-width="0.4"/>
<circle cx="473.10" cy="106.50" r="3.72" fill="#ededed" stroke="#444" stroke-width="0.6"/>
<circle cx="473.10" cy="106.50" r="1.56" fill="#ddd" stroke="#555" stroke-width="0.5"/>
<circle cx="485.75" cy="108.75" r="3.40" fill="#f2f2f2" stroke="#1a1a1a" stroke-width="1.25"/>
<circle cx="485.75" cy="108.75" r="1.53" fill="#ddd" stroke="#444" stroke-width="0.6"/>
<circle cx="483.75" cy="118.25" r="3.40" fill="#f2f2f2" stroke="#1a1a1a" stroke-width="1.25"/>
<circle cx="483.75" cy="118.25" r="1.53" fill="#ddd" stroke="#444" stroke-width="0.6"/>
<circle cx="490.80" cy="122.80" r="6.00" fill="#fdfdfd" stroke="#1a1a1a" stroke-width="1.0"/>
<circle cx="490.80" cy="122.80" r="5.16" fill="none" stroke="#777" stroke-width="0.4"/>
<circle cx="490.80" cy="122.80" r="3.72" fill="#ededed" stroke="#444" stroke-width="0.6"/>
<circle cx="490.80" cy="122.80" r="1.56" fill="#ddd" stroke="#555" stroke-width="0.5"/>
<circle cx="498.50" cy="136.00" r="3.40" fill="#f2f2f2" stroke="#1a1a1a" stroke-width="1.25"/>
<circle cx="498.50" cy="136.00" r="1.53" fill="#ddd" stroke="#444" stroke-width="0.6"/>
<circle cx="494.40" cy="146.75" r="6.50" fill="#fdfdfd" stroke="#1a1a1a" stroke-width="1.0"/>
<circle cx="494.40" cy="146.75" r="5.59" fill="none" stroke="#777" stroke-width="0.4"/>
<circle cx="494.40" cy="146.75" r="4.03" fill="#ededed" stroke="#444" stroke-width="0.6"/>
<circle cx="494.40" cy="146.75" r="1.69" fill="#ddd" stroke="#555" stroke-width="0.5"/>
<circle cx="494.60" cy="162.50" r="3.40" fill="#f2f2f2" stroke="#1a1a1a" stroke-width="1.25"/>
<circle cx="494.60" cy="162.50" r="1.53" fill="#ddd" stroke="#444" stroke-width="0.6"/>
<circle cx="487.00" cy="172.00" r="3.40" fill="#f2f2f2" stroke="#1a1a1a" stroke-width="1.25"/>
<circle cx="487.00" cy="172.00" r="1.53" fill="#ddd" stroke="#444" stroke-width="0.6"/>
<circle cx="484.50" cy="176.75" r="3.40" fill="#f2f2f2" stroke="#1a1a1a" stroke-width="1.25"/>
<circle cx="484.50" cy="176.75" r="1.53" fill="#ddd" stroke="#444" stroke-width="0.6"/>
<circle cx="497.00" cy="178.25" r="6.50" fill="#fdfdfd" stroke="#1a1a1a" stroke-width="1.0"/>
<circle cx="497.00" cy="178.25" r="5.59" fill="none" stroke="#777" stroke-width="0.4"/>
<circle cx="497.00" cy="178.25" r="4.03" fill="#ededed" stroke="#444" stroke-width="0.6"/>
<circle cx="497.00" cy="178.25" r="1.69" fill="#ddd" stroke="#555" stroke-width="0.5"/>
<circle cx="486.25" cy="185.25" r="3.40" fill="#f2f2f2" stroke="#1a1a1a" stroke-width="1.25"/>
<circle cx="486.25" cy="185.25" r="1.53" fill="#ddd" stroke="#444" stroke-width="0.6"/>
<circle cx="118.10" cy="116.00" r="6.00" fill="#fdfdfd" stroke="#1a1a1a" stroke-width="1.0"/>
<circle cx="118.10" cy="116.00" r="5.16" fill="none" stroke="#777" stroke-width="0.4"/>
<circle cx="118.10" cy="116.00" r="3.72" fill="#ededed" stroke="#444" stroke-width="0.6"/>
<circle cx="118.10" cy="116.00" r="1.56" fill="#ddd" stroke="#555" stroke-width="0.5"/>
<circle cx="117.00" cy="122.25" r="3.40" fill="#f2f2f2" stroke="#1a1a1a" stroke-width="1.25"/>
<circle cx="117.00" cy="122.25" r="1.53" fill="#ddd" stroke="#444" stroke-width="0.6"/>
<circle cx="122.00" cy="133.75" r="3.40" fill="#f2f2f2" stroke="#1a1a1a" stroke-width="1.25"/>
<circle cx="122.00" cy="133.75" r="1.53" fill="#ddd" stroke="#444" stroke-width="0.6"/>
<circle cx="114.50" cy="141.50" r="3.40" fill="#f2f2f2" stroke="#1a1a1a" stroke-width="1.25"/>
<circle cx="114.50" cy="141.50" r="1.53" fill="#ddd" stroke="#444" stroke-width="0.6"/>
<circle cx="300.90" cy="210.40" r="9.90" fill="none" stroke="#1a1a1a" stroke-width="1.1"/>
<circle cx="301.10" cy="210.30" r="8.91" fill="none" stroke="#3a3a3a" stroke-width="0.55"/>
<circle cx="300.90" cy="210.40" r="7.33" fill="none" stroke="#555" stroke-width="0.5"/>
<circle cx="300.90" cy="210.40" r="5.94" fill="none" stroke="#888" stroke-width="0.4"/>
<circle cx="300.90" cy="210.40" r="2.28" fill="none" stroke="#444" stroke-width="0.55"/>
<circle cx="300.90" cy="210.40" r="0.55" fill="#555" stroke="none" stroke-width="0"/>
<circle cx="280.50" cy="224.80" r="11.70" fill="none" stroke="#1a1a1a" stroke-width="1.1"/>
<circle cx="280.70" cy="224.70" r="10.53" fill="none" stroke="#3a3a3a" stroke-width="0.55"/>
<circle cx="280.50" cy="224.80" r="8.66" fill="none" stroke="#555" stroke-width="0.5"/>
<circle cx="280.50" cy="224.80" r="7.02" fill="none" stroke="#888" stroke-width="0.4"/>
<circle cx="280.50" cy="224.80" r="2.64" fill="none" stroke="#444" stroke-width="0.55"/>
<circle cx="280.50" cy="224.80" r="0.55" fill="#555" stroke="none" stroke-width="0"/>
<circle cx="314.90" cy="223.30" r="12.20" fill="none" stroke="#1a1a1a" stroke-width="1.1"/>
<circle cx="315.10" cy="223.20" r="10.98" fill="none" stroke="#3a3a3a" stroke-width="0.55"/>
<circle cx="314.90" cy="223.30" r="9.03" fill="none" stroke="#555" stroke-width="0.5"/>
<circle cx="314.90" cy="223.30" r="7.32" fill="none" stroke="#888" stroke-width="0.4"/>
<circle cx="314.90" cy="223.30" r="2.74" fill="none" stroke="#444" stroke-width="0.55"/>
<circle cx="314.90" cy="223.30" r="0.55" fill="#555" stroke="none" stroke-width="0"/>
<circle cx="284.90" cy="290.60" r="12.00" fill="none" stroke="#1a1a1a" stroke-width="1.1"/>
<circle cx="285.10" cy="290.50" r="10.80" fill="none" stroke="#3a3a3a" stroke-width="0.55"/>
<circle cx="284.90" cy="290.60" r="8.88" fill="none" stroke="#555" stroke-width="0.5"/>
<circle cx="284.90" cy="290.60" r="7.20" fill="none" stroke="#888" stroke-width="0.4"/>
<circle cx="284.90" cy="290.60" r="2.70" fill="none" stroke="#444" stroke-width="0.55"/>
<circle cx="284.90" cy="290.60" r="0.55" fill="#555" stroke="none" stroke-width="0"/>
<circle cx="294.10" cy="303.50" r="10.00" fill="none" stroke="#1a1a1a" stroke-width="1.1"/>
<circle cx="294.30" cy="303.40" r="9.00" fill="none" stroke="#3a3a3a" stroke-width="0.55"/>
<circle cx="294.10" cy="303.50" r="7.40" fill="none" stroke="#555" stroke-width="0.5"/>
<circle cx="294.10" cy="303.50" r="6.00" fill="none" stroke="#888" stroke-width="0.4"/>
<circle cx="294.10" cy="303.50" r="2.30" fill="none" stroke="#444" stroke-width="0.55"/>
<circle cx="294.10" cy="303.50" r="0.55" fill="#555" stroke="none" stroke-width="0"/>
<circle cx="322.00" cy="298.90" r="10.00" fill="none" stroke="#1a1a1a" stroke-width="1.1"/>
<circle cx="322.20" cy="298.80" r="9.00" fill="none" stroke="#3a3a3a" stroke-width="0.55"/>
<circle cx="322.00" cy="298.90" r="7.40" fill="none" stroke="#555" stroke-width="0.5"/>
<circle cx="322.00" cy="298.90" r="6.00" fill="none" stroke="#888" stroke-width="0.4"/>
<circle cx="322.00" cy="298.90" r="2.30" fill="none" stroke="#444" stroke-width="0.55"/>
<circle cx="322.00" cy="298.90" r="0.55" fill="#555" stroke="none" stroke-width="0"/>
<circle cx="290.00" cy="340.30" r="17.50" fill="none" stroke="#1a1a1a" stroke-width="1.1"/>
<circle cx="290.30" cy="340.10" r="16.10" fill="none" stroke="#2a2a2a" stroke-width="0.6"/>
<circle cx="290.00" cy="340.30" r="13.47" fill="none" stroke="#3a3a3a" stroke-width="0.55"/>
<circle cx="290.00" cy="340.30" r="10.85" fill="none" stroke="#444" stroke-width="0.5"/>
<circle cx="290.00" cy="340.30" r="3.80" fill="none" stroke="#444" stroke-width="0.55"/>
<circle cx="290.00" cy="340.30" r="0.55" fill="#555" stroke="none" stroke-width="0"/>
<circle cx="301.25" cy="387.00" r="21.00" fill="none" stroke="#1a1a1a" stroke-width="1.1"/>
<circle cx="301.55" cy="386.80" r="19.32" fill="none" stroke="#2a2a2a" stroke-width="0.6"/>
<circle cx="301.25" cy="387.00" r="16.17" fill="none" stroke="#3a3a3a" stroke-width="0.55"/>
<circle cx="301.25" cy="387.00" r="13.02" fill="none" stroke="#444" stroke-width="0.5"/>
<circle cx="301.25" cy="387.00" r="4.50" fill="none" stroke="#444" stroke-width="0.55"/>
<circle cx="301.25" cy="387.00" r="0.55" fill="#555" stroke="none" stroke-width="0"/>
<circle cx="312.50" cy="417.50" r="10.00" fill="none" stroke="#1a1a1a" stroke-width="1.1"/>
<circle cx="312.70" cy="417.40" r="9.00" fill="none" stroke="#3a3a3a" stroke-width="0.55"/>
<circle cx="312.50" cy="417.50" r="7.40" fill="none" stroke="#555" stroke-width="0.5"/>
<circle cx="312.50" cy="417.50" r="6.00" fill="none" stroke="#888" stroke-width="0.4"/>
<circle cx="312.50" cy="417.50" r="2.30" fill="none" stroke="#444" stroke-width="0.55"/>
<circle cx="312.50" cy="417.50" r="0.55" fill="#555" stroke="none" stroke-width="0"/>
<circle cx="287.00" cy="430.50" r="12.50" fill="none" stroke="#1a1a1a" stroke-width="1.1"/>
<circle cx="287.20" cy="430.40" r="11.25" fill="none" stroke="#3a3a3a" stroke-width="0.55"/>
<circle cx="287.00" cy="430.50" r="9.25" fill="none" stroke="#555" stroke-width="0.5"/>
<circle cx="287.00" cy="430.50" r="7.50" fill="none" stroke="#888" stroke-width="0.4"/>
<circle cx="287.00" cy="430.50" r="2.80" fill="none" stroke="#444" stroke-width="0.55"/>
<circle cx="287.00" cy="430.50" r="0.55" fill="#555" stroke="none" stroke-width="0"/>
<circle cx="118.25" cy="444.50" r="12.50" fill="none" stroke="#1a1a1a" stroke-width="1.1"/>
<circle cx="118.45" cy="444.40" r="11.25" fill="none" stroke="#3a3a3a" stroke-width="0.55"/>
<circle cx="118.25" cy="444.50" r="9.25" fill="none" stroke="#555" stroke-width="0.5"/>
<circle cx="118.25" cy="444.50" r="7.50" fill="none" stroke="#888" stroke-width="0.4"/>
<circle cx="118.25" cy="444.50" r="2.80" fill="none" stroke="#444" stroke-width="0.55"/>
<circle cx="118.25" cy="444.50" r="0.55" fill="#555" stroke="none" stroke-width="0"/>
<circle cx="149.50" cy="456.70" r="12.50" fill="none" stroke="#1a1a1a" stroke-width="1.1"/>
<circle cx="149.70" cy="456.60" r="11.25" fill="none" stroke="#3a3a3a" stroke-width="0.55"/>
<circle cx="149.50" cy="456.70" r="9.25" fill="none" stroke="#555" stroke-width="0.5"/>
<circle cx="149.50" cy="456.70" r="7.50" fill="none" stroke="#888" stroke-width="0.4"/>
<circle cx="149.50" cy="456.70" r="2.80" fill="none" stroke="#444" stroke-width="0.55"/>
<circle cx="149.50" cy="456.70" r="0.55" fill="#555" stroke="none" stroke-width="0"/>
<circle cx="164.50" cy="455.50" r="10.00" fill="none" stroke="#1a1a1a" stroke-width="1.1"/>
<circle cx="164.70" cy="455.40" r="9.00" fill="none" stroke="#3a3a3a" stroke-width="0.55"/>
<circle cx="164.50" cy="455.50" r="7.40" fill="none" stroke="#555" stroke-width="0.5"/>
<circle cx="164.50" cy="455.50" r="6.00" fill="none" stroke="#888" stroke-width="0.4"/>
<circle cx="164.50" cy="455.50" r="2.30" fill="none" stroke="#444" stroke-width="0.55"/>
<circle cx="164.50" cy="455.50" r="0.55" fill="#555" stroke="none" stroke-width="0"/>
<circle cx="190.75" cy="453.25" r="10.00" fill="none" stroke="#1a1a1a" stroke-width="1.1"/>
<circle cx="190.95" cy="453.15" r="9.00" fill="none" stroke="#3a3a3a" stroke-width="0.55"/>
<circle cx="190.75" cy="453.25" r="7.40" fill="none" stroke="#555" stroke-width="0.5"/>
<circle cx="190.75" cy="453.25" r="6.00" fill="none" stroke="#888" stroke-width="0.4"/>
<circle cx="190.75" cy="453.25" r="2.30" fill="none" stroke="#444" stroke-width="0.55"/>
<circle cx="190.75" cy="453.25" r="0.55" fill="#555" stroke="none" stroke-width="0"/>
<circle cx="219.25" cy="456.25" r="12.50" fill="none" stroke="#1a1a1a" stroke-width="1.1"/>
<circle cx="219.45" cy="456.15" r="11.25" fill="none" stroke="#3a3a3a" stroke-width="0.55"/>
<circle cx="219.25" cy="456.25" r="9.25" fill="none" stroke="#555" stroke-width="0.5"/>
<circle cx="219.25" cy="456.25" r="7.50" fill="none" stroke="#888" stroke-width="0.4"/>
<circle cx="219.25" cy="456.25" r="2.80" fill="none" stroke="#444" stroke-width="0.55"/>
<circle cx="219.25" cy="456.25" r="0.55" fill="#555" stroke="none" stroke-width="0"/>
<circle cx="248.75" cy="456.25" r="12.50" fill="none" stroke="#1a1a1a" stroke-width="1.1"/>
<circle cx="248.95" cy="456.15" r="11.25" fill="none" stroke="#3a3a3a" stroke-width="0.55"/>
<circle cx="248.75" cy="456.25" r="9.25" fill="none" stroke="#555" stroke-width="0.5"/>
<circle cx="248.75" cy="456.25" r="7.50" fill="none" stroke="#888" stroke-width="0.4"/>
<circle cx="248.75" cy="456.25" r="2.80" fill="none" stroke="#444" stroke-width="0.55"/>
<circle cx="248.75" cy="456.25" r="0.55" fill="#555" stroke="none" stroke-width="0"/>
<circle cx="261.25" cy="458.25" r="10.00" fill="none" stroke="#1a1a1a" stroke-width="1.1"/>
<circle cx="261.45" cy="458.15" r="9.00" fill="none" stroke="#3a3a3a" stroke-width="0.55"/>
<circle cx="261.25" cy="458.25" r="7.40" fill="none" stroke="#555" stroke-width="0.5"/>
<circle cx="261.25" cy="458.25" r="6.00" fill="none" stroke="#888" stroke-width="0.4"/>
<circle cx="261.25" cy="458.25" r="2.30" fill="none" stroke="#444" stroke-width="0.55"/>
<circle cx="261.25" cy="458.25" r="0.55" fill="#555" stroke="none" stroke-width="0"/>
<circle cx="285.00" cy="456.25" r="9.50" fill="none" stroke="#1a1a1a" stroke-width="1.1"/>
<circle cx="285.20" cy="456.15" r="8.55" fill="none" stroke="#3a3a3a" stroke-width="0.55"/>
<circle cx="285.00" cy="456.25" r="7.03" fill="none" stroke="#555" stroke-width="0.5"/>
<circle cx="285.00" cy="456.25" r="5.70" fill="none" stroke="#888" stroke-width="0.4"/>
<circle cx="285.00" cy="456.25" r="2.20" fill="none" stroke="#444" stroke-width="0.55"/>
<circle cx="285.00" cy="456.25" r="0.55" fill="#555" stroke="none" stroke-width="0"/>
<circle cx="303.25" cy="452.00" r="12.00" fill="none" stroke="#1a1a1a" stroke-width="1.1"/>
<circle cx="303.45" cy="451.90" r="10.80" fill="none" stroke="#3a3a3a" stroke-width="0.55"/>
<circle cx="303.25" cy="452.00" r="8.88" fill="none" stroke="#555" stroke-width="0.5"/>
<circle cx="303.25" cy="452.00" r="7.20" fill="none" stroke="#888" stroke-width="0.4"/>
<circle cx="303.25" cy="452.00" r="2.70" fill="none" stroke="#444" stroke-width="0.55"/>
<circle cx="303.25" cy="452.00" r="0.55" fill="#555" stroke="none" stroke-width="0"/>
<circle cx="329.25" cy="457.50" r="12.00" fill="none" stroke="#1a1a1a" stroke-width="1.1"/>
<circle cx="329.45" cy="457.40" r="10.80" fill="none" stroke="#3a3a3a" stroke-width="0.55"/>
<circle cx="329.25" cy="457.50" r="8.88" fill="none" stroke="#555" stroke-width="0.5"/>
<circle cx="329.25" cy="457.50" r="7.20" fill="none" stroke="#888" stroke-width="0.4"/>
<circle cx="329.25" cy="457.50" r="2.70" fill="none" stroke="#444" stroke-width="0.55"/>
<circle cx="329.25" cy="457.50" r="0.55" fill="#555" stroke="none" stroke-width="0"/>
<circle cx="362.00" cy="452.50" r="12.00" fill="none" stroke="#1a1a1a" stroke-width="1.1"/>
<circle cx="362.20" cy="452.40" r="10.80" fill="none" stroke="#3a3a3a" stroke-width="0.55"/>
<circle cx="362.00" cy="452.50" r="8.88" fill="none" stroke="#555" stroke-width="0.5"/>
<circle cx="362.00" cy="452.50" r="7.20" fill="none" stroke="#888" stroke-width="0.4"/>
<circle cx="362.00" cy="452.50" r="2.70" fill="none" stroke="#444" stroke-width="0.55"/>
<circle cx="362.00" cy="452.50" r="0.55" fill="#555" stroke="none" stroke-width="0"/>
<circle cx="398.00" cy="453.00" r="12.00" fill="none" stroke="#1a1a1a" stroke-width="1.1"/>
<circle cx="398.20" cy="452.90" r="10.80" fill="none" stroke="#3a3a3a" stroke-width="0.55"/>
<circle cx="398.00" cy="453.00" r="8.88" fill="none" stroke="#555" stroke-width="0.5"/>
<circle cx="398.00" cy="453.00" r="7.20" fill="none" stroke="#888" stroke-width="0.4"/>
<circle cx="398.00" cy="453.00" r="2.70" fill="none" stroke="#444" stroke-width="0.55"/>
<circle cx="398.00" cy="453.00" r="0.55" fill="#555" stroke="none" stroke-width="0"/>
<circle cx="415.50" cy="455.50" r="9.50" fill="none" stroke="#1a1a1a" stroke-width="1.1"/>
<circle cx="415.70" cy="455.40" r="8.55" fill="none" stroke="#3a3a3a" stroke-width="0.55"/>
<circle cx="415.50" cy="455.50" r="7.03" fill="none" stroke="#555" stroke-width="0.5"/>
<circle cx="415.50" cy="455.50" r="5.70" fill="none" stroke="#888" stroke-width="0.4"/>
<circle cx="415.50" cy="455.50" r="2.20" fill="none" stroke="#444" stroke-width="0.55"/>
<circle cx="415.50" cy="455.50" r="0.55" fill="#555" stroke="none" stroke-width="0"/>
<circle cx="437.50" cy="452.50" r="9.00" fill="none" stroke="#1a1a1a" stroke-width="1.1"/>
<circle cx="437.70" cy="452.40" r="8.10" fill="none" stroke="#3a3a3a" stroke-width="0.55"/>
<circle cx="437.50" cy="452.50" r="6.66" fill="none" stroke="#555" stroke-width="0.5"/>
<circle cx="437.50" cy="452.50" r="5.40" fill="none" stroke="#888" stroke-width="0.4"/>
<circle cx="437.50" cy="452.50" r="2.10" fill="none" stroke="#444" stroke-width="0.55"/>
<circle cx="437.50" cy="452.50" r="0.55" fill="#555" stroke="none" stroke-width="0"/>
<circle cx="451.25" cy="452.50" r="12.00" fill="none" stroke="#1a1a1a" stroke-width="1.1"/>
<circle cx="451.45" cy="452.40" r="10.80" fill="none" stroke="#3a3a3a" stroke-width="0.55"/>
<circle cx="451.25" cy="452.50" r="8.88" fill="none" stroke="#555" stroke-width="0.5"/>
<circle cx="451.25" cy="452.50" r="7.20" fill="none" stroke="#888" stroke-width="0.4"/>
<circle cx="451.25" cy="452.50" r="2.70" fill="none" stroke="#444" stroke-width="0.55"/>
<circle cx="451.25" cy="452.50" r="0.55" fill="#555" stroke="none" stroke-width="0"/>
<circle cx="486.25" cy="451.25" r="10.00" fill="none" stroke="#1a1a1a" stroke-width="1.1"/>
<circle cx="486.45" cy="451.15" r="9.00" fill="none" stroke="#3a3a3a" stroke-width="0.55"/>
<circle cx="486.25" cy="451.25" r="7.40" fill="none" stroke="#555" stroke-width="0.5"/>
<circle cx="486.25" cy="451.25" r="6.00" fill="none" stroke="#888" stroke-width="0.4"/>
<circle cx="486.25" cy="451.25" r="2.30" fill="none" stroke="#444" stroke-width="0.55"/>
<circle cx="486.25" cy="451.25" r="0.55" fill="#555" stroke="none" stroke-width="0"/>
<!-- misc -->
<path fill-rule="evenodd" fill="#111" d="M505.1,485.2 C505.1,481.4 506.9,479.3 509.6,479.3 C512.3,479.3 514.1,481.4 514.1,485.2 V490.8 C514.1,494.6 512.3,496.7 509.6,496.7 C506.9,496.7 505.1,494.6 505.1,490.8 Z M507.2,485.0 C507.2,482.3 508.1,480.9 509.6,480.9 C511.1,480.9 512.0,482.3 512.0,485.0 V491.0 C512.0,493.7 511.1,495.1 509.6,495.1 C508.1,495.1 507.2,493.7 507.2,491.0 Z"/>
<rect x="524.00" y="504.80" width="1.60" height="1.20" fill="#bbb" stroke="none" stroke-width="0" />
</svg>
</body></html>
